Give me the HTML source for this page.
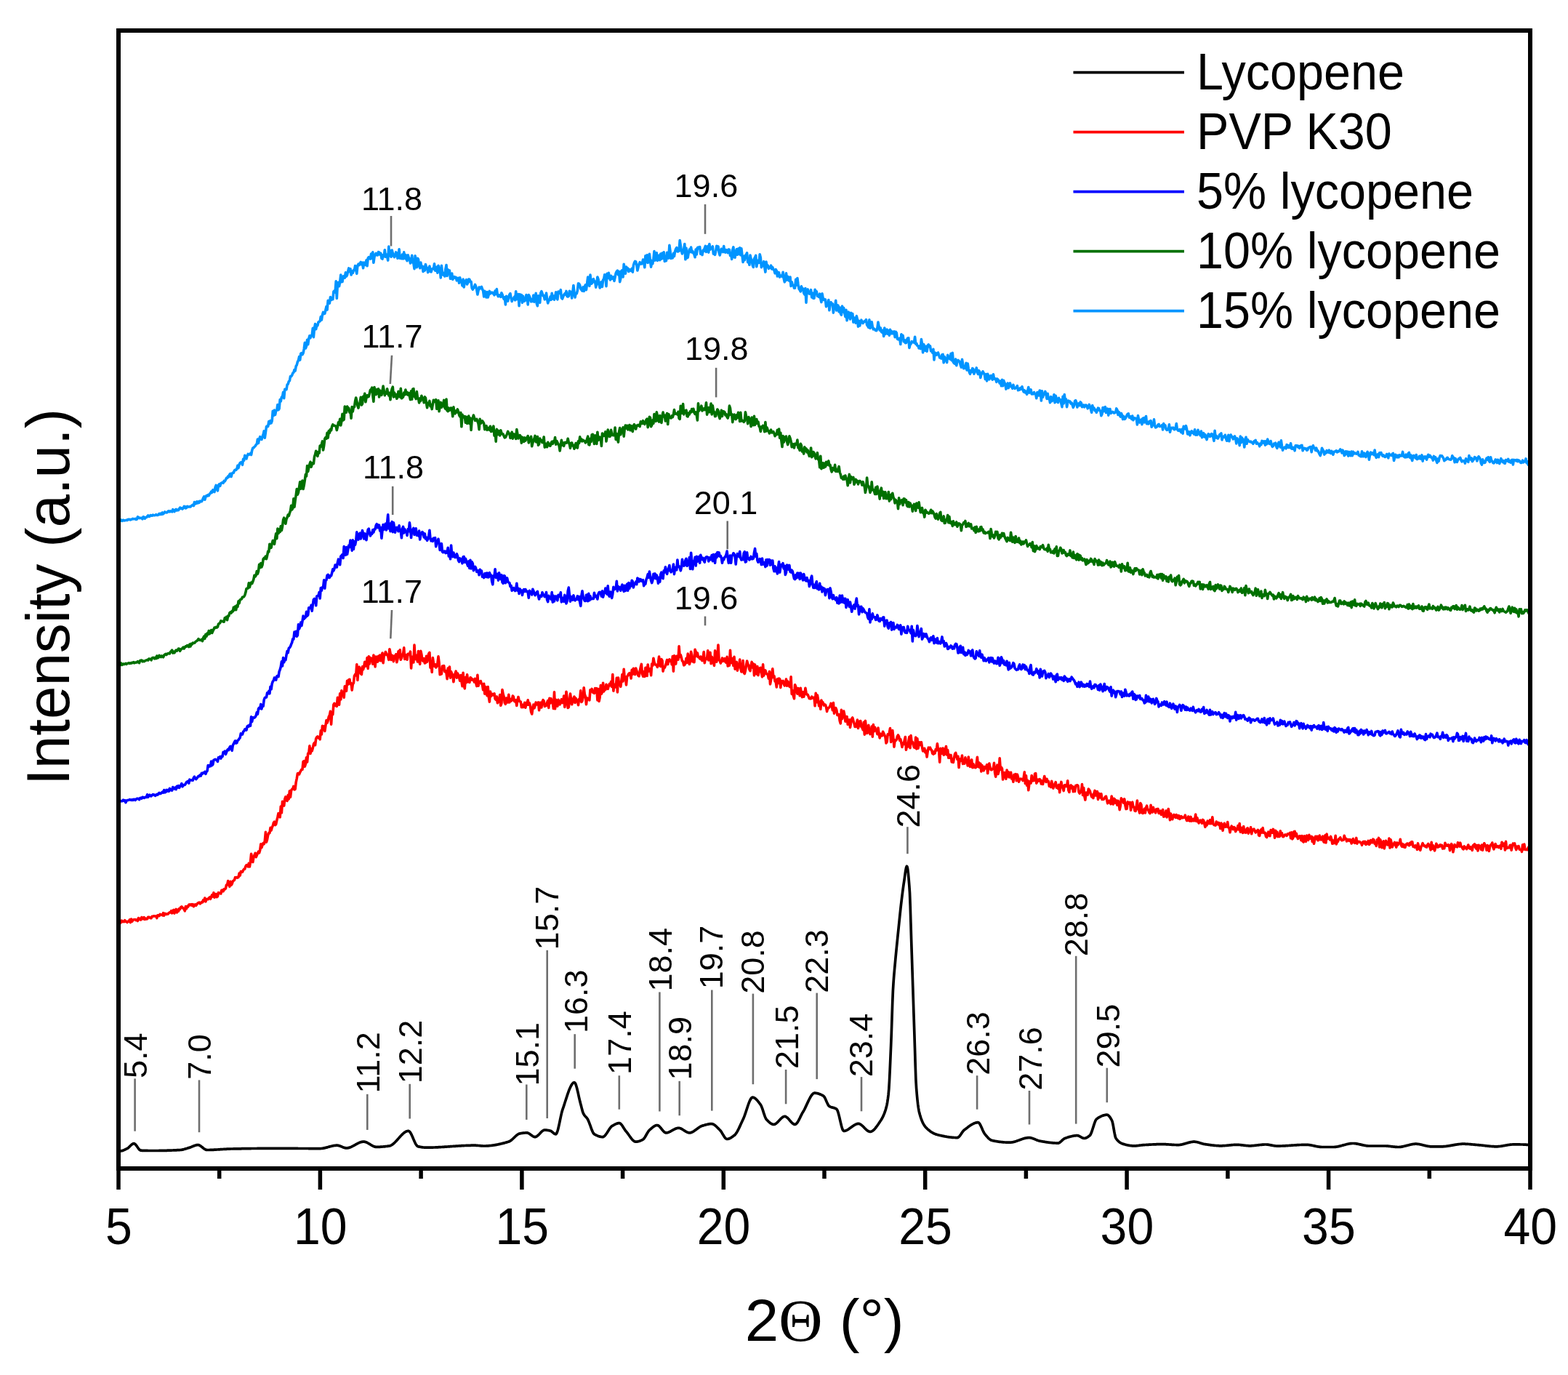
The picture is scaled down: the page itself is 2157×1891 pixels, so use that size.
<!DOCTYPE html><html><head><meta charset="utf-8"><title>XRD</title>
<style>html,body{margin:0;padding:0;background:#fff;}svg{display:block;}text{font-family:"Liberation Sans",Arial,sans-serif;fill:#000;}</style></head><body>
<svg width="2157" height="1891" viewBox="0 0 2157 1891">
<rect width="2157" height="1891" fill="#fff"/>
<g fill="none" stroke-linejoin="round" stroke-linecap="round">
<path d="M163.0 1267.6 L164.1 1268.0 L165.2 1269.7 L166.3 1268.6 L167.4 1266.2 L168.5 1267.7 L169.6 1267.0 L170.7 1267.6 L171.8 1265.7 L172.9 1267.4 L174.0 1267.3 L175.1 1268.5 L176.2 1267.1 L177.3 1267.1 L178.4 1264.9 L179.5 1268.7 L180.6 1264.1 L181.7 1267.2 L182.8 1265.5 L183.9 1264.7 L185.0 1264.8 L186.1 1264.6 L187.2 1265.6 L188.3 1264.9 L189.4 1266.5 L190.5 1262.6 L191.6 1264.5 L192.7 1263.3 L193.8 1265.0 L194.9 1261.5 L196.0 1263.4 L197.1 1263.8 L198.2 1261.6 L199.3 1264.4 L200.4 1263.2 L201.5 1264.0 L202.6 1263.8 L203.7 1261.2 L204.8 1261.2 L205.9 1261.8 L207.0 1262.7 L208.1 1262.6 L209.2 1260.4 L210.3 1260.3 L211.4 1259.8 L212.5 1259.9 L213.6 1260.1 L214.7 1259.9 L215.8 1262.6 L216.9 1258.9 L218.0 1258.9 L219.1 1259.6 L220.2 1257.4 L221.3 1257.9 L222.4 1258.1 L223.5 1258.9 L224.6 1255.6 L225.7 1259.1 L226.8 1256.3 L227.9 1256.8 L229.0 1257.4 L230.1 1256.8 L231.2 1257.1 L232.3 1255.5 L233.4 1254.9 L234.5 1255.0 L235.6 1252.7 L236.7 1255.8 L237.8 1252.4 L238.9 1251.3 L240.0 1256.1 L241.1 1252.4 L242.2 1250.5 L243.3 1254.9 L244.4 1251.2 L245.5 1253.1 L246.6 1249.7 L247.7 1250.3 L248.8 1247.6 L249.9 1246.9 L251.0 1248.1 L252.1 1249.3 L253.2 1250.4 L254.3 1252.8 L255.4 1246.6 L256.5 1249.7 L257.6 1246.6 L258.7 1247.0 L259.8 1244.3 L260.9 1243.9 L262.0 1244.8 L263.1 1243.6 L264.2 1245.3 L265.3 1243.7 L266.4 1246.7 L267.5 1244.4 L268.6 1243.9 L269.7 1245.3 L270.8 1243.7 L271.9 1242.2 L273.0 1241.7 L274.1 1241.1 L275.2 1242.9 L276.3 1241.9 L277.4 1240.6 L278.5 1240.9 L279.6 1237.8 L280.7 1239.3 L281.8 1235.0 L282.9 1239.9 L284.0 1236.9 L285.1 1236.5 L286.2 1236.8 L287.3 1235.0 L288.4 1234.0 L289.5 1236.3 L290.6 1233.5 L291.7 1230.8 L292.8 1233.0 L293.9 1227.8 L295.0 1234.3 L296.1 1229.8 L297.2 1229.6 L298.3 1233.7 L299.4 1232.8 L300.5 1227.7 L301.6 1228.1 L302.7 1228.4 L303.8 1229.1 L304.9 1224.2 L306.0 1224.1 L307.1 1225.8 L308.2 1222.8 L309.3 1223.1 L310.4 1222.0 L311.5 1217.0 L312.6 1216.8 L313.7 1211.6 L314.8 1216.4 L315.9 1219.3 L317.0 1212.4 L318.1 1217.2 L319.2 1215.6 L320.3 1211.9 L321.4 1211.0 L322.5 1210.2 L323.6 1206.6 L324.7 1207.0 L325.8 1206.5 L326.9 1207.1 L328.0 1206.4 L329.1 1201.1 L330.2 1204.1 L331.3 1198.5 L332.4 1198.9 L333.5 1199.2 L334.6 1196.8 L335.7 1195.2 L336.8 1195.1 L337.9 1191.4 L339.0 1189.8 L340.1 1189.7 L341.2 1191.8 L342.3 1187.3 L343.4 1191.9 L344.5 1185.5 L345.6 1174.4 L346.7 1180.6 L347.8 1185.6 L348.9 1179.1 L350.0 1176.2 L351.1 1173.3 L352.2 1178.7 L353.3 1176.2 L354.4 1173.6 L355.5 1171.2 L356.6 1172.9 L357.7 1169.3 L358.8 1160.9 L359.9 1165.8 L361.0 1162.2 L362.1 1159.5 L363.2 1160.7 L364.3 1156.4 L365.4 1144.4 L366.5 1158.1 L367.6 1154.4 L368.7 1148.5 L369.8 1145.6 L370.9 1145.8 L372.0 1138.4 L373.1 1142.1 L374.2 1138.1 L375.3 1135.6 L376.4 1131.4 L377.5 1130.1 L378.6 1134.7 L379.7 1133.5 L380.8 1128.2 L381.9 1123.9 L383.0 1118.5 L384.1 1122.5 L385.2 1123.9 L386.3 1109.0 L387.4 1117.8 L388.5 1102.3 L389.6 1107.4 L390.7 1108.1 L391.8 1098.8 L392.9 1095.9 L394.0 1100.7 L395.1 1101.3 L396.2 1093.5 L397.3 1098.9 L398.4 1087.7 L399.5 1096.3 L400.6 1087.1 L401.7 1085.4 L402.8 1084.8 L403.9 1081.4 L405.0 1085.9 L406.1 1085.3 L407.2 1075.8 L408.3 1070.5 L409.4 1063.8 L410.5 1063.5 L411.6 1064.8 L412.7 1062.1 L413.8 1060.2 L414.9 1058.2 L416.0 1058.2 L417.1 1047.4 L418.2 1046.6 L419.3 1054.3 L420.4 1050.7 L421.5 1041.8 L422.6 1048.1 L423.7 1036.3 L424.8 1035.9 L425.9 1025.9 L427.0 1036.5 L428.1 1029.9 L429.2 1032.9 L430.3 1028.8 L431.4 1023.5 L432.5 1021.6 L433.6 1024.7 L434.7 1015.8 L435.8 1013.8 L436.9 1013.0 L438.0 1014.8 L439.1 1013.5 L440.2 1016.8 L441.3 1004.8 L442.4 1010.0 L443.5 998.4 L444.6 1003.1 L445.7 998.9 L446.8 1005.5 L447.9 997.9 L449.0 990.5 L450.1 994.1 L451.2 991.0 L452.3 985.6 L453.4 983.8 L454.5 978.3 L455.6 996.1 L456.7 980.1 L457.8 982.5 L458.9 968.9 L460.0 967.3 L461.1 970.3 L462.2 968.2 L463.3 971.3 L464.4 959.4 L465.5 965.8 L466.6 969.2 L467.7 953.8 L468.8 962.0 L469.9 949.7 L471.0 955.1 L472.1 953.4 L473.2 959.3 L474.3 943.9 L475.4 947.0 L476.5 950.3 L477.6 936.2 L478.7 941.2 L479.8 934.8 L480.9 934.3 L482.0 940.8 L483.1 939.6 L484.2 949.1 L485.3 940.9 L486.4 939.2 L487.5 929.5 L488.6 927.5 L489.7 928.9 L490.8 913.7 L491.9 935.4 L493.0 920.7 L494.1 917.3 L495.2 919.7 L496.3 926.4 L497.4 927.5 L498.5 916.9 L499.6 920.7 L500.7 916.8 L501.8 910.3 L502.9 916.3 L504.0 914.6 L505.1 904.6 L506.2 919.4 L507.3 902.9 L508.4 912.9 L509.5 904.6 L510.6 905.4 L511.7 905.5 L512.8 913.3 L513.9 901.1 L515.0 907.0 L516.1 916.9 L517.2 903.0 L518.3 906.5 L519.4 910.2 L520.5 902.3 L521.6 908.2 L522.7 901.0 L523.8 908.7 L524.9 904.4 L526.0 898.0 L527.1 911.7 L528.2 902.2 L529.3 900.7 L530.4 896.5 L531.5 898.9 L532.6 900.8 L533.7 902.1 L534.8 907.4 L535.9 892.7 L537.0 898.3 L538.1 907.5 L539.2 901.2 L540.3 902.5 L541.4 909.6 L542.5 902.0 L543.6 902.8 L544.7 899.8 L545.8 910.7 L546.9 906.5 L548.0 895.9 L549.1 903.7 L550.2 893.7 L551.3 907.3 L552.4 905.0 L553.5 900.2 L554.6 899.0 L555.7 890.9 L556.8 906.5 L557.9 901.5 L559.0 900.7 L560.1 907.2 L561.2 899.2 L562.3 900.0 L563.4 899.7 L564.5 896.1 L565.6 919.0 L566.7 903.7 L567.8 903.1 L568.9 911.0 L570.0 887.1 L571.1 906.1 L572.2 906.7 L573.3 901.2 L574.4 910.0 L575.5 895.5 L576.6 908.0 L577.7 913.5 L578.8 895.3 L579.9 900.2 L581.0 908.1 L582.1 909.2 L583.2 905.7 L584.3 912.0 L585.4 911.6 L586.5 902.4 L587.6 910.1 L588.7 903.5 L589.8 899.1 L590.9 897.4 L592.0 918.2 L593.1 911.7 L594.2 924.4 L595.3 904.6 L596.4 911.6 L597.5 916.1 L598.6 913.7 L599.7 918.0 L600.8 916.4 L601.9 912.4 L603.0 902.9 L604.1 911.5 L605.2 927.8 L606.3 922.8 L607.4 926.9 L608.5 916.0 L609.6 919.0 L610.7 915.6 L611.8 923.6 L612.9 922.3 L614.0 925.3 L615.1 933.6 L616.2 919.0 L617.3 928.9 L618.4 917.0 L619.5 932.2 L620.6 923.9 L621.7 926.7 L622.8 928.5 L623.9 937.8 L625.0 928.7 L626.1 926.5 L627.2 923.1 L628.3 932.1 L629.4 926.0 L630.5 928.5 L631.6 931.7 L632.7 936.2 L633.8 928.6 L634.9 937.0 L636.0 943.7 L637.1 925.3 L638.2 942.0 L639.3 946.9 L640.4 931.5 L641.5 938.7 L642.6 927.7 L643.7 937.8 L644.8 934.4 L645.9 938.4 L647.0 931.7 L648.1 932.7 L649.2 935.2 L650.3 934.2 L651.4 935.2 L652.5 938.0 L653.6 933.4 L654.7 939.4 L655.8 943.6 L656.9 928.4 L658.0 943.3 L659.1 938.7 L660.2 937.3 L661.3 936.7 L662.4 940.3 L663.5 941.7 L664.6 948.6 L665.7 940.4 L666.8 954.1 L667.9 944.5 L669.0 953.7 L670.1 956.7 L671.2 944.5 L672.3 958.1 L673.4 965.1 L674.5 951.1 L675.6 957.5 L676.7 954.2 L677.8 955.9 L678.9 955.0 L680.0 953.8 L681.1 961.1 L682.2 962.4 L683.3 958.0 L684.4 966.8 L685.5 964.8 L686.6 963.0 L687.7 955.5 L688.8 970.3 L689.9 967.4 L691.0 948.6 L692.1 954.6 L693.2 958.3 L694.3 966.4 L695.4 968.3 L696.5 960.1 L697.6 963.3 L698.7 966.0 L699.8 955.4 L700.9 965.9 L702.0 961.2 L703.1 964.1 L704.2 963.0 L705.3 957.0 L706.4 958.2 L707.5 964.2 L708.6 964.9 L709.7 962.9 L710.8 970.5 L711.9 962.9 L713.0 958.5 L714.1 963.5 L715.2 964.7 L716.3 965.2 L717.4 972.6 L718.5 969.3 L719.6 972.6 L720.7 970.5 L721.8 966.4 L722.9 973.3 L724.0 966.4 L725.1 969.4 L726.2 962.8 L727.3 969.1 L728.4 966.9 L729.5 970.9 L730.6 978.9 L731.7 982.0 L732.8 974.7 L733.9 969.1 L735.0 973.8 L736.1 970.6 L737.2 966.0 L738.3 969.0 L739.4 968.0 L740.5 966.0 L741.6 976.8 L742.7 966.3 L743.8 966.5 L744.9 973.0 L746.0 965.3 L747.1 962.7 L748.2 964.3 L749.3 971.5 L750.4 970.8 L751.5 970.3 L752.6 966.1 L753.7 963.5 L754.8 973.4 L755.9 960.4 L757.0 967.0 L758.1 960.8 L759.2 965.7 L760.3 967.0 L761.4 974.4 L762.5 951.8 L763.6 974.8 L764.7 962.3 L765.8 968.6 L766.9 971.2 L768.0 962.4 L769.1 965.9 L770.2 968.9 L771.3 965.3 L772.4 961.8 L773.5 966.6 L774.6 966.0 L775.7 957.0 L776.8 972.4 L777.9 966.0 L779.0 951.2 L780.1 959.7 L781.2 973.5 L782.3 972.6 L783.4 965.1 L784.5 954.1 L785.6 961.8 L786.7 968.7 L787.8 964.8 L788.9 960.5 L790.0 958.1 L791.1 966.4 L792.2 960.4 L793.3 963.1 L794.4 963.7 L795.5 969.7 L796.6 961.4 L797.7 961.5 L798.8 949.8 L799.9 965.5 L801.0 963.9 L802.1 958.6 L803.2 945.7 L804.3 954.8 L805.4 957.9 L806.5 968.8 L807.6 960.0 L808.7 960.7 L809.8 960.4 L810.9 962.9 L812.0 948.7 L813.1 949.8 L814.2 947.5 L815.3 952.1 L816.4 951.3 L817.5 953.4 L818.6 946.6 L819.7 952.4 L820.8 946.7 L821.9 962.9 L823.0 947.6 L824.1 964.5 L825.2 958.9 L826.3 942.5 L827.4 954.2 L828.5 951.8 L829.6 939.2 L830.7 950.9 L831.8 946.5 L832.9 948.5 L834.0 941.2 L835.1 945.2 L836.2 947.4 L837.3 943.6 L838.4 940.7 L839.5 942.7 L840.6 937.5 L841.7 944.5 L842.8 927.5 L843.9 950.2 L845.0 941.4 L846.1 943.2 L847.2 944.9 L848.3 932.4 L849.4 951.9 L850.5 932.0 L851.6 940.5 L852.7 939.2 L853.8 944.3 L854.9 936.1 L856.0 927.5 L857.1 936.9 L858.2 920.3 L859.3 932.8 L860.4 930.8 L861.5 941.9 L862.6 930.7 L863.7 929.1 L864.8 926.8 L865.9 925.7 L867.0 926.9 L868.1 933.0 L869.2 921.3 L870.3 927.2 L871.4 919.4 L872.5 926.3 L873.6 927.7 L874.7 919.1 L875.8 922.4 L876.9 925.8 L878.0 929.2 L879.1 929.8 L880.2 923.1 L881.3 917.5 L882.4 913.4 L883.5 927.0 L884.6 930.2 L885.7 923.8 L886.8 930.5 L887.9 918.3 L889.0 918.3 L890.1 929.5 L891.2 914.0 L892.3 923.1 L893.4 921.5 L894.5 919.8 L895.6 928.8 L896.7 913.1 L897.8 915.4 L898.9 905.2 L900.0 911.0 L901.1 913.8 L902.2 914.2 L903.3 914.9 L904.4 917.5 L905.5 911.3 L906.6 903.1 L907.7 915.3 L908.8 916.5 L909.9 906.6 L911.0 908.4 L912.1 923.1 L913.2 918.3 L914.3 918.3 L915.4 915.4 L916.5 911.8 L917.6 907.5 L918.7 913.6 L919.8 908.7 L920.9 906.9 L922.0 909.1 L923.1 908.4 L924.2 914.0 L925.3 902.6 L926.4 923.1 L927.5 901.9 L928.6 905.1 L929.7 913.1 L930.8 902.3 L931.9 904.2 L933.0 907.1 L934.1 888.9 L935.2 903.5 L936.3 900.6 L937.4 904.8 L938.5 909.1 L939.6 909.8 L940.7 914.9 L941.8 914.4 L942.9 911.8 L944.0 905.2 L945.1 911.5 L946.2 899.1 L947.3 904.4 L948.4 913.5 L949.5 909.5 L950.6 896.2 L951.7 900.9 L952.8 909.9 L953.9 908.0 L955.0 910.7 L956.1 893.4 L957.2 896.4 L958.3 902.5 L959.4 898.0 L960.5 903.7 L961.6 903.9 L962.7 905.9 L963.8 903.0 L964.9 907.2 L966.0 908.6 L967.1 904.8 L968.2 896.6 L969.3 911.8 L970.4 905.4 L971.5 906.7 L972.6 905.3 L973.7 894.7 L974.8 908.0 L975.9 900.7 L977.0 897.4 L978.1 912.7 L979.2 903.3 L980.3 907.0 L981.4 910.8 L982.5 915.4 L983.6 894.9 L984.7 901.5 L985.8 910.3 L986.9 902.4 L988.0 887.0 L989.1 907.7 L990.2 908.4 L991.3 912.1 L992.4 908.9 L993.5 905.1 L994.6 909.3 L995.7 908.1 L996.8 905.6 L997.9 910.4 L999.0 911.3 L1000.1 903.4 L1001.2 916.0 L1002.3 915.1 L1003.4 915.1 L1004.5 894.3 L1005.6 911.8 L1006.7 910.6 L1007.8 905.7 L1008.9 915.5 L1010.0 903.4 L1011.1 920.1 L1012.2 915.4 L1013.3 910.4 L1014.4 922.2 L1015.5 916.9 L1016.6 916.4 L1017.7 907.1 L1018.8 918.3 L1019.9 923.9 L1021.0 922.4 L1022.1 908.6 L1023.2 924.9 L1024.3 926.5 L1025.4 922.3 L1026.5 915.4 L1027.6 909.1 L1028.7 913.0 L1029.8 915.3 L1030.9 920.7 L1032.0 922.7 L1033.1 915.3 L1034.2 910.4 L1035.3 917.9 L1036.4 912.9 L1037.5 928.9 L1038.6 914.1 L1039.7 924.5 L1040.8 926.9 L1041.9 916.6 L1043.0 928.6 L1044.1 922.3 L1045.2 918.8 L1046.3 918.3 L1047.4 924.9 L1048.5 930.9 L1049.6 913.9 L1050.7 929.1 L1051.8 925.0 L1052.9 921.9 L1054.0 926.2 L1055.1 927.2 L1056.2 927.5 L1057.3 933.1 L1058.4 923.6 L1059.5 940.9 L1060.6 935.1 L1061.7 927.0 L1062.8 919.8 L1063.9 931.5 L1065.0 929.8 L1066.1 937.0 L1067.2 937.5 L1068.3 945.0 L1069.4 933.7 L1070.5 939.6 L1071.6 933.1 L1072.7 934.0 L1073.8 945.6 L1074.9 936.5 L1076.0 937.2 L1077.1 936.4 L1078.2 940.8 L1079.3 943.0 L1080.4 939.4 L1081.5 934.1 L1082.6 943.2 L1083.7 937.1 L1084.8 940.3 L1085.9 944.1 L1087.0 944.9 L1088.1 930.8 L1089.2 954.4 L1090.3 949.8 L1091.4 956.9 L1092.5 960.8 L1093.6 941.7 L1094.7 944.4 L1095.8 949.6 L1096.9 954.2 L1098.0 946.6 L1099.1 948.3 L1100.2 956.8 L1101.3 946.4 L1102.4 953.2 L1103.5 958.8 L1104.6 951.8 L1105.7 958.3 L1106.8 954.0 L1107.9 946.4 L1109.0 952.9 L1110.1 955.4 L1111.2 955.4 L1112.3 958.0 L1113.4 960.8 L1114.5 960.8 L1115.6 960.9 L1116.7 958.1 L1117.8 960.0 L1118.9 959.8 L1120.0 959.2 L1121.1 970.8 L1122.2 953.3 L1123.3 965.7 L1124.4 956.1 L1125.5 962.4 L1126.6 970.8 L1127.7 965.4 L1128.8 975.3 L1129.9 963.0 L1131.0 967.2 L1132.1 966.0 L1133.2 970.1 L1134.3 968.9 L1135.4 969.2 L1136.5 972.3 L1137.6 978.4 L1138.7 973.8 L1139.8 973.9 L1140.9 972.5 L1142.0 970.8 L1143.1 967.4 L1144.2 970.1 L1145.3 976.6 L1146.4 966.6 L1147.5 981.1 L1148.6 975.8 L1149.7 973.6 L1150.8 976.4 L1151.9 983.4 L1153.0 982.5 L1154.1 982.6 L1155.2 991.2 L1156.3 995.0 L1157.4 976.4 L1158.5 988.6 L1159.6 980.5 L1160.7 978.0 L1161.8 983.2 L1162.9 992.1 L1164.0 985.8 L1165.1 985.6 L1166.2 996.3 L1167.3 992.2 L1168.4 989.8 L1169.5 1000.4 L1170.6 994.1 L1171.7 988.3 L1172.8 987.0 L1173.9 991.2 L1175.0 994.8 L1176.1 999.5 L1177.2 999.5 L1178.3 996.2 L1179.4 990.0 L1180.5 1001.5 L1181.6 997.6 L1182.7 991.9 L1183.8 991.6 L1184.9 999.6 L1186.0 1000.7 L1187.1 1003.6 L1188.2 993.4 L1189.3 1010.2 L1190.4 991.2 L1191.5 1000.9 L1192.6 1008.5 L1193.7 1007.4 L1194.8 997.4 L1195.9 1006.0 L1197.0 1009.6 L1198.1 1007.5 L1199.2 999.1 L1200.3 1013.2 L1201.4 996.6 L1202.5 1005.7 L1203.6 1000.3 L1204.7 1004.1 L1205.8 1005.0 L1206.9 1009.7 L1208.0 1001.0 L1209.1 1009.1 L1210.2 1015.0 L1211.3 1009.2 L1212.4 1012.0 L1213.5 1011.8 L1214.6 1006.2 L1215.7 1008.5 L1216.8 1011.0 L1217.9 1013.6 L1219.0 1021.9 L1220.1 1020.3 L1221.2 1009.9 L1222.3 1010.5 L1223.4 1007.9 L1224.5 1001.6 L1225.6 1020.4 L1226.7 1016.8 L1227.8 1004.6 L1228.9 1014.9 L1230.0 1027.1 L1231.1 1018.0 L1232.2 1018.4 L1233.3 1017.3 L1234.4 1012.7 L1235.5 1011.0 L1236.6 1013.1 L1237.7 1018.3 L1238.8 1016.7 L1239.9 1021.8 L1241.0 1027.5 L1242.1 1022.0 L1243.2 1023.6 L1244.3 1017.9 L1245.4 1013.5 L1246.5 1031.3 L1247.6 1024.4 L1248.7 1027.0 L1249.8 1019.5 L1250.9 1013.2 L1252.0 1028.7 L1253.1 1011.6 L1254.2 1022.0 L1255.3 1020.5 L1256.4 1024.6 L1257.5 1027.9 L1258.6 1028.3 L1259.7 1014.1 L1260.8 1029.9 L1261.9 1015.9 L1263.0 1029.1 L1264.1 1024.0 L1265.2 1020.9 L1266.3 1024.3 L1267.4 1020.8 L1268.5 1027.7 L1269.6 1032.9 L1270.7 1032.6 L1271.8 1029.3 L1272.9 1034.9 L1274.0 1032.4 L1275.1 1041.0 L1276.2 1033.3 L1277.3 1028.2 L1278.4 1030.0 L1279.5 1028.1 L1280.6 1030.8 L1281.7 1031.8 L1282.8 1036.3 L1283.9 1037.1 L1285.0 1033.8 L1286.1 1036.0 L1287.2 1030.5 L1288.3 1031.8 L1289.4 1022.7 L1290.5 1031.2 L1291.6 1032.9 L1292.7 1048.2 L1293.8 1029.3 L1294.9 1036.5 L1296.0 1034.8 L1297.1 1029.0 L1298.2 1038.3 L1299.3 1037.4 L1300.4 1030.5 L1301.5 1026.6 L1302.6 1038.0 L1303.7 1031.6 L1304.8 1042.2 L1305.9 1037.9 L1307.0 1042.2 L1308.1 1038.5 L1309.2 1047.9 L1310.3 1044.1 L1311.4 1048.5 L1312.5 1042.0 L1313.6 1036.9 L1314.7 1035.3 L1315.8 1040.1 L1316.9 1044.3 L1318.0 1040.3 L1319.1 1055.5 L1320.2 1043.7 L1321.3 1046.6 L1322.4 1045.1 L1323.5 1039.0 L1324.6 1050.5 L1325.7 1048.9 L1326.8 1050.2 L1327.9 1041.9 L1329.0 1046.8 L1330.1 1046.8 L1331.2 1053.0 L1332.3 1041.0 L1333.4 1051.2 L1334.5 1054.4 L1335.6 1046.6 L1336.7 1045.0 L1337.8 1055.6 L1338.9 1050.7 L1340.0 1055.3 L1341.1 1053.9 L1342.2 1055.7 L1343.3 1050.1 L1344.4 1041.2 L1345.5 1054.5 L1346.6 1048.8 L1347.7 1055.4 L1348.8 1050.3 L1349.9 1061.0 L1351.0 1052.5 L1352.1 1058.0 L1353.2 1059.8 L1354.3 1054.5 L1355.4 1056.9 L1356.5 1055.7 L1357.6 1051.8 L1358.7 1063.5 L1359.8 1052.6 L1360.9 1050.0 L1362.0 1055.3 L1363.1 1058.7 L1364.2 1058.8 L1365.3 1057.2 L1366.4 1057.0 L1367.5 1049.4 L1368.6 1062.7 L1369.7 1068.2 L1370.8 1057.0 L1371.9 1052.2 L1373.0 1064.5 L1374.1 1060.5 L1375.2 1042.9 L1376.3 1058.3 L1377.4 1055.3 L1378.5 1056.9 L1379.6 1072.0 L1380.7 1067.6 L1381.8 1062.5 L1382.9 1063.6 L1384.0 1071.2 L1385.1 1059.0 L1386.2 1067.9 L1387.3 1061.8 L1388.4 1069.0 L1389.5 1066.5 L1390.6 1062.3 L1391.7 1071.0 L1392.8 1069.0 L1393.9 1075.3 L1395.0 1065.2 L1396.1 1068.1 L1397.2 1064.6 L1398.3 1073.8 L1399.4 1065.0 L1400.5 1068.7 L1401.6 1075.2 L1402.7 1071.9 L1403.8 1071.1 L1404.9 1071.3 L1406.0 1071.9 L1407.1 1073.6 L1408.2 1069.4 L1409.3 1061.9 L1410.4 1077.5 L1411.5 1066.7 L1412.6 1080.2 L1413.7 1073.3 L1414.8 1086.8 L1415.9 1077.8 L1417.0 1074.5 L1418.1 1077.0 L1419.2 1066.5 L1420.3 1073.9 L1421.4 1071.6 L1422.5 1073.5 L1423.6 1064.2 L1424.7 1063.6 L1425.8 1077.2 L1426.9 1074.3 L1428.0 1072.2 L1429.1 1074.0 L1430.2 1071.6 L1431.3 1072.6 L1432.4 1078.1 L1433.5 1074.1 L1434.6 1078.5 L1435.7 1072.3 L1436.8 1067.5 L1437.9 1073.0 L1439.0 1075.5 L1440.1 1071.3 L1441.2 1074.8 L1442.3 1074.5 L1443.4 1081.3 L1444.5 1081.1 L1445.6 1082.5 L1446.7 1074.3 L1447.8 1079.6 L1448.9 1084.1 L1450.0 1079.3 L1451.1 1078.5 L1452.2 1075.6 L1453.3 1083.1 L1454.4 1080.4 L1455.5 1084.4 L1456.6 1079.4 L1457.7 1089.7 L1458.8 1080.6 L1459.9 1075.4 L1461.0 1082.2 L1462.1 1083.7 L1463.2 1087.6 L1464.3 1079.9 L1465.4 1079.9 L1466.5 1081.5 L1467.6 1081.2 L1468.7 1073.7 L1469.8 1086.7 L1470.9 1089.4 L1472.0 1080.7 L1473.1 1080.0 L1474.2 1084.0 L1475.3 1081.3 L1476.4 1088.8 L1477.5 1082.7 L1478.6 1088.5 L1479.7 1080.5 L1480.8 1080.1 L1481.9 1079.7 L1483.0 1080.6 L1484.1 1089.1 L1485.2 1091.2 L1486.3 1088.4 L1487.4 1089.0 L1488.5 1078.6 L1489.6 1093.5 L1490.7 1083.5 L1491.8 1094.9 L1492.9 1100.1 L1494.0 1090.1 L1495.1 1092.9 L1496.2 1093.2 L1497.3 1085.0 L1498.4 1086.2 L1499.5 1088.4 L1500.6 1092.5 L1501.7 1095.8 L1502.8 1093.0 L1503.9 1097.6 L1505.0 1091.0 L1506.1 1087.4 L1507.2 1094.0 L1508.3 1094.0 L1509.4 1088.5 L1510.5 1099.4 L1511.6 1091.2 L1512.7 1092.6 L1513.8 1097.0 L1514.9 1091.8 L1516.0 1099.4 L1517.1 1098.7 L1518.2 1099.3 L1519.3 1097.7 L1520.4 1096.0 L1521.5 1095.1 L1522.6 1099.9 L1523.7 1104.8 L1524.8 1102.6 L1525.9 1101.1 L1527.0 1104.1 L1528.1 1105.7 L1529.2 1095.0 L1530.3 1100.4 L1531.4 1106.1 L1532.5 1098.4 L1533.6 1099.4 L1534.7 1104.3 L1535.8 1101.0 L1536.9 1107.3 L1538.0 1101.2 L1539.1 1105.3 L1540.2 1113.6 L1541.3 1108.2 L1542.4 1097.9 L1543.5 1099.5 L1544.6 1099.9 L1545.7 1104.2 L1546.8 1098.9 L1547.9 1107.4 L1549.0 1112.6 L1550.1 1112.2 L1551.2 1102.8 L1552.3 1105.1 L1553.4 1105.3 L1554.5 1103.5 L1555.6 1114.3 L1556.7 1104.7 L1557.8 1103.2 L1558.9 1109.7 L1560.0 1109.9 L1561.1 1115.1 L1562.2 1115.5 L1563.3 1108.7 L1564.4 1101.1 L1565.5 1112.9 L1566.6 1113.7 L1567.7 1118.1 L1568.8 1104.5 L1569.9 1106.5 L1571.0 1117.9 L1572.1 1118.5 L1573.2 1117.4 L1574.3 1112.3 L1575.4 1117.9 L1576.5 1110.7 L1577.6 1108.1 L1578.7 1113.2 L1579.8 1114.2 L1580.9 1117.3 L1582.0 1118.7 L1583.1 1107.4 L1584.2 1115.9 L1585.3 1117.0 L1586.4 1110.2 L1587.5 1114.5 L1588.6 1116.0 L1589.7 1117.8 L1590.8 1112.8 L1591.9 1114.1 L1593.0 1112.4 L1594.1 1118.4 L1595.2 1116.0 L1596.3 1115.2 L1597.4 1120.4 L1598.5 1117.4 L1599.6 1113.5 L1600.7 1123.1 L1601.8 1122.7 L1602.9 1120.9 L1604.0 1115.1 L1605.1 1123.9 L1606.2 1117.4 L1607.3 1112.6 L1608.4 1119.7 L1609.5 1127.7 L1610.6 1119.0 L1611.7 1123.3 L1612.8 1126.7 L1613.9 1122.2 L1615.0 1120.5 L1616.1 1122.0 L1617.2 1124.5 L1618.3 1120.5 L1619.4 1124.1 L1620.5 1125.1 L1621.6 1121.7 L1622.7 1126.3 L1623.8 1125.9 L1624.9 1122.7 L1626.0 1123.5 L1627.1 1124.9 L1628.2 1124.1 L1629.3 1124.2 L1630.4 1121.2 L1631.5 1125.9 L1632.6 1128.6 L1633.7 1128.4 L1634.8 1123.0 L1635.9 1128.6 L1637.0 1129.1 L1638.1 1123.4 L1639.2 1129.2 L1640.3 1126.8 L1641.4 1126.3 L1642.5 1128.9 L1643.6 1127.4 L1644.7 1120.0 L1645.8 1129.5 L1646.9 1124.7 L1648.0 1128.8 L1649.1 1132.0 L1650.2 1128.8 L1651.3 1128.2 L1652.4 1130.6 L1653.5 1132.2 L1654.6 1127.4 L1655.7 1128.4 L1656.8 1132.9 L1657.9 1137.3 L1659.0 1131.5 L1660.1 1135.0 L1661.2 1129.1 L1662.3 1132.2 L1663.4 1132.6 L1664.5 1127.8 L1665.6 1132.7 L1666.7 1132.3 L1667.8 1123.7 L1668.9 1133.0 L1670.0 1134.6 L1671.1 1134.6 L1672.2 1135.1 L1673.3 1130.0 L1674.4 1131.6 L1675.5 1133.8 L1676.6 1131.5 L1677.7 1133.1 L1678.8 1139.5 L1679.9 1132.0 L1681.0 1134.1 L1682.1 1142.3 L1683.2 1135.3 L1684.3 1132.3 L1685.4 1137.1 L1686.5 1137.0 L1687.6 1137.0 L1688.7 1130.6 L1689.8 1137.9 L1690.9 1138.5 L1692.0 1144.8 L1693.1 1140.0 L1694.2 1136.1 L1695.3 1139.0 L1696.4 1140.5 L1697.5 1137.7 L1698.6 1138.3 L1699.7 1143.6 L1700.8 1140.6 L1701.9 1140.8 L1703.0 1135.7 L1704.1 1140.9 L1705.2 1132.6 L1706.3 1144.1 L1707.4 1138.2 L1708.5 1142.3 L1709.6 1145.3 L1710.7 1136.5 L1711.8 1144.8 L1712.9 1141.6 L1714.0 1145.1 L1715.1 1139.8 L1716.2 1138.8 L1717.3 1146.1 L1718.4 1143.1 L1719.5 1142.0 L1720.6 1137.8 L1721.7 1146.8 L1722.8 1141.1 L1723.9 1141.6 L1725.0 1140.1 L1726.1 1142.8 L1727.2 1145.0 L1728.3 1142.8 L1729.4 1142.9 L1730.5 1141.4 L1731.6 1148.8 L1732.7 1149.4 L1733.8 1142.8 L1734.9 1140.9 L1736.0 1145.1 L1737.1 1138.6 L1738.2 1145.3 L1739.3 1145.5 L1740.4 1145.3 L1741.5 1150.5 L1742.6 1151.5 L1743.7 1146.8 L1744.8 1144.1 L1745.9 1149.1 L1747.0 1149.7 L1748.1 1141.6 L1749.2 1143.4 L1750.3 1145.2 L1751.4 1140.4 L1752.5 1142.5 L1753.6 1152.3 L1754.7 1142.3 L1755.8 1149.8 L1756.9 1144.2 L1758.0 1150.6 L1759.1 1148.4 L1760.2 1150.5 L1761.3 1142.7 L1762.4 1148.7 L1763.5 1145.8 L1764.6 1150.6 L1765.7 1150.6 L1766.8 1148.8 L1767.9 1147.9 L1769.0 1148.4 L1770.1 1149.4 L1771.2 1146.9 L1772.3 1147.3 L1773.4 1146.7 L1774.5 1145.4 L1775.6 1152.8 L1776.7 1144.7 L1777.8 1153.9 L1778.9 1152.0 L1780.0 1143.7 L1781.1 1143.4 L1782.2 1150.0 L1783.3 1146.3 L1784.4 1150.6 L1785.5 1153.5 L1786.6 1151.6 L1787.7 1149.7 L1788.8 1149.9 L1789.9 1155.7 L1791.0 1149.5 L1792.1 1156.9 L1793.2 1158.0 L1794.3 1149.9 L1795.4 1152.3 L1796.5 1157.3 L1797.6 1149.1 L1798.7 1153.1 L1799.8 1155.3 L1800.9 1148.3 L1802.0 1153.2 L1803.1 1152.5 L1804.2 1150.4 L1805.3 1157.5 L1806.4 1151.9 L1807.5 1160.3 L1808.6 1155.0 L1809.7 1150.3 L1810.8 1153.7 L1811.9 1150.3 L1813.0 1155.8 L1814.1 1155.3 L1815.2 1149.1 L1816.3 1151.9 L1817.4 1155.0 L1818.5 1153.6 L1819.6 1150.2 L1820.7 1157.3 L1821.8 1158.3 L1822.9 1148.8 L1824.0 1158.9 L1825.1 1147.0 L1826.2 1153.6 L1827.3 1151.8 L1828.4 1152.3 L1829.5 1154.9 L1830.6 1150.4 L1831.7 1154.1 L1832.8 1160.2 L1833.9 1156.1 L1835.0 1159.7 L1836.1 1157.6 L1837.2 1149.3 L1838.3 1160.9 L1839.4 1157.8 L1840.5 1157.3 L1841.6 1153.9 L1842.7 1153.4 L1843.8 1151.8 L1844.9 1154.9 L1846.0 1155.8 L1847.1 1155.0 L1848.2 1155.1 L1849.3 1149.2 L1850.4 1153.2 L1851.5 1153.2 L1852.6 1156.9 L1853.7 1154.5 L1854.8 1154.5 L1855.9 1156.4 L1857.0 1154.6 L1858.1 1155.3 L1859.2 1160.0 L1860.3 1155.9 L1861.4 1153.5 L1862.5 1158.6 L1863.6 1159.4 L1864.7 1158.8 L1865.8 1152.4 L1866.9 1160.1 L1868.0 1157.2 L1869.1 1157.5 L1870.2 1157.5 L1871.3 1158.8 L1872.4 1159.0 L1873.5 1162.3 L1874.6 1158.3 L1875.7 1157.3 L1876.8 1159.8 L1877.9 1157.4 L1879.0 1161.4 L1880.1 1158.4 L1881.2 1160.5 L1882.3 1156.4 L1883.4 1161.4 L1884.5 1160.3 L1885.6 1155.5 L1886.7 1157.2 L1887.8 1158.8 L1888.9 1154.2 L1890.0 1155.1 L1891.1 1160.3 L1892.2 1160.4 L1893.3 1163.3 L1894.4 1154.7 L1895.5 1157.8 L1896.6 1152.4 L1897.7 1164.9 L1898.8 1154.9 L1899.9 1158.5 L1901.0 1165.7 L1902.1 1164.1 L1903.2 1156.7 L1904.3 1166.9 L1905.4 1161.1 L1906.5 1156.3 L1907.6 1160.6 L1908.7 1161.9 L1909.8 1162.0 L1910.9 1153.0 L1912.0 1166.0 L1913.1 1154.9 L1914.2 1159.5 L1915.3 1164.9 L1916.4 1161.6 L1917.5 1160.3 L1918.6 1158.5 L1919.7 1162.4 L1920.8 1165.1 L1921.9 1158.9 L1923.0 1162.1 L1924.1 1159.6 L1925.2 1159.6 L1926.3 1154.3 L1927.4 1161.9 L1928.5 1164.2 L1929.6 1160.7 L1930.7 1164.7 L1931.8 1162.0 L1932.9 1165.4 L1934.0 1162.0 L1935.1 1160.4 L1936.2 1160.1 L1937.3 1162.1 L1938.4 1162.8 L1939.5 1159.4 L1940.6 1161.5 L1941.7 1157.7 L1942.8 1157.8 L1943.9 1164.3 L1945.0 1163.4 L1946.1 1165.2 L1947.2 1162.8 L1948.3 1163.3 L1949.4 1168.4 L1950.5 1159.9 L1951.6 1163.6 L1952.7 1167.8 L1953.8 1169.3 L1954.9 1164.6 L1956.0 1162.5 L1957.1 1159.6 L1958.2 1162.5 L1959.3 1163.6 L1960.4 1163.2 L1961.5 1164.8 L1962.6 1165.1 L1963.7 1161.8 L1964.8 1160.5 L1965.9 1162.5 L1967.0 1164.9 L1968.1 1168.8 L1969.2 1158.4 L1970.3 1167.1 L1971.4 1162.8 L1972.5 1167.3 L1973.6 1169.9 L1974.7 1165.5 L1975.8 1160.3 L1976.9 1162.7 L1978.0 1165.2 L1979.1 1163.1 L1980.2 1164.0 L1981.3 1161.8 L1982.4 1163.6 L1983.5 1162.3 L1984.6 1167.1 L1985.7 1165.4 L1986.8 1166.8 L1987.9 1159.3 L1989.0 1163.1 L1990.1 1162.2 L1991.2 1163.2 L1992.3 1161.8 L1993.4 1162.3 L1994.5 1169.6 L1995.6 1163.8 L1996.7 1160.7 L1997.8 1163.7 L1998.9 1171.8 L2000.0 1166.9 L2001.1 1161.7 L2002.2 1163.9 L2003.3 1164.4 L2004.4 1164.8 L2005.5 1158.8 L2006.6 1161.7 L2007.7 1164.1 L2008.8 1159.2 L2009.9 1164.0 L2011.0 1164.8 L2012.1 1167.0 L2013.2 1167.9 L2014.3 1163.9 L2015.4 1165.2 L2016.5 1166.6 L2017.6 1167.7 L2018.7 1164.7 L2019.8 1162.0 L2020.9 1166.3 L2022.0 1167.1 L2023.1 1164.8 L2024.2 1166.1 L2025.3 1169.3 L2026.4 1162.7 L2027.5 1162.0 L2028.6 1160.8 L2029.7 1165.3 L2030.8 1167.2 L2031.9 1162.6 L2033.0 1169.9 L2034.1 1162.3 L2035.2 1165.0 L2036.3 1163.7 L2037.4 1168.4 L2038.5 1162.1 L2039.6 1169.2 L2040.7 1163.5 L2041.8 1159.8 L2042.9 1162.2 L2044.0 1163.5 L2045.1 1169.3 L2046.2 1162.5 L2047.3 1163.9 L2048.4 1170.5 L2049.5 1164.5 L2050.6 1162.0 L2051.7 1161.6 L2052.8 1159.0 L2053.9 1165.1 L2055.0 1167.8 L2056.1 1162.8 L2057.2 1160.6 L2058.3 1164.9 L2059.4 1164.0 L2060.5 1163.6 L2061.6 1165.5 L2062.7 1164.2 L2063.8 1162.9 L2064.9 1167.3 L2066.0 1158.3 L2067.1 1160.6 L2068.2 1163.3 L2069.3 1160.0 L2070.4 1169.0 L2071.5 1157.4 L2072.6 1166.6 L2073.7 1166.2 L2074.8 1165.5 L2075.9 1165.8 L2077.0 1162.7 L2078.1 1162.3 L2079.2 1169.1 L2080.3 1164.2 L2081.4 1160.1 L2082.5 1160.9 L2083.6 1160.0 L2084.7 1165.8 L2085.8 1168.6 L2086.9 1164.1 L2088.0 1165.6 L2089.1 1163.6 L2090.2 1168.1 L2091.3 1168.2 L2092.4 1168.4 L2093.5 1171.3 L2094.6 1161.8 L2095.7 1168.3 L2096.8 1161.0 L2097.9 1168.2 L2099.0 1168.6 L2100.1 1168.4 L2101.2 1168.7 L2102.3 1165.8 L2103.4 1164.3" stroke="#ff0000" stroke-width="3.6"/>
<path d="M163.0 1103.7 L164.1 1100.4 L165.2 1102.4 L166.3 1101.6 L167.4 1101.6 L168.5 1101.6 L169.6 1100.2 L170.7 1101.4 L171.8 1100.7 L172.9 1103.7 L174.0 1101.3 L175.1 1100.6 L176.2 1100.5 L177.3 1100.1 L178.4 1099.6 L179.5 1099.9 L180.6 1100.4 L181.7 1099.7 L182.8 1100.4 L183.9 1099.3 L185.0 1099.3 L186.1 1100.4 L187.2 1099.3 L188.3 1098.2 L189.4 1098.3 L190.5 1098.7 L191.6 1099.7 L192.7 1097.5 L193.8 1097.3 L194.9 1098.2 L196.0 1096.2 L197.1 1096.5 L198.2 1097.4 L199.3 1096.9 L200.4 1096.1 L201.5 1096.4 L202.6 1092.8 L203.7 1096.3 L204.8 1094.1 L205.9 1093.1 L207.0 1094.7 L208.1 1094.9 L209.2 1093.5 L210.3 1092.5 L211.4 1093.4 L212.5 1093.0 L213.6 1094.3 L214.7 1093.3 L215.8 1092.4 L216.9 1093.1 L218.0 1091.4 L219.1 1090.3 L220.2 1091.6 L221.3 1091.3 L222.4 1090.1 L223.5 1089.1 L224.6 1090.0 L225.7 1086.5 L226.8 1089.8 L227.9 1089.3 L229.0 1086.4 L230.1 1088.0 L231.2 1086.4 L232.3 1088.2 L233.4 1084.4 L234.5 1085.3 L235.6 1086.9 L236.7 1087.1 L237.8 1082.5 L238.9 1084.2 L240.0 1084.8 L241.1 1083.1 L242.2 1085.6 L243.3 1081.4 L244.4 1083.0 L245.5 1080.6 L246.6 1083.4 L247.7 1081.0 L248.8 1080.0 L249.9 1077.6 L251.0 1081.8 L252.1 1080.0 L253.2 1079.5 L254.3 1079.5 L255.4 1077.8 L256.5 1075.8 L257.6 1075.0 L258.7 1074.4 L259.8 1077.1 L260.9 1072.2 L262.0 1073.0 L263.1 1072.8 L264.2 1073.1 L265.3 1073.1 L266.4 1069.6 L267.5 1068.2 L268.6 1070.4 L269.7 1071.7 L270.8 1070.4 L271.9 1068.8 L273.0 1067.3 L274.1 1067.6 L275.2 1065.9 L276.3 1067.0 L277.4 1063.4 L278.5 1064.1 L279.6 1062.7 L280.7 1062.9 L281.8 1061.3 L282.9 1064.4 L284.0 1061.4 L285.1 1060.2 L286.2 1052.5 L287.3 1054.4 L288.4 1052.7 L289.5 1053.7 L290.6 1047.0 L291.7 1052.6 L292.8 1051.3 L293.9 1045.4 L295.0 1045.0 L296.1 1044.3 L297.2 1045.0 L298.3 1045.3 L299.4 1047.3 L300.5 1041.7 L301.6 1042.8 L302.7 1040.6 L303.8 1043.1 L304.9 1040.1 L306.0 1040.6 L307.1 1034.4 L308.2 1035.4 L309.3 1033.2 L310.4 1037.4 L311.5 1034.7 L312.6 1031.6 L313.7 1030.4 L314.8 1031.5 L315.9 1027.9 L317.0 1026.4 L318.1 1028.6 L319.2 1032.2 L320.3 1024.9 L321.4 1023.0 L322.5 1020.4 L323.6 1018.8 L324.7 1022.1 L325.8 1021.6 L326.9 1018.3 L328.0 1017.7 L329.1 1015.8 L330.2 1014.5 L331.3 1008.9 L332.4 1010.1 L333.5 1010.0 L334.6 1006.2 L335.7 1005.4 L336.8 1002.9 L337.9 1002.6 L339.0 1004.1 L340.1 999.1 L341.2 998.1 L342.3 999.1 L343.4 996.9 L344.5 998.1 L345.6 985.9 L346.7 992.4 L347.8 986.9 L348.9 986.9 L350.0 987.1 L351.1 986.0 L352.2 984.1 L353.3 979.8 L354.4 982.2 L355.5 974.9 L356.6 973.4 L357.7 974.4 L358.8 968.5 L359.9 974.9 L361.0 969.5 L362.1 971.2 L363.2 962.5 L364.3 959.5 L365.4 959.2 L366.5 959.0 L367.6 952.9 L368.7 953.9 L369.8 950.6 L370.9 953.9 L372.0 944.4 L373.1 947.9 L374.2 940.3 L375.3 937.1 L376.4 935.8 L377.5 932.0 L378.6 934.3 L379.7 935.2 L380.8 930.0 L381.9 929.4 L383.0 930.6 L384.1 923.6 L385.2 921.0 L386.3 917.0 L387.4 909.9 L388.5 916.0 L389.6 904.6 L390.7 910.8 L391.8 906.0 L392.9 907.7 L394.0 900.9 L395.1 895.7 L396.2 897.6 L397.3 891.7 L398.4 890.7 L399.5 889.1 L400.6 886.1 L401.7 883.5 L402.8 878.7 L403.9 878.9 L405.0 869.0 L406.1 874.5 L407.2 868.2 L408.3 875.1 L409.4 873.6 L410.5 858.7 L411.6 865.0 L412.7 861.8 L413.8 856.1 L414.9 860.4 L416.0 854.4 L417.1 847.1 L418.2 851.3 L419.3 849.8 L420.4 848.9 L421.5 841.4 L422.6 847.1 L423.7 845.7 L424.8 835.8 L425.9 835.9 L427.0 836.4 L428.1 832.4 L429.2 840.2 L430.3 831.7 L431.4 824.5 L432.5 823.5 L433.6 824.6 L434.7 832.8 L435.8 820.1 L436.9 819.4 L438.0 819.1 L439.1 814.7 L440.2 822.9 L441.3 808.6 L442.4 812.3 L443.5 807.7 L444.6 807.8 L445.7 797.9 L446.8 809.1 L447.9 798.8 L449.0 797.6 L450.1 791.3 L451.2 790.3 L452.3 794.4 L453.4 794.4 L454.5 791.6 L455.6 791.8 L456.7 787.8 L457.8 782.8 L458.9 784.8 L460.0 782.0 L461.1 777.0 L462.2 779.2 L463.3 780.1 L464.4 773.6 L465.5 769.2 L466.6 772.6 L467.7 776.7 L468.8 765.2 L469.9 764.2 L471.0 762.6 L472.1 767.6 L473.2 751.6 L474.3 760.8 L475.4 763.4 L476.5 752.5 L477.6 762.3 L478.7 756.5 L479.8 750.1 L480.9 752.5 L482.0 743.0 L483.1 746.6 L484.2 757.1 L485.3 742.9 L486.4 755.2 L487.5 744.9 L488.6 749.2 L489.7 743.7 L490.8 731.8 L491.9 739.1 L493.0 742.1 L494.1 734.8 L495.2 733.2 L496.3 740.9 L497.4 735.3 L498.5 729.6 L499.6 734.0 L500.7 741.0 L501.8 733.9 L502.9 740.3 L504.0 742.7 L505.1 734.8 L506.2 728.5 L507.3 727.2 L508.4 733.0 L509.5 736.9 L510.6 733.4 L511.7 734.3 L512.8 728.9 L513.9 732.1 L515.0 727.7 L516.1 727.9 L517.2 722.6 L518.3 720.7 L519.4 725.7 L520.5 722.0 L521.6 722.3 L522.7 729.9 L523.8 725.5 L524.9 740.2 L526.0 729.8 L527.1 721.6 L528.2 728.2 L529.3 725.8 L530.4 720.2 L531.5 728.9 L532.6 719.3 L533.7 707.8 L534.8 727.0 L535.9 720.0 L537.0 730.6 L538.1 720.1 L539.2 717.6 L540.3 731.6 L541.4 718.8 L542.5 725.5 L543.6 732.1 L544.7 725.8 L545.8 725.3 L546.9 726.6 L548.0 730.7 L549.1 722.9 L550.2 730.4 L551.3 730.6 L552.4 739.8 L553.5 726.9 L554.6 724.4 L555.7 732.9 L556.8 727.7 L557.9 731.4 L559.0 731.0 L560.1 736.4 L561.2 727.6 L562.3 730.7 L563.4 718.8 L564.5 727.2 L565.6 739.5 L566.7 728.7 L567.8 728.7 L568.9 726.3 L570.0 735.4 L571.1 733.5 L572.2 726.8 L573.3 736.2 L574.4 734.3 L575.5 736.8 L576.6 730.1 L577.7 742.0 L578.8 735.7 L579.9 733.3 L581.0 731.6 L582.1 733.2 L583.2 739.0 L584.3 733.9 L585.4 740.9 L586.5 739.0 L587.6 743.3 L588.7 741.2 L589.8 737.6 L590.9 729.2 L592.0 740.7 L593.1 743.9 L594.2 741.6 L595.3 744.3 L596.4 740.2 L597.5 741.5 L598.6 739.6 L599.7 751.7 L600.8 746.7 L601.9 744.5 L603.0 741.3 L604.1 747.9 L605.2 756.5 L606.3 752.6 L607.4 747.7 L608.5 758.9 L609.6 759.7 L610.7 758.3 L611.8 758.1 L612.9 760.6 L614.0 758.3 L615.1 760.2 L616.2 753.4 L617.3 765.0 L618.4 759.5 L619.5 768.8 L620.6 750.0 L621.7 763.7 L622.8 765.7 L623.9 760.0 L625.0 764.5 L626.1 766.6 L627.2 766.4 L628.3 761.8 L629.4 764.4 L630.5 770.7 L631.6 772.7 L632.7 767.9 L633.8 768.6 L634.9 770.0 L636.0 774.8 L637.1 765.9 L638.2 765.5 L639.3 773.2 L640.4 768.3 L641.5 771.6 L642.6 775.6 L643.7 778.3 L644.8 771.9 L645.9 781.5 L647.0 770.3 L648.1 781.9 L649.2 772.8 L650.3 775.0 L651.4 784.6 L652.5 780.4 L653.6 779.3 L654.7 781.6 L655.8 786.4 L656.9 784.6 L658.0 785.3 L659.1 790.8 L660.2 783.2 L661.3 784.8 L662.4 785.0 L663.5 793.2 L664.6 792.8 L665.7 794.5 L666.8 788.8 L667.9 788.6 L669.0 793.5 L670.1 788.1 L671.2 794.0 L672.3 793.8 L673.4 787.6 L674.5 790.7 L675.6 790.9 L676.7 799.6 L677.8 803.8 L678.9 791.9 L680.0 792.8 L681.1 782.7 L682.2 794.4 L683.3 793.7 L684.4 789.3 L685.5 798.1 L686.6 787.9 L687.7 794.5 L688.8 796.5 L689.9 790.7 L691.0 800.7 L692.1 802.2 L693.2 791.7 L694.3 792.2 L695.4 801.8 L696.5 799.6 L697.6 794.9 L698.7 799.7 L699.8 801.2 L700.9 801.7 L702.0 806.7 L703.1 805.3 L704.2 812.2 L705.3 811.0 L706.4 808.5 L707.5 810.9 L708.6 812.6 L709.7 810.4 L710.8 802.3 L711.9 812.1 L713.0 809.1 L714.1 816.4 L715.2 810.1 L716.3 812.5 L717.4 812.0 L718.5 818.4 L719.6 812.2 L720.7 810.6 L721.8 813.5 L722.9 810.5 L724.0 813.5 L725.1 813.1 L726.2 814.7 L727.3 822.3 L728.4 812.4 L729.5 814.6 L730.6 813.9 L731.7 818.0 L732.8 810.2 L733.9 812.7 L735.0 815.8 L736.1 818.7 L737.2 816.4 L738.3 814.7 L739.4 813.4 L740.5 819.7 L741.6 824.0 L742.7 819.4 L743.8 819.1 L744.9 820.4 L746.0 814.7 L747.1 817.6 L748.2 818.1 L749.3 820.7 L750.4 819.5 L751.5 814.6 L752.6 824.9 L753.7 827.6 L754.8 819.3 L755.9 822.3 L757.0 821.9 L758.1 824.3 L759.2 814.6 L760.3 828.2 L761.4 819.3 L762.5 826.9 L763.6 821.9 L764.7 820.0 L765.8 821.2 L766.9 825.8 L768.0 818.2 L769.1 820.4 L770.2 820.1 L771.3 814.8 L772.4 827.9 L773.5 824.8 L774.6 822.3 L775.7 827.4 L776.8 818.3 L777.9 822.1 L779.0 829.9 L780.1 826.7 L781.2 812.9 L782.3 808.1 L783.4 818.0 L784.5 827.1 L785.6 820.5 L786.7 821.6 L787.8 825.1 L788.9 818.7 L790.0 823.4 L791.1 825.9 L792.2 824.5 L793.3 824.2 L794.4 819.8 L795.5 824.6 L796.6 820.5 L797.7 828.0 L798.8 833.4 L799.9 819.0 L801.0 812.8 L802.1 820.2 L803.2 823.6 L804.3 826.4 L805.4 826.4 L806.5 818.2 L807.6 818.0 L808.7 826.8 L809.8 816.4 L810.9 825.7 L812.0 819.8 L813.1 823.9 L814.2 823.4 L815.3 823.5 L816.4 823.4 L817.5 815.3 L818.6 820.7 L819.7 819.2 L820.8 820.2 L821.9 823.9 L823.0 817.0 L824.1 814.8 L825.2 814.4 L826.3 815.8 L827.4 820.1 L828.5 812.9 L829.6 821.1 L830.7 816.9 L831.8 814.3 L832.9 809.0 L834.0 815.5 L835.1 817.1 L836.2 805.9 L837.3 818.5 L838.4 820.2 L839.5 814.0 L840.6 814.4 L841.7 822.5 L842.8 816.9 L843.9 807.2 L845.0 810.7 L846.1 809.8 L847.2 809.5 L848.3 799.4 L849.4 812.9 L850.5 806.4 L851.6 809.6 L852.7 808.0 L853.8 812.2 L854.9 806.7 L856.0 804.1 L857.1 809.7 L858.2 813.3 L859.3 805.3 L860.4 812.5 L861.5 807.3 L862.6 803.4 L863.7 812.2 L864.8 801.5 L865.9 809.3 L867.0 802.2 L868.1 806.1 L869.2 798.3 L870.3 799.7 L871.4 807.9 L872.5 803.6 L873.6 802.6 L874.7 800.1 L875.8 803.7 L876.9 795.1 L878.0 796.0 L879.1 799.9 L880.2 796.5 L881.3 796.7 L882.4 799.2 L883.5 798.5 L884.6 797.7 L885.7 805.8 L886.8 802.5 L887.9 803.1 L889.0 797.0 L890.1 794.5 L891.2 789.8 L892.3 794.3 L893.4 786.1 L894.5 792.4 L895.6 798.1 L896.7 801.6 L897.8 798.2 L898.9 789.4 L900.0 795.1 L901.1 788.9 L902.2 795.7 L903.3 791.0 L904.4 795.0 L905.5 802.3 L906.6 794.3 L907.7 800.3 L908.8 790.0 L909.9 787.2 L911.0 794.3 L912.1 795.6 L913.2 784.7 L914.3 787.1 L915.4 779.7 L916.5 784.9 L917.6 789.4 L918.7 784.4 L919.8 781.8 L920.9 777.5 L922.0 785.2 L923.1 786.8 L924.2 785.4 L925.3 783.4 L926.4 776.0 L927.5 789.6 L928.6 780.8 L929.7 780.1 L930.8 783.8 L931.9 770.0 L933.0 779.4 L934.1 778.7 L935.2 780.7 L936.3 784.8 L937.4 780.4 L938.5 769.4 L939.6 776.0 L940.7 778.1 L941.8 777.5 L942.9 770.5 L944.0 768.3 L945.1 778.3 L946.2 776.9 L947.3 774.8 L948.4 766.5 L949.5 782.5 L950.6 760.2 L951.7 771.7 L952.8 782.8 L953.9 771.9 L955.0 773.4 L956.1 766.4 L957.2 778.0 L958.3 765.2 L959.4 772.2 L960.5 771.3 L961.6 765.5 L962.7 774.3 L963.8 763.2 L964.9 766.5 L966.0 769.3 L967.1 767.3 L968.2 771.2 L969.3 773.2 L970.4 767.3 L971.5 766.0 L972.6 765.9 L973.7 766.5 L974.8 771.9 L975.9 766.9 L977.0 769.7 L978.1 767.3 L979.2 763.6 L980.3 771.6 L981.4 762.5 L982.5 767.3 L983.6 774.3 L984.7 762.0 L985.8 766.8 L986.9 759.6 L988.0 764.6 L989.1 759.9 L990.2 765.2 L991.3 764.3 L992.4 767.4 L993.5 774.3 L994.6 768.1 L995.7 769.8 L996.8 766.4 L997.9 765.5 L999.0 762.7 L1000.1 758.1 L1001.2 766.9 L1002.3 774.3 L1003.4 768.8 L1004.5 764.0 L1005.6 774.3 L1006.7 764.5 L1007.8 763.6 L1008.9 760.8 L1010.0 762.0 L1011.1 765.4 L1012.2 776.0 L1013.3 765.6 L1014.4 761.7 L1015.5 763.8 L1016.6 765.6 L1017.7 758.6 L1018.8 767.3 L1019.9 770.0 L1021.0 768.3 L1022.1 769.6 L1023.2 760.8 L1024.3 758.9 L1025.4 773.0 L1026.5 772.2 L1027.6 759.8 L1028.7 768.2 L1029.8 767.4 L1030.9 770.0 L1032.0 768.6 L1033.1 765.4 L1034.2 768.8 L1035.3 768.8 L1036.4 768.1 L1037.5 759.8 L1038.6 754.6 L1039.7 765.3 L1040.8 761.6 L1041.9 770.7 L1043.0 773.2 L1044.1 771.4 L1045.2 768.7 L1046.3 771.1 L1047.4 776.6 L1048.5 768.0 L1049.6 776.1 L1050.7 775.4 L1051.8 773.7 L1052.9 779.6 L1054.0 769.8 L1055.1 777.9 L1056.2 769.6 L1057.3 770.7 L1058.4 769.7 L1059.5 777.2 L1060.6 771.1 L1061.7 776.1 L1062.8 771.0 L1063.9 781.7 L1065.0 785.7 L1066.1 778.7 L1067.2 785.7 L1068.3 781.1 L1069.4 789.0 L1070.5 779.9 L1071.6 772.6 L1072.7 787.2 L1073.8 780.2 L1074.9 776.5 L1076.0 778.7 L1077.1 774.7 L1078.2 781.9 L1079.3 778.3 L1080.4 790.5 L1081.5 787.2 L1082.6 777.0 L1083.7 778.2 L1084.8 783.1 L1085.9 777.4 L1087.0 786.2 L1088.1 787.0 L1089.2 784.2 L1090.3 785.8 L1091.4 791.1 L1092.5 795.8 L1093.6 796.7 L1094.7 790.6 L1095.8 794.8 L1096.9 788.1 L1098.0 793.9 L1099.1 788.2 L1100.2 796.5 L1101.3 788.1 L1102.4 789.9 L1103.5 794.8 L1104.6 797.9 L1105.7 789.5 L1106.8 794.1 L1107.9 797.8 L1109.0 798.8 L1110.1 794.6 L1111.2 799.4 L1112.3 798.3 L1113.4 806.4 L1114.5 803.2 L1115.6 795.4 L1116.7 792.1 L1117.8 803.1 L1118.9 808.5 L1120.0 804.7 L1121.1 808.5 L1122.2 803.0 L1123.3 799.8 L1124.4 809.8 L1125.5 807.6 L1126.6 810.9 L1127.7 802.4 L1128.8 809.9 L1129.9 807.0 L1131.0 814.0 L1132.1 808.6 L1133.2 809.1 L1134.3 809.8 L1135.4 818.6 L1136.5 813.8 L1137.6 811.0 L1138.7 810.5 L1139.8 811.0 L1140.9 822.6 L1142.0 808.9 L1143.1 813.7 L1144.2 820.8 L1145.3 823.7 L1146.4 818.5 L1147.5 823.2 L1148.6 823.6 L1149.7 825.2 L1150.8 821.7 L1151.9 829.2 L1153.0 823.6 L1154.1 829.9 L1155.2 819.1 L1156.3 828.5 L1157.4 819.6 L1158.5 819.2 L1159.6 828.3 L1160.7 823.2 L1161.8 829.3 L1162.9 823.3 L1164.0 835.4 L1165.1 829.1 L1166.2 824.8 L1167.3 831.0 L1168.4 834.5 L1169.5 828.1 L1170.6 834.1 L1171.7 841.2 L1172.8 836.7 L1173.9 833.6 L1175.0 831.8 L1176.1 837.2 L1177.2 828.9 L1178.3 823.0 L1179.4 833.6 L1180.5 832.4 L1181.6 844.9 L1182.7 838.7 L1183.8 834.5 L1184.9 834.3 L1186.0 841.8 L1187.1 836.8 L1188.2 838.4 L1189.3 841.0 L1190.4 842.3 L1191.5 842.9 L1192.6 843.5 L1193.7 849.0 L1194.8 851.2 L1195.9 837.8 L1197.0 855.9 L1198.1 846.3 L1199.2 851.5 L1200.3 843.8 L1201.4 848.7 L1202.5 848.8 L1203.6 848.9 L1204.7 852.5 L1205.8 852.1 L1206.9 845.9 L1208.0 850.1 L1209.1 854.1 L1210.2 854.4 L1211.3 850.7 L1212.4 851.5 L1213.5 852.5 L1214.6 849.1 L1215.7 848.9 L1216.8 861.1 L1217.9 853.5 L1219.0 856.0 L1220.1 853.1 L1221.2 861.9 L1222.3 864.2 L1223.4 856.7 L1224.5 860.1 L1225.6 855.5 L1226.7 866.1 L1227.8 863.2 L1228.9 856.5 L1230.0 865.4 L1231.1 862.2 L1232.2 862.9 L1233.3 863.1 L1234.4 859.4 L1235.5 860.3 L1236.6 865.4 L1237.7 863.1 L1238.8 859.9 L1239.9 872.2 L1241.0 863.7 L1242.1 862.7 L1243.2 862.5 L1244.3 868.5 L1245.4 870.0 L1246.5 867.5 L1247.6 870.4 L1248.7 861.3 L1249.8 866.2 L1250.9 866.2 L1252.0 868.5 L1253.1 870.8 L1254.2 861.2 L1255.3 882.0 L1256.4 866.6 L1257.5 871.8 L1258.6 874.1 L1259.7 874.6 L1260.8 872.6 L1261.9 860.5 L1263.0 868.1 L1264.1 875.8 L1265.2 869.5 L1266.3 869.4 L1267.4 864.7 L1268.5 879.1 L1269.6 876.7 L1270.7 871.6 L1271.8 874.9 L1272.9 875.4 L1274.0 871.9 L1275.1 875.5 L1276.2 878.0 L1277.3 879.5 L1278.4 882.7 L1279.5 878.3 L1280.6 876.8 L1281.7 880.5 L1282.8 876.9 L1283.9 874.9 L1285.0 884.6 L1286.1 879.1 L1287.2 881.5 L1288.3 883.9 L1289.4 877.6 L1290.5 884.7 L1291.6 884.4 L1292.7 882.7 L1293.8 885.0 L1294.9 881.0 L1296.0 875.9 L1297.1 883.7 L1298.2 881.7 L1299.3 889.0 L1300.4 887.1 L1301.5 884.5 L1302.6 887.1 L1303.7 892.5 L1304.8 892.1 L1305.9 889.6 L1307.0 890.3 L1308.1 888.0 L1309.2 889.0 L1310.3 892.2 L1311.4 889.9 L1312.5 891.9 L1313.6 887.0 L1314.7 885.4 L1315.8 885.7 L1316.9 890.8 L1318.0 897.9 L1319.1 897.7 L1320.2 890.0 L1321.3 888.3 L1322.4 897.5 L1323.5 896.6 L1324.6 890.2 L1325.7 899.6 L1326.8 896.7 L1327.9 901.4 L1329.0 898.1 L1330.1 900.5 L1331.2 898.7 L1332.3 894.4 L1333.4 897.4 L1334.5 896.1 L1335.6 902.0 L1336.7 895.6 L1337.8 894.0 L1338.9 902.5 L1340.0 904.6 L1341.1 906.0 L1342.2 905.1 L1343.3 895.8 L1344.4 899.1 L1345.5 900.0 L1346.6 902.3 L1347.7 894.8 L1348.8 903.0 L1349.9 904.4 L1351.0 900.2 L1352.1 904.4 L1353.2 908.7 L1354.3 904.8 L1355.4 908.8 L1356.5 909.0 L1357.6 907.1 L1358.7 907.3 L1359.8 904.9 L1360.9 911.0 L1362.0 905.1 L1363.1 904.6 L1364.2 910.0 L1365.3 905.1 L1366.4 909.6 L1367.5 912.2 L1368.6 909.0 L1369.7 909.4 L1370.8 912.7 L1371.9 912.4 L1373.0 904.4 L1374.1 905.5 L1375.2 915.4 L1376.3 912.3 L1377.4 903.7 L1378.5 906.7 L1379.6 911.9 L1380.7 908.6 L1381.8 914.1 L1382.9 913.0 L1384.0 914.8 L1385.1 909.2 L1386.2 915.9 L1387.3 921.0 L1388.4 911.4 L1389.5 919.3 L1390.6 918.4 L1391.7 917.5 L1392.8 915.3 L1393.9 911.7 L1395.0 913.0 L1396.1 919.1 L1397.2 920.2 L1398.3 921.3 L1399.4 920.7 L1400.5 920.8 L1401.6 916.3 L1402.7 913.9 L1403.8 919.2 L1404.9 920.5 L1406.0 919.4 L1407.1 914.0 L1408.2 917.8 L1409.3 914.7 L1410.4 920.7 L1411.5 916.8 L1412.6 920.2 L1413.7 922.2 L1414.8 921.9 L1415.9 926.5 L1417.0 918.1 L1418.1 914.6 L1419.2 925.8 L1420.3 927.7 L1421.4 928.1 L1422.5 924.4 L1423.6 925.6 L1424.7 924.4 L1425.8 919.8 L1426.9 922.6 L1428.0 926.5 L1429.1 923.1 L1430.2 932.0 L1431.3 920.3 L1432.4 924.4 L1433.5 930.1 L1434.6 924.4 L1435.7 922.9 L1436.8 922.4 L1437.9 924.8 L1439.0 932.8 L1440.1 929.3 L1441.2 929.9 L1442.3 926.7 L1443.4 931.6 L1444.5 929.4 L1445.6 926.1 L1446.7 928.0 L1447.8 930.5 L1448.9 934.1 L1450.0 930.2 L1451.1 932.4 L1452.2 937.8 L1453.3 928.5 L1454.4 927.2 L1455.5 935.1 L1456.6 933.5 L1457.7 932.0 L1458.8 933.5 L1459.9 931.7 L1461.0 934.9 L1462.1 932.3 L1463.2 936.4 L1464.3 930.0 L1465.4 931.5 L1466.5 934.9 L1467.6 933.2 L1468.7 937.4 L1469.8 935.2 L1470.9 933.8 L1472.0 936.6 L1473.1 934.4 L1474.2 931.2 L1475.3 932.9 L1476.4 934.3 L1477.5 935.7 L1478.6 937.8 L1479.7 940.8 L1480.8 939.9 L1481.9 944.3 L1483.0 942.9 L1484.1 938.2 L1485.2 944.7 L1486.3 943.4 L1487.4 938.2 L1488.5 941.0 L1489.6 943.9 L1490.7 941.3 L1491.8 944.2 L1492.9 942.4 L1494.0 943.7 L1495.1 940.5 L1496.2 943.1 L1497.3 940.9 L1498.4 944.6 L1499.5 937.1 L1500.6 944.0 L1501.7 947.3 L1502.8 945.4 L1503.9 943.7 L1505.0 945.8 L1506.1 941.5 L1507.2 941.8 L1508.3 943.6 L1509.4 944.6 L1510.5 948.5 L1511.6 942.7 L1512.7 949.2 L1513.8 941.0 L1514.9 943.8 L1516.0 946.6 L1517.1 950.7 L1518.2 945.2 L1519.3 940.5 L1520.4 949.1 L1521.5 947.9 L1522.6 944.7 L1523.7 945.1 L1524.8 946.5 L1525.9 949.4 L1527.0 951.4 L1528.1 944.8 L1529.2 957.2 L1530.3 950.0 L1531.4 949.2 L1532.5 952.8 L1533.6 951.2 L1534.7 958.7 L1535.8 954.9 L1536.9 950.5 L1538.0 950.7 L1539.1 950.6 L1540.2 951.4 L1541.3 954.9 L1542.4 951.0 L1543.5 958.5 L1544.6 953.4 L1545.7 953.4 L1546.8 957.2 L1547.9 948.2 L1549.0 951.8 L1550.1 956.9 L1551.2 955.3 L1552.3 955.6 L1553.4 957.1 L1554.5 954.3 L1555.6 955.9 L1556.7 952.4 L1557.8 951.1 L1558.9 961.3 L1560.0 954.6 L1561.1 955.6 L1562.2 962.5 L1563.3 961.8 L1564.4 957.1 L1565.5 957.3 L1566.6 959.0 L1567.7 956.5 L1568.8 961.5 L1569.9 960.5 L1571.0 960.8 L1572.1 963.0 L1573.2 963.1 L1574.3 966.9 L1575.4 966.2 L1576.5 956.4 L1577.6 964.8 L1578.7 958.8 L1579.8 958.1 L1580.9 965.0 L1582.0 960.9 L1583.1 962.3 L1584.2 966.9 L1585.3 961.8 L1586.4 961.4 L1587.5 965.4 L1588.6 968.4 L1589.7 966.5 L1590.8 960.4 L1591.9 963.4 L1593.0 965.2 L1594.1 971.9 L1595.2 968.9 L1596.3 969.1 L1597.4 970.4 L1598.5 966.0 L1599.6 968.7 L1600.7 969.0 L1601.8 964.8 L1602.9 968.0 L1604.0 970.0 L1605.1 965.2 L1606.2 971.2 L1607.3 971.3 L1608.4 972.4 L1609.5 967.2 L1610.6 970.1 L1611.7 974.4 L1612.8 972.6 L1613.9 968.1 L1615.0 971.4 L1616.1 975.2 L1617.2 971.0 L1618.3 972.6 L1619.4 979.4 L1620.5 971.8 L1621.6 971.8 L1622.7 969.4 L1623.8 970.6 L1624.9 977.3 L1626.0 972.6 L1627.1 969.7 L1628.2 970.7 L1629.3 973.7 L1630.4 976.2 L1631.5 972.0 L1632.6 976.5 L1633.7 973.2 L1634.8 975.9 L1635.9 976.6 L1637.0 977.1 L1638.1 974.2 L1639.2 975.2 L1640.3 977.4 L1641.4 972.3 L1642.5 976.9 L1643.6 978.1 L1644.7 979.8 L1645.8 976.9 L1646.9 976.6 L1648.0 977.8 L1649.1 975.4 L1650.2 977.2 L1651.3 979.2 L1652.4 979.0 L1653.5 975.4 L1654.6 977.7 L1655.7 972.6 L1656.8 981.4 L1657.9 977.7 L1659.0 980.1 L1660.1 976.4 L1661.2 979.6 L1662.3 981.3 L1663.4 983.1 L1664.5 976.4 L1665.6 983.0 L1666.7 980.3 L1667.8 978.7 L1668.9 982.5 L1670.0 980.5 L1671.1 980.7 L1672.2 979.7 L1673.3 982.6 L1674.4 982.2 L1675.5 981.8 L1676.6 979.7 L1677.7 981.2 L1678.8 984.0 L1679.9 986.7 L1681.0 983.1 L1682.1 987.4 L1683.2 983.5 L1684.3 980.6 L1685.4 985.7 L1686.5 981.3 L1687.6 985.4 L1688.7 987.5 L1689.8 983.7 L1690.9 984.5 L1692.0 992.0 L1693.1 985.8 L1694.2 986.1 L1695.3 987.7 L1696.4 985.4 L1697.5 985.6 L1698.6 987.1 L1699.7 979.4 L1700.8 990.3 L1701.9 983.5 L1703.0 983.6 L1704.1 988.4 L1705.2 987.1 L1706.3 983.6 L1707.4 987.9 L1708.5 984.3 L1709.6 985.7 L1710.7 983.6 L1711.8 985.6 L1712.9 989.2 L1714.0 988.6 L1715.1 989.3 L1716.2 991.2 L1717.3 988.6 L1718.4 987.1 L1719.5 988.3 L1720.6 993.8 L1721.7 989.5 L1722.8 990.4 L1723.9 989.4 L1725.0 990.5 L1726.1 991.2 L1727.2 990.1 L1728.3 989.8 L1729.4 988.3 L1730.5 988.2 L1731.6 991.9 L1732.7 992.9 L1733.8 993.6 L1734.9 991.3 L1736.0 989.0 L1737.1 993.2 L1738.2 993.3 L1739.3 987.6 L1740.4 994.1 L1741.5 993.6 L1742.6 996.8 L1743.7 989.2 L1744.8 988.9 L1745.9 994.7 L1747.0 987.8 L1748.1 990.8 L1749.2 990.0 L1750.3 990.3 L1751.4 988.0 L1752.5 992.7 L1753.6 996.2 L1754.7 994.9 L1755.8 995.0 L1756.9 993.0 L1758.0 998.0 L1759.1 995.6 L1760.2 997.2 L1761.3 990.2 L1762.4 995.5 L1763.5 991.6 L1764.6 995.8 L1765.7 995.5 L1766.8 992.0 L1767.9 995.7 L1769.0 998.5 L1770.1 996.8 L1771.2 997.2 L1772.3 993.4 L1773.4 994.0 L1774.5 992.9 L1775.6 996.4 L1776.7 999.4 L1777.8 997.5 L1778.9 996.4 L1780.0 993.5 L1781.1 997.9 L1782.2 996.1 L1783.3 991.7 L1784.4 992.3 L1785.5 996.2 L1786.6 994.8 L1787.7 1001.8 L1788.8 997.5 L1789.9 994.7 L1791.0 996.3 L1792.1 1002.0 L1793.2 995.3 L1794.3 1000.0 L1795.4 999.2 L1796.5 1002.1 L1797.6 999.7 L1798.7 997.3 L1799.8 999.9 L1800.9 998.8 L1802.0 1001.3 L1803.1 998.6 L1804.2 1004.2 L1805.3 998.8 L1806.4 1000.3 L1807.5 997.5 L1808.6 999.7 L1809.7 999.5 L1810.8 1000.0 L1811.9 1002.1 L1813.0 998.4 L1814.1 997.7 L1815.2 1003.0 L1816.3 999.4 L1817.4 998.5 L1818.5 1003.5 L1819.6 1002.6 L1820.7 993.6 L1821.8 999.8 L1822.9 1003.0 L1824.0 1003.2 L1825.1 999.8 L1826.2 1005.4 L1827.3 999.3 L1828.4 1000.9 L1829.5 1002.0 L1830.6 1001.8 L1831.7 1004.1 L1832.8 1004.8 L1833.9 1002.1 L1835.0 1006.0 L1836.1 1000.7 L1837.2 1002.0 L1838.3 1007.3 L1839.4 1003.1 L1840.5 1005.8 L1841.6 1002.0 L1842.7 1002.6 L1843.8 1003.1 L1844.9 1004.0 L1846.0 1002.7 L1847.1 1003.8 L1848.2 1005.6 L1849.3 1007.1 L1850.4 1004.4 L1851.5 1005.9 L1852.6 1006.7 L1853.7 1001.6 L1854.8 1000.4 L1855.9 1008.9 L1857.0 1008.2 L1858.1 1005.0 L1859.2 1005.9 L1860.3 1002.6 L1861.4 1001.6 L1862.5 1006.1 L1863.6 1001.5 L1864.7 1007.8 L1865.8 1003.8 L1866.9 1006.4 L1868.0 1010.8 L1869.1 1010.8 L1870.2 1005.3 L1871.3 1008.8 L1872.4 1003.5 L1873.5 1004.7 L1874.6 1007.3 L1875.7 1010.0 L1876.8 1005.0 L1877.9 1008.0 L1879.0 1007.0 L1880.1 1003.5 L1881.2 1006.5 L1882.3 1010.8 L1883.4 1006.8 L1884.5 1008.4 L1885.6 1009.4 L1886.7 1005.4 L1887.8 1010.6 L1888.9 1011.3 L1890.0 1011.7 L1891.1 1011.0 L1892.2 1006.5 L1893.3 1006.3 L1894.4 1005.9 L1895.5 1005.6 L1896.6 1006.0 L1897.7 1010.6 L1898.8 1011.9 L1899.9 1006.6 L1901.0 1010.4 L1902.1 1005.1 L1903.2 1007.6 L1904.3 1006.0 L1905.4 1004.4 L1906.5 1008.8 L1907.6 1008.9 L1908.7 1007.7 L1909.8 1007.5 L1910.9 1006.4 L1912.0 1008.6 L1913.1 1007.5 L1914.2 1009.7 L1915.3 1006.0 L1916.4 1009.8 L1917.5 1010.5 L1918.6 1012.5 L1919.7 1012.0 L1920.8 1009.9 L1921.9 1007.7 L1923.0 1004.9 L1924.1 1009.6 L1925.2 1013.2 L1926.3 1013.9 L1927.4 1003.3 L1928.5 1007.9 L1929.6 1009.0 L1930.7 1007.3 L1931.8 1010.4 L1932.9 1010.1 L1934.0 1008.8 L1935.1 1010.0 L1936.2 1006.1 L1937.3 1007.8 L1938.4 1008.0 L1939.5 1012.6 L1940.6 1006.3 L1941.7 1009.9 L1942.8 1012.5 L1943.9 1010.4 L1945.0 1012.7 L1946.1 1009.0 L1947.2 1011.9 L1948.3 1013.1 L1949.4 1016.6 L1950.5 1012.8 L1951.6 1014.6 L1952.7 1011.1 L1953.8 1011.4 L1954.9 1015.2 L1956.0 1012.8 L1957.1 1014.9 L1958.2 1013.2 L1959.3 1016.8 L1960.4 1017.6 L1961.5 1009.5 L1962.6 1016.4 L1963.7 1012.8 L1964.8 1013.0 L1965.9 1011.6 L1967.0 1013.8 L1968.1 1009.2 L1969.2 1010.3 L1970.3 1010.2 L1971.4 1013.0 L1972.5 1014.6 L1973.6 1014.2 L1974.7 1013.4 L1975.8 1011.0 L1976.9 1008.1 L1978.0 1013.7 L1979.1 1013.1 L1980.2 1013.7 L1981.3 1016.4 L1982.4 1012.5 L1983.5 1012.5 L1984.6 1007.3 L1985.7 1014.5 L1986.8 1013.1 L1987.9 1011.4 L1989.0 1014.3 L1990.1 1010.8 L1991.2 1012.1 L1992.3 1018.5 L1993.4 1015.5 L1994.5 1016.0 L1995.6 1015.7 L1996.7 1015.5 L1997.8 1014.4 L1998.9 1019.7 L2000.0 1013.9 L2001.1 1016.0 L2002.2 1013.7 L2003.3 1013.4 L2004.4 1008.3 L2005.5 1009.7 L2006.6 1018.4 L2007.7 1018.3 L2008.8 1013.6 L2009.9 1014.7 L2011.0 1016.4 L2012.1 1012.4 L2013.2 1019.4 L2014.3 1012.5 L2015.4 1013.4 L2016.5 1008.4 L2017.6 1019.1 L2018.7 1015.5 L2019.8 1019.5 L2020.9 1013.1 L2022.0 1016.5 L2023.1 1015.9 L2024.2 1016.3 L2025.3 1021.0 L2026.4 1021.6 L2027.5 1019.5 L2028.6 1015.1 L2029.7 1018.4 L2030.8 1019.6 L2031.9 1017.8 L2033.0 1017.9 L2034.1 1017.7 L2035.2 1014.4 L2036.3 1017.3 L2037.4 1020.7 L2038.5 1014.4 L2039.6 1017.2 L2040.7 1019.1 L2041.8 1013.8 L2042.9 1016.9 L2044.0 1013.1 L2045.1 1015.9 L2046.2 1014.0 L2047.3 1015.3 L2048.4 1016.4 L2049.5 1017.0 L2050.6 1017.3 L2051.7 1011.9 L2052.8 1021.8 L2053.9 1017.3 L2055.0 1015.4 L2056.1 1016.6 L2057.2 1019.0 L2058.3 1015.8 L2059.4 1017.4 L2060.5 1017.3 L2061.6 1019.8 L2062.7 1016.8 L2063.8 1019.8 L2064.9 1019.6 L2066.0 1018.5 L2067.1 1021.9 L2068.2 1019.0 L2069.3 1016.2 L2070.4 1019.9 L2071.5 1019.5 L2072.6 1019.2 L2073.7 1019.9 L2074.8 1025.1 L2075.9 1020.1 L2077.0 1020.7 L2078.1 1019.1 L2079.2 1022.9 L2080.3 1019.7 L2081.4 1017.9 L2082.5 1017.0 L2083.6 1021.3 L2084.7 1021.9 L2085.8 1016.3 L2086.9 1018.5 L2088.0 1021.9 L2089.1 1022.9 L2090.2 1017.3 L2091.3 1019.6 L2092.4 1022.6 L2093.5 1019.4 L2094.6 1019.7 L2095.7 1019.5 L2096.8 1017.7 L2097.9 1021.1 L2099.0 1021.7 L2100.1 1017.7 L2101.2 1021.4 L2102.3 1023.8 L2103.4 1021.7" stroke="#0000ff" stroke-width="3.6"/>
<path d="M163.0 913.7 L164.1 913.2 L165.2 913.2 L166.3 911.8 L167.4 914.5 L168.5 914.0 L169.6 912.9 L170.7 913.6 L171.8 913.1 L172.9 912.4 L174.0 913.4 L175.1 912.4 L176.2 912.2 L177.3 911.7 L178.4 912.5 L179.5 911.9 L180.6 912.2 L181.7 911.2 L182.8 911.6 L183.9 910.7 L185.0 911.8 L186.1 911.1 L187.2 911.1 L188.3 910.9 L189.4 909.6 L190.5 910.9 L191.6 911.7 L192.7 908.5 L193.8 908.2 L194.9 908.1 L196.0 909.8 L197.1 909.0 L198.2 909.6 L199.3 909.0 L200.4 908.3 L201.5 908.1 L202.6 907.4 L203.7 908.1 L204.8 906.0 L205.9 906.3 L207.0 906.6 L208.1 907.8 L209.2 905.1 L210.3 904.4 L211.4 904.6 L212.5 905.8 L213.6 904.3 L214.7 905.6 L215.8 902.0 L216.9 904.8 L218.0 904.3 L219.1 901.4 L220.2 902.8 L221.3 903.6 L222.4 902.0 L223.5 902.7 L224.6 903.8 L225.7 901.2 L226.8 900.2 L227.9 899.3 L229.0 900.5 L230.1 899.2 L231.2 898.8 L232.3 898.5 L233.4 899.0 L234.5 896.6 L235.6 895.6 L236.7 894.1 L237.8 898.1 L238.9 896.4 L240.0 897.8 L241.1 895.4 L242.2 894.1 L243.3 895.2 L244.4 894.1 L245.5 892.1 L246.6 892.2 L247.7 895.3 L248.8 893.0 L249.9 892.6 L251.0 891.3 L252.1 890.2 L253.2 892.0 L254.3 890.2 L255.4 888.8 L256.5 889.2 L257.6 887.6 L258.7 888.7 L259.8 889.6 L260.9 886.2 L262.0 889.0 L263.1 885.4 L264.2 886.1 L265.3 884.1 L266.4 884.5 L267.5 884.3 L268.6 883.0 L269.7 882.0 L270.8 881.4 L271.9 880.5 L273.0 878.6 L274.1 880.0 L275.2 880.4 L276.3 880.5 L277.4 879.4 L278.5 881.6 L279.6 877.3 L280.7 875.2 L281.8 878.4 L282.9 872.6 L284.0 875.2 L285.1 871.0 L286.2 872.5 L287.3 867.5 L288.4 871.7 L289.5 868.9 L290.6 866.5 L291.7 870.5 L292.8 867.9 L293.9 865.6 L295.0 863.2 L296.1 863.5 L297.2 862.3 L298.3 863.1 L299.4 862.2 L300.5 858.3 L301.6 857.5 L302.7 856.6 L303.8 853.9 L304.9 854.4 L306.0 854.4 L307.1 855.0 L308.2 855.2 L309.3 849.7 L310.4 851.5 L311.5 848.4 L312.6 852.7 L313.7 847.0 L314.8 847.1 L315.9 842.8 L317.0 841.9 L318.1 843.0 L319.2 840.4 L320.3 840.9 L321.4 835.2 L322.5 839.0 L323.6 834.0 L324.7 838.7 L325.8 832.6 L326.9 834.4 L328.0 826.9 L329.1 829.7 L330.2 824.9 L331.3 824.2 L332.4 823.8 L333.5 821.3 L334.6 821.0 L335.7 820.5 L336.8 818.5 L337.9 814.8 L339.0 809.6 L340.1 809.2 L341.2 809.0 L342.3 801.9 L343.4 807.7 L344.5 803.1 L345.6 801.1 L346.7 802.5 L347.8 799.8 L348.9 796.6 L350.0 791.2 L351.1 793.0 L352.2 791.1 L353.3 785.6 L354.4 789.3 L355.5 785.8 L356.6 776.4 L357.7 780.7 L358.8 774.6 L359.9 779.9 L361.0 776.9 L362.1 768.9 L363.2 767.5 L364.3 768.4 L365.4 765.2 L366.5 768.7 L367.6 764.0 L368.7 758.4 L369.8 759.0 L370.9 748.2 L372.0 753.6 L373.1 753.2 L374.2 747.5 L375.3 743.5 L376.4 745.7 L377.5 748.3 L378.6 740.3 L379.7 733.7 L380.8 740.6 L381.9 727.1 L383.0 733.6 L384.1 728.0 L385.2 731.5 L386.3 723.5 L387.4 729.5 L388.5 724.1 L389.6 715.0 L390.7 712.2 L391.8 716.3 L392.9 720.2 L394.0 713.9 L395.1 711.5 L396.2 708.1 L397.3 709.4 L398.4 705.6 L399.5 702.7 L400.6 695.3 L401.7 700.9 L402.8 698.9 L403.9 685.9 L405.0 697.2 L406.1 688.3 L407.2 680.9 L408.3 672.6 L409.4 680.2 L410.5 677.2 L411.6 670.1 L412.7 662.8 L413.8 672.2 L414.9 662.9 L416.0 661.1 L417.1 672.5 L418.2 667.4 L419.3 660.4 L420.4 652.4 L421.5 654.9 L422.6 640.6 L423.7 648.5 L424.8 642.8 L425.9 638.6 L427.0 635.3 L428.1 642.2 L429.2 638.4 L430.3 636.7 L431.4 637.6 L432.5 628.3 L433.6 624.7 L434.7 620.3 L435.8 624.6 L436.9 627.4 L438.0 621.5 L439.1 623.0 L440.2 613.0 L441.3 614.2 L442.4 611.0 L443.5 606.9 L444.6 619.0 L445.7 612.6 L446.8 603.5 L447.9 601.7 L449.0 603.2 L450.1 595.2 L451.2 602.1 L452.3 592.6 L453.4 595.3 L454.5 590.7 L455.6 591.8 L456.7 586.4 L457.8 583.9 L458.9 585.3 L460.0 585.3 L461.1 585.7 L462.2 586.1 L463.3 591.6 L464.4 587.0 L465.5 580.8 L466.6 584.1 L467.7 576.2 L468.8 585.0 L469.9 579.5 L471.0 569.2 L472.1 578.0 L473.2 577.0 L474.3 559.1 L475.4 567.1 L476.5 567.1 L477.6 559.0 L478.7 561.9 L479.8 561.3 L480.9 567.2 L482.0 565.1 L483.1 575.2 L484.2 559.6 L485.3 566.0 L486.4 559.8 L487.5 559.7 L488.6 551.7 L489.7 547.0 L490.8 551.6 L491.9 558.0 L493.0 561.1 L494.1 555.3 L495.2 553.8 L496.3 546.3 L497.4 557.0 L498.5 555.2 L499.6 545.2 L500.7 546.7 L501.8 541.3 L502.9 552.8 L504.0 546.9 L505.1 543.8 L506.2 545.8 L507.3 545.4 L508.4 540.8 L509.5 536.3 L510.6 535.7 L511.7 533.1 L512.8 543.7 L513.9 552.2 L515.0 532.5 L516.1 541.4 L517.2 542.6 L518.3 535.5 L519.4 541.2 L520.5 534.7 L521.6 546.0 L522.7 537.0 L523.8 540.4 L524.9 543.3 L526.0 537.8 L527.1 531.0 L528.2 537.3 L529.3 543.8 L530.4 539.6 L531.5 541.2 L532.6 534.8 L533.7 540.9 L534.8 543.8 L535.9 540.4 L537.0 549.7 L538.1 539.2 L539.2 535.0 L540.3 532.2 L541.4 545.9 L542.5 539.9 L543.6 545.2 L544.7 542.5 L545.8 548.3 L546.9 546.5 L548.0 538.4 L549.1 541.7 L550.2 545.8 L551.3 534.3 L552.4 547.8 L553.5 546.8 L554.6 545.8 L555.7 540.1 L556.8 542.9 L557.9 536.1 L559.0 542.2 L560.1 539.4 L561.2 543.1 L562.3 540.5 L563.4 544.8 L564.5 549.6 L565.6 537.7 L566.7 549.1 L567.8 535.1 L568.9 534.6 L570.0 545.1 L571.1 546.1 L572.2 548.6 L573.3 538.6 L574.4 546.8 L575.5 548.1 L576.6 554.0 L577.7 547.8 L578.8 551.3 L579.9 544.3 L581.0 548.6 L582.1 547.7 L583.2 553.8 L584.3 545.9 L585.4 547.1 L586.5 554.4 L587.6 560.7 L588.7 554.3 L589.8 554.2 L590.9 551.4 L592.0 558.8 L593.1 556.5 L594.2 562.6 L595.3 556.1 L596.4 550.2 L597.5 552.4 L598.6 550.7 L599.7 549.7 L600.8 562.3 L601.9 560.4 L603.0 550.8 L604.1 565.8 L605.2 558.8 L606.3 553.4 L607.4 560.3 L608.5 558.5 L609.6 555.6 L610.7 550.4 L611.8 560.5 L612.9 562.3 L614.0 549.0 L615.1 564.7 L616.2 565.6 L617.3 561.0 L618.4 564.4 L619.5 563.1 L620.6 561.0 L621.7 563.9 L622.8 572.7 L623.9 559.8 L625.0 568.5 L626.1 568.8 L627.2 565.1 L628.3 566.9 L629.4 562.9 L630.5 566.0 L631.6 570.7 L632.7 572.8 L633.8 567.5 L634.9 586.8 L636.0 570.2 L637.1 574.0 L638.2 572.9 L639.3 572.6 L640.4 581.2 L641.5 573.3 L642.6 582.4 L643.7 581.9 L644.8 572.1 L645.9 582.4 L647.0 575.0 L648.1 591.4 L649.2 577.2 L650.3 575.1 L651.4 571.1 L652.5 574.5 L653.6 578.4 L654.7 576.9 L655.8 576.4 L656.9 579.5 L658.0 582.3 L659.1 590.6 L660.2 576.4 L661.3 582.3 L662.4 580.9 L663.5 578.8 L664.6 580.4 L665.7 582.6 L666.8 590.6 L667.9 586.8 L669.0 585.6 L670.1 591.4 L671.2 590.2 L672.3 588.3 L673.4 591.5 L674.5 586.3 L675.6 593.4 L676.7 593.1 L677.8 589.4 L678.9 586.1 L680.0 599.2 L681.1 593.0 L682.2 607.1 L683.3 590.4 L684.4 597.8 L685.5 592.2 L686.6 595.8 L687.7 598.9 L688.8 591.8 L689.9 595.3 L691.0 596.9 L692.1 597.1 L693.2 599.6 L694.3 601.9 L695.4 601.4 L696.5 599.1 L697.6 596.6 L698.7 593.4 L699.8 595.5 L700.9 596.7 L702.0 602.5 L703.1 598.0 L704.2 594.3 L705.3 603.1 L706.4 596.9 L707.5 597.3 L708.6 600.0 L709.7 603.5 L710.8 590.6 L711.9 596.7 L713.0 602.9 L714.1 600.7 L715.2 598.6 L716.3 600.3 L717.4 609.3 L718.5 601.2 L719.6 606.7 L720.7 607.3 L721.8 601.9 L722.9 606.1 L724.0 602.3 L725.1 601.8 L726.2 599.6 L727.3 608.9 L728.4 603.3 L729.5 602.8 L730.6 600.4 L731.7 613.8 L732.8 609.2 L733.9 605.4 L735.0 603.0 L736.1 599.4 L737.2 607.8 L738.3 608.0 L739.4 600.5 L740.5 612.3 L741.6 610.7 L742.7 603.0 L743.8 605.0 L744.9 605.8 L746.0 608.6 L747.1 607.4 L748.2 600.9 L749.3 615.1 L750.4 610.0 L751.5 614.5 L752.6 614.6 L753.7 608.2 L754.8 610.9 L755.9 612.8 L757.0 613.2 L758.1 609.2 L759.2 607.3 L760.3 610.4 L761.4 606.8 L762.5 608.1 L763.6 601.6 L764.7 611.2 L765.8 606.4 L766.9 608.6 L768.0 611.0 L769.1 612.8 L770.2 619.9 L771.3 612.4 L772.4 605.2 L773.5 612.2 L774.6 609.0 L775.7 613.4 L776.8 608.6 L777.9 608.4 L779.0 609.2 L780.1 608.6 L781.2 603.2 L782.3 608.2 L783.4 611.0 L784.5 616.3 L785.6 609.5 L786.7 609.0 L787.8 613.0 L788.9 612.7 L790.0 617.2 L791.1 612.4 L792.2 609.5 L793.3 615.4 L794.4 616.0 L795.5 606.8 L796.6 609.4 L797.7 600.9 L798.8 606.6 L799.9 604.0 L801.0 606.8 L802.1 605.3 L803.2 606.5 L804.3 606.6 L805.4 609.0 L806.5 607.6 L807.6 603.7 L808.7 600.2 L809.8 611.3 L810.9 611.9 L812.0 603.2 L813.1 607.5 L814.2 597.8 L815.3 597.3 L816.4 602.9 L817.5 610.5 L818.6 598.9 L819.7 599.6 L820.8 610.4 L821.9 594.2 L823.0 605.5 L824.1 604.5 L825.2 601.1 L826.3 602.6 L827.4 613.4 L828.5 596.0 L829.6 599.5 L830.7 599.5 L831.8 597.2 L832.9 593.9 L834.0 607.0 L835.1 600.5 L836.2 591.1 L837.3 595.7 L838.4 600.4 L839.5 600.1 L840.6 591.4 L841.7 597.2 L842.8 598.5 L843.9 598.8 L845.0 598.5 L846.1 588.0 L847.2 604.5 L848.3 596.6 L849.4 603.6 L850.5 608.1 L851.6 593.8 L852.7 588.5 L853.8 597.8 L854.9 592.6 L856.0 591.0 L857.1 587.9 L858.2 600.1 L859.3 589.8 L860.4 585.0 L861.5 589.0 L862.6 585.3 L863.7 591.0 L864.8 587.9 L865.9 584.5 L867.0 591.8 L868.1 585.5 L869.2 591.4 L870.3 593.5 L871.4 585.5 L872.5 583.7 L873.6 587.2 L874.7 590.0 L875.8 585.3 L876.9 585.6 L878.0 584.3 L879.1 585.5 L880.2 586.5 L881.3 579.8 L882.4 580.4 L883.5 582.5 L884.6 578.7 L885.7 582.1 L886.8 583.5 L887.9 580.5 L889.0 577.4 L890.1 576.1 L891.2 587.6 L892.3 583.2 L893.4 573.4 L894.5 574.3 L895.6 586.7 L896.7 584.7 L897.8 577.8 L898.9 582.3 L900.0 569.5 L901.1 576.2 L902.2 579.4 L903.3 566.8 L904.4 571.6 L905.5 578.7 L906.6 580.1 L907.7 571.6 L908.8 575.6 L909.9 581.5 L911.0 571.9 L912.1 567.1 L913.2 572.9 L914.3 571.1 L915.4 578.9 L916.5 573.3 L917.6 568.5 L918.7 583.5 L919.8 569.5 L920.9 573.9 L922.0 574.6 L923.1 574.9 L924.2 571.8 L925.3 573.6 L926.4 570.2 L927.5 563.6 L928.6 569.1 L929.7 569.0 L930.8 568.8 L931.9 570.1 L933.0 566.3 L934.1 575.4 L935.2 576.4 L936.3 558.2 L937.4 568.5 L938.5 564.9 L939.6 555.6 L940.7 569.9 L941.8 564.7 L942.9 565.7 L944.0 564.2 L945.1 572.3 L946.2 572.9 L947.3 568.1 L948.4 569.9 L949.5 565.8 L950.6 566.9 L951.7 562.5 L952.8 566.0 L953.9 562.3 L955.0 567.3 L956.1 569.4 L957.2 566.8 L958.3 570.8 L959.4 578.0 L960.5 554.8 L961.6 565.0 L962.7 562.1 L963.8 562.6 L964.9 558.2 L966.0 565.0 L967.1 563.5 L968.2 561.8 L969.3 563.6 L970.4 562.1 L971.5 553.7 L972.6 570.2 L973.7 563.7 L974.8 560.7 L975.9 566.8 L977.0 562.3 L978.1 555.1 L979.2 569.9 L980.3 557.8 L981.4 564.9 L982.5 566.7 L983.6 572.7 L984.7 572.1 L985.8 567.3 L986.9 563.0 L988.0 564.8 L989.1 572.1 L990.2 575.6 L991.3 569.8 L992.4 564.3 L993.5 572.5 L994.6 565.9 L995.7 565.9 L996.8 566.7 L997.9 571.0 L999.0 569.7 L1000.1 573.4 L1001.2 575.0 L1002.3 571.5 L1003.4 558.1 L1004.5 561.4 L1005.6 570.5 L1006.7 569.7 L1007.8 580.6 L1008.9 570.5 L1010.0 570.2 L1011.1 575.8 L1012.2 576.7 L1013.3 570.9 L1014.4 574.6 L1015.5 567.4 L1016.6 568.7 L1017.7 579.5 L1018.8 567.4 L1019.9 578.9 L1021.0 578.2 L1022.1 579.1 L1023.2 580.3 L1024.3 579.1 L1025.4 566.8 L1026.5 572.7 L1027.6 575.0 L1028.7 582.7 L1029.8 573.5 L1030.9 576.0 L1032.0 578.1 L1033.1 586.5 L1034.2 574.1 L1035.3 575.0 L1036.4 584.8 L1037.5 572.4 L1038.6 584.4 L1039.7 581.2 L1040.8 576.5 L1041.9 582.4 L1043.0 580.2 L1044.1 586.2 L1045.2 587.6 L1046.3 593.4 L1047.4 586.9 L1048.5 587.9 L1049.6 585.3 L1050.7 588.4 L1051.8 593.8 L1052.9 580.6 L1054.0 593.0 L1055.1 588.0 L1056.2 591.4 L1057.3 593.0 L1058.4 596.0 L1059.5 593.6 L1060.6 591.2 L1061.7 595.0 L1062.8 594.1 L1063.9 593.7 L1065.0 596.1 L1066.1 599.7 L1067.2 596.8 L1068.3 597.5 L1069.4 591.4 L1070.5 597.3 L1071.6 590.0 L1072.7 602.3 L1073.8 595.3 L1074.9 606.1 L1076.0 614.5 L1077.1 599.6 L1078.2 608.1 L1079.3 604.5 L1080.4 600.8 L1081.5 600.2 L1082.6 607.2 L1083.7 611.6 L1084.8 607.6 L1085.9 599.8 L1087.0 602.6 L1088.1 606.9 L1089.2 614.7 L1090.3 610.5 L1091.4 611.4 L1092.5 616.0 L1093.6 610.3 L1094.7 611.4 L1095.8 611.6 L1096.9 605.1 L1098.0 615.8 L1099.1 616.2 L1100.2 619.3 L1101.3 610.3 L1102.4 612.6 L1103.5 621.0 L1104.6 618.9 L1105.7 624.1 L1106.8 614.9 L1107.9 620.2 L1109.0 617.0 L1110.1 622.0 L1111.2 619.1 L1112.3 624.3 L1113.4 627.3 L1114.5 626.2 L1115.6 616.0 L1116.7 628.8 L1117.8 627.3 L1118.9 621.5 L1120.0 623.0 L1121.1 627.6 L1122.2 630.8 L1123.3 627.1 L1124.4 622.8 L1125.5 631.9 L1126.6 632.2 L1127.7 642.8 L1128.8 627.4 L1129.9 644.7 L1131.0 642.1 L1132.1 636.7 L1133.2 643.3 L1134.3 637.3 L1135.4 641.9 L1136.5 635.3 L1137.6 639.6 L1138.7 635.6 L1139.8 634.0 L1140.9 640.3 L1142.0 639.4 L1143.1 645.4 L1144.2 649.0 L1145.3 643.6 L1146.4 645.3 L1147.5 646.6 L1148.6 639.4 L1149.7 648.3 L1150.8 647.9 L1151.9 648.4 L1153.0 644.6 L1154.1 641.6 L1155.2 649.5 L1156.3 652.5 L1157.4 657.4 L1158.5 657.2 L1159.6 659.1 L1160.7 655.2 L1161.8 659.1 L1162.9 654.0 L1164.0 658.0 L1165.1 659.9 L1166.2 667.7 L1167.3 658.1 L1168.4 652.4 L1169.5 663.9 L1170.6 655.5 L1171.7 659.0 L1172.8 658.6 L1173.9 656.5 L1175.0 666.3 L1176.1 663.8 L1177.2 659.3 L1178.3 662.6 L1179.4 661.1 L1180.5 665.9 L1181.6 662.3 L1182.7 661.3 L1183.8 662.3 L1184.9 663.6 L1186.0 667.1 L1187.1 662.7 L1188.2 666.6 L1189.3 669.3 L1190.4 677.5 L1191.5 672.0 L1192.6 657.0 L1193.7 667.5 L1194.8 668.5 L1195.9 671.9 L1197.0 677.4 L1198.1 674.6 L1199.2 662.9 L1200.3 673.8 L1201.4 673.5 L1202.5 675.3 L1203.6 679.5 L1204.7 670.2 L1205.8 679.5 L1206.9 669.0 L1208.0 676.3 L1209.1 678.0 L1210.2 686.1 L1211.3 674.7 L1212.4 671.2 L1213.5 681.2 L1214.6 676.3 L1215.7 685.5 L1216.8 677.0 L1217.9 676.8 L1219.0 685.7 L1220.1 681.5 L1221.2 685.6 L1222.3 676.5 L1223.4 689.1 L1224.5 680.7 L1225.6 686.7 L1226.7 680.0 L1227.8 678.3 L1228.9 683.9 L1230.0 686.0 L1231.1 691.9 L1232.2 687.6 L1233.3 689.4 L1234.4 689.7 L1235.5 699.6 L1236.6 684.8 L1237.7 693.3 L1238.8 688.3 L1239.9 690.4 L1241.0 687.7 L1242.1 694.7 L1243.2 685.9 L1244.3 686.1 L1245.4 690.8 L1246.5 687.6 L1247.6 695.2 L1248.7 696.6 L1249.8 690.6 L1250.9 697.0 L1252.0 691.9 L1253.1 694.8 L1254.2 695.4 L1255.3 703.1 L1256.4 696.4 L1257.5 693.4 L1258.6 693.9 L1259.7 702.5 L1260.8 692.1 L1261.9 697.1 L1263.0 698.0 L1264.1 690.7 L1265.2 698.7 L1266.3 704.7 L1267.4 702.3 L1268.5 698.6 L1269.6 705.1 L1270.7 704.9 L1271.8 711.1 L1272.9 701.2 L1274.0 703.0 L1275.1 705.1 L1276.2 704.9 L1277.3 706.2 L1278.4 706.0 L1279.5 704.2 L1280.6 701.3 L1281.7 705.7 L1282.8 703.0 L1283.9 704.7 L1285.0 707.0 L1286.1 711.3 L1287.2 713.0 L1288.3 706.5 L1289.4 711.8 L1290.5 714.1 L1291.6 711.3 L1292.7 705.8 L1293.8 704.3 L1294.9 715.6 L1296.0 716.4 L1297.1 714.4 L1298.2 709.9 L1299.3 719.5 L1300.4 719.0 L1301.5 714.7 L1302.6 714.4 L1303.7 708.5 L1304.8 718.7 L1305.9 710.5 L1307.0 719.2 L1308.1 719.7 L1309.2 717.7 L1310.3 723.5 L1311.4 716.9 L1312.5 720.6 L1313.6 721.7 L1314.7 720.0 L1315.8 718.0 L1316.9 724.3 L1318.0 721.7 L1319.1 719.8 L1320.2 720.3 L1321.3 721.7 L1322.4 729.7 L1323.5 722.3 L1324.6 721.4 L1325.7 718.8 L1326.8 718.6 L1327.9 716.5 L1329.0 724.4 L1330.1 724.0 L1331.2 720.6 L1332.3 719.3 L1333.4 723.8 L1334.5 723.4 L1335.6 720.9 L1336.7 727.0 L1337.8 726.8 L1338.9 726.4 L1340.0 729.7 L1341.1 725.0 L1342.2 732.4 L1343.3 724.3 L1344.4 730.1 L1345.5 730.8 L1346.6 728.0 L1347.7 730.4 L1348.8 725.0 L1349.9 724.6 L1351.0 729.5 L1352.1 727.9 L1353.2 732.9 L1354.3 731.2 L1355.4 733.6 L1356.5 732.9 L1357.6 732.8 L1358.7 732.7 L1359.8 731.4 L1360.9 731.4 L1362.0 740.5 L1363.1 727.6 L1364.2 733.4 L1365.3 737.8 L1366.4 736.1 L1367.5 739.9 L1368.6 737.2 L1369.7 731.3 L1370.8 734.8 L1371.9 731.4 L1373.0 740.0 L1374.1 741.9 L1375.2 735.7 L1376.3 739.5 L1377.4 736.5 L1378.5 733.3 L1379.6 737.0 L1380.7 733.5 L1381.8 737.3 L1382.9 740.3 L1384.0 742.4 L1385.1 744.7 L1386.2 739.4 L1387.3 741.7 L1388.4 742.7 L1389.5 743.5 L1390.6 732.2 L1391.7 739.6 L1392.8 745.3 L1393.9 739.1 L1395.0 744.1 L1396.1 746.4 L1397.2 737.5 L1398.3 743.6 L1399.4 745.4 L1400.5 745.0 L1401.6 740.1 L1402.7 746.8 L1403.8 744.0 L1404.9 749.0 L1406.0 748.0 L1407.1 745.0 L1408.2 747.8 L1409.3 745.2 L1410.4 745.5 L1411.5 742.9 L1412.6 747.7 L1413.7 751.5 L1414.8 749.5 L1415.9 749.3 L1417.0 747.6 L1418.1 748.2 L1419.2 752.7 L1420.3 745.6 L1421.4 757.7 L1422.5 750.9 L1423.6 758.6 L1424.7 755.6 L1425.8 750.6 L1426.9 754.7 L1428.0 753.4 L1429.1 754.3 L1430.2 755.7 L1431.3 751.6 L1432.4 751.6 L1433.5 752.5 L1434.6 749.7 L1435.7 753.6 L1436.8 755.5 L1437.9 755.8 L1439.0 755.9 L1440.1 754.2 L1441.2 758.4 L1442.3 749.4 L1443.4 755.0 L1444.5 755.5 L1445.6 759.8 L1446.7 759.3 L1447.8 760.0 L1448.9 757.7 L1450.0 761.0 L1451.1 754.9 L1452.2 758.7 L1453.3 751.9 L1454.4 764.5 L1455.5 764.4 L1456.6 757.6 L1457.7 757.1 L1458.8 753.3 L1459.9 755.4 L1461.0 761.0 L1462.1 760.4 L1463.2 756.5 L1464.3 759.9 L1465.4 759.6 L1466.5 763.6 L1467.6 764.6 L1468.7 762.0 L1469.8 763.3 L1470.9 763.2 L1472.0 756.9 L1473.1 764.4 L1474.2 764.0 L1475.3 766.9 L1476.4 759.0 L1477.5 767.5 L1478.6 763.4 L1479.7 766.5 L1480.8 769.8 L1481.9 761.7 L1483.0 762.5 L1484.1 770.1 L1485.2 763.6 L1486.3 764.5 L1487.4 769.7 L1488.5 767.5 L1489.6 770.9 L1490.7 769.7 L1491.8 769.0 L1492.9 772.4 L1494.0 776.5 L1495.1 769.6 L1496.2 774.8 L1497.3 774.0 L1498.4 771.1 L1499.5 772.4 L1500.6 768.4 L1501.7 769.6 L1502.8 772.7 L1503.9 771.9 L1505.0 776.4 L1506.1 768.6 L1507.2 771.9 L1508.3 771.1 L1509.4 772.8 L1510.5 777.1 L1511.6 770.0 L1512.7 776.6 L1513.8 772.4 L1514.9 773.4 L1516.0 777.7 L1517.1 774.0 L1518.2 777.1 L1519.3 775.6 L1520.4 774.9 L1521.5 774.5 L1522.6 770.5 L1523.7 773.8 L1524.8 776.7 L1525.9 777.1 L1527.0 772.1 L1528.1 779.9 L1529.2 778.8 L1530.3 773.3 L1531.4 774.3 L1532.5 779.2 L1533.6 772.5 L1534.7 775.9 L1535.8 778.2 L1536.9 778.2 L1538.0 778.6 L1539.1 780.2 L1540.2 776.9 L1541.3 778.1 L1542.4 786.0 L1543.5 775.8 L1544.6 779.0 L1545.7 780.9 L1546.8 778.9 L1547.9 784.8 L1549.0 781.7 L1550.1 784.0 L1551.2 774.2 L1552.3 785.9 L1553.4 786.1 L1554.5 780.7 L1555.6 787.2 L1556.7 784.4 L1557.8 786.6 L1558.9 789.6 L1560.0 784.8 L1561.1 781.8 L1562.2 785.1 L1563.3 781.6 L1564.4 783.3 L1565.5 783.8 L1566.6 784.2 L1567.7 790.0 L1568.8 789.3 L1569.9 784.5 L1571.0 790.8 L1572.1 782.8 L1573.2 786.1 L1574.3 787.9 L1575.4 792.0 L1576.5 791.0 L1577.6 790.4 L1578.7 793.2 L1579.8 791.7 L1580.9 793.9 L1582.0 787.9 L1583.1 785.5 L1584.2 789.5 L1585.3 793.4 L1586.4 792.0 L1587.5 794.1 L1588.6 793.8 L1589.7 793.5 L1590.8 794.6 L1591.9 790.5 L1593.0 795.9 L1594.1 790.2 L1595.2 793.0 L1596.3 789.5 L1597.4 795.2 L1598.5 789.6 L1599.6 798.3 L1600.7 790.7 L1601.8 795.5 L1602.9 794.6 L1604.0 792.8 L1605.1 799.1 L1606.2 794.5 L1607.3 800.1 L1608.4 793.3 L1609.5 794.2 L1610.6 791.0 L1611.7 798.5 L1612.8 799.7 L1613.9 798.0 L1615.0 797.1 L1616.1 795.2 L1617.2 804.7 L1618.3 800.4 L1619.4 793.3 L1620.5 797.8 L1621.6 791.6 L1622.7 803.6 L1623.8 804.9 L1624.9 803.7 L1626.0 799.6 L1627.1 798.3 L1628.2 796.3 L1629.3 801.9 L1630.4 798.5 L1631.5 799.8 L1632.6 799.3 L1633.7 800.4 L1634.8 804.0 L1635.9 806.4 L1637.0 802.3 L1638.1 802.1 L1639.2 799.2 L1640.3 799.1 L1641.4 799.7 L1642.5 805.3 L1643.6 803.7 L1644.7 805.9 L1645.8 804.6 L1646.9 802.5 L1648.0 800.4 L1649.1 803.0 L1650.2 800.3 L1651.3 809.9 L1652.4 805.3 L1653.5 803.8 L1654.6 810.4 L1655.7 804.1 L1656.8 806.9 L1657.9 805.1 L1659.0 806.7 L1660.1 804.9 L1661.2 807.4 L1662.3 810.1 L1663.4 803.0 L1664.5 800.5 L1665.6 810.5 L1666.7 807.4 L1667.8 809.5 L1668.9 806.5 L1670.0 811.7 L1671.1 812.6 L1672.2 804.6 L1673.3 809.8 L1674.4 806.5 L1675.5 803.9 L1676.6 807.6 L1677.7 810.1 L1678.8 805.0 L1679.9 805.4 L1681.0 812.4 L1682.1 809.3 L1683.2 810.5 L1684.3 806.4 L1685.4 807.9 L1686.5 810.1 L1687.6 810.5 L1688.7 810.5 L1689.8 814.5 L1690.9 810.8 L1692.0 806.4 L1693.1 808.3 L1694.2 810.7 L1695.3 814.4 L1696.4 809.2 L1697.5 810.2 L1698.6 811.3 L1699.7 809.6 L1700.8 809.4 L1701.9 811.2 L1703.0 814.6 L1704.1 813.4 L1705.2 811.4 L1706.3 813.4 L1707.4 809.1 L1708.5 815.3 L1709.6 814.8 L1710.7 813.7 L1711.8 808.7 L1712.9 818.6 L1714.0 805.6 L1715.1 810.9 L1716.2 811.2 L1717.3 815.7 L1718.4 810.0 L1719.5 814.7 L1720.6 813.9 L1721.7 813.6 L1722.8 816.8 L1723.9 818.5 L1725.0 815.9 L1726.1 814.3 L1727.2 809.2 L1728.3 819.2 L1729.4 814.7 L1730.5 810.8 L1731.6 816.2 L1732.7 819.8 L1733.8 815.8 L1734.9 813.2 L1736.0 822.4 L1737.1 818.2 L1738.2 817.7 L1739.3 819.6 L1740.4 811.4 L1741.5 817.1 L1742.6 817.0 L1743.7 823.5 L1744.8 816.3 L1745.9 816.4 L1747.0 814.4 L1748.1 816.1 L1749.2 817.8 L1750.3 819.2 L1751.4 818.1 L1752.5 824.0 L1753.6 820.2 L1754.7 820.8 L1755.8 822.8 L1756.9 821.0 L1758.0 818.2 L1759.1 815.7 L1760.2 820.8 L1761.3 817.8 L1762.4 823.5 L1763.5 818.3 L1764.6 814.7 L1765.7 820.6 L1766.8 823.4 L1767.9 820.3 L1769.0 821.4 L1770.1 821.4 L1771.2 825.6 L1772.3 822.1 L1773.4 821.3 L1774.5 820.0 L1775.6 817.4 L1776.7 825.4 L1777.8 824.8 L1778.9 819.6 L1780.0 823.7 L1781.1 823.1 L1782.2 821.4 L1783.3 821.6 L1784.4 824.5 L1785.5 819.6 L1786.6 821.4 L1787.7 822.7 L1788.8 823.0 L1789.9 822.6 L1791.0 823.8 L1792.1 824.7 L1793.2 821.1 L1794.3 823.7 L1795.4 822.3 L1796.5 827.6 L1797.6 820.3 L1798.7 823.3 L1799.8 825.8 L1800.9 823.4 L1802.0 823.4 L1803.1 823.0 L1804.2 825.2 L1805.3 821.6 L1806.4 824.5 L1807.5 824.5 L1808.6 821.2 L1809.7 825.7 L1810.8 823.9 L1811.9 826.0 L1813.0 827.5 L1814.1 826.3 L1815.2 822.6 L1816.3 826.5 L1817.4 821.7 L1818.5 823.9 L1819.6 830.2 L1820.7 826.1 L1821.8 830.1 L1822.9 825.9 L1824.0 826.5 L1825.1 823.8 L1826.2 829.0 L1827.3 826.3 L1828.4 828.5 L1829.5 828.1 L1830.6 828.5 L1831.7 828.1 L1832.8 827.3 L1833.9 827.5 L1835.0 825.9 L1836.1 822.5 L1837.2 829.1 L1838.3 833.1 L1839.4 830.8 L1840.5 834.0 L1841.6 829.5 L1842.7 826.1 L1843.8 826.1 L1844.9 830.5 L1846.0 829.6 L1847.1 828.5 L1848.2 830.8 L1849.3 826.9 L1850.4 830.5 L1851.5 828.6 L1852.6 829.8 L1853.7 832.4 L1854.8 829.2 L1855.9 833.0 L1857.0 833.0 L1858.1 828.0 L1859.2 835.6 L1860.3 827.0 L1861.4 829.9 L1862.5 832.0 L1863.6 824.7 L1864.7 832.9 L1865.8 833.3 L1866.9 830.3 L1868.0 831.3 L1869.1 831.3 L1870.2 830.3 L1871.3 833.5 L1872.4 830.1 L1873.5 831.0 L1874.6 832.0 L1875.7 833.3 L1876.8 834.0 L1877.9 827.8 L1879.0 826.5 L1880.1 831.2 L1881.2 831.5 L1882.3 829.1 L1883.4 832.5 L1884.5 833.4 L1885.6 832.8 L1886.7 836.0 L1887.8 829.5 L1888.9 832.2 L1890.0 836.9 L1891.1 833.9 L1892.2 829.6 L1893.3 832.9 L1894.4 835.3 L1895.5 837.6 L1896.6 834.2 L1897.7 835.5 L1898.8 830.1 L1899.9 832.2 L1901.0 835.8 L1902.1 830.6 L1903.2 832.8 L1904.3 828.6 L1905.4 836.7 L1906.5 832.9 L1907.6 834.6 L1908.7 829.7 L1909.8 830.2 L1910.9 837.8 L1912.0 832.7 L1913.1 832.3 L1914.2 834.9 L1915.3 835.0 L1916.4 829.0 L1917.5 831.5 L1918.6 834.0 L1919.7 833.9 L1920.8 834.8 L1921.9 833.0 L1923.0 833.4 L1924.1 834.7 L1925.2 832.6 L1926.3 832.3 L1927.4 833.0 L1928.5 834.4 L1929.6 834.1 L1930.7 833.4 L1931.8 834.0 L1932.9 834.5 L1934.0 835.4 L1935.1 835.6 L1936.2 831.7 L1937.3 837.1 L1938.4 831.1 L1939.5 836.2 L1940.6 833.3 L1941.7 836.4 L1942.8 837.6 L1943.9 830.6 L1945.0 836.6 L1946.1 835.9 L1947.2 834.1 L1948.3 836.2 L1949.4 834.2 L1950.5 835.7 L1951.6 832.9 L1952.7 837.3 L1953.8 836.9 L1954.9 837.3 L1956.0 834.0 L1957.1 840.0 L1958.2 840.3 L1959.3 835.5 L1960.4 834.8 L1961.5 834.8 L1962.6 837.4 L1963.7 838.3 L1964.8 834.1 L1965.9 831.1 L1967.0 837.0 L1968.1 835.9 L1969.2 836.4 L1970.3 837.3 L1971.4 833.5 L1972.5 836.3 L1973.6 835.4 L1974.7 837.1 L1975.8 839.1 L1976.9 836.2 L1978.0 834.3 L1979.1 839.2 L1980.2 838.0 L1981.3 835.9 L1982.4 832.2 L1983.5 834.4 L1984.6 836.8 L1985.7 837.8 L1986.8 835.3 L1987.9 837.6 L1989.0 835.1 L1990.1 835.6 L1991.2 837.9 L1992.3 836.0 L1993.4 837.0 L1994.5 838.8 L1995.6 839.4 L1996.7 835.4 L1997.8 836.2 L1998.9 833.8 L2000.0 833.8 L2001.1 837.6 L2002.2 835.7 L2003.3 832.7 L2004.4 838.3 L2005.5 835.1 L2006.6 836.4 L2007.7 838.1 L2008.8 838.1 L2009.9 837.1 L2011.0 832.6 L2012.1 838.6 L2013.2 835.9 L2014.3 834.1 L2015.4 832.3 L2016.5 840.5 L2017.6 837.8 L2018.7 837.8 L2019.8 839.0 L2020.9 837.4 L2022.0 834.2 L2023.1 839.2 L2024.2 840.0 L2025.3 838.9 L2026.4 841.3 L2027.5 842.2 L2028.6 836.0 L2029.7 836.9 L2030.8 840.0 L2031.9 838.4 L2033.0 838.5 L2034.1 840.2 L2035.2 839.8 L2036.3 837.1 L2037.4 838.5 L2038.5 836.6 L2039.6 837.8 L2040.7 835.7 L2041.8 833.8 L2042.9 837.3 L2044.0 837.1 L2045.1 840.6 L2046.2 842.2 L2047.3 838.7 L2048.4 839.7 L2049.5 837.2 L2050.6 836.6 L2051.7 838.1 L2052.8 838.2 L2053.9 839.6 L2055.0 839.2 L2056.1 842.8 L2057.2 838.6 L2058.3 835.3 L2059.4 839.4 L2060.5 837.7 L2061.6 839.8 L2062.7 841.9 L2063.8 837.9 L2064.9 839.3 L2066.0 840.7 L2067.1 837.4 L2068.2 840.1 L2069.3 840.9 L2070.4 841.6 L2071.5 842.3 L2072.6 841.1 L2073.7 840.8 L2074.8 836.8 L2075.9 834.0 L2077.0 837.9 L2078.1 843.4 L2079.2 840.5 L2080.3 835.2 L2081.4 839.4 L2082.5 841.3 L2083.6 836.3 L2084.7 841.9 L2085.8 838.1 L2086.9 843.1 L2088.0 840.9 L2089.1 847.9 L2090.2 837.9 L2091.3 841.7 L2092.4 837.8 L2093.5 843.8 L2094.6 841.5 L2095.7 843.4 L2096.8 841.6 L2097.9 838.8 L2099.0 840.0 L2100.1 838.8 L2101.2 839.2 L2102.3 842.0 L2103.4 844.1" stroke="#007000" stroke-width="3.6"/>
<path d="M163.0 716.3 L164.1 716.6 L165.2 716.2 L166.3 714.9 L167.4 716.5 L168.5 716.0 L169.6 715.2 L170.7 715.9 L171.8 715.7 L172.9 715.5 L174.0 715.2 L175.1 715.4 L176.2 714.3 L177.3 714.6 L178.4 714.2 L179.5 715.0 L180.6 714.4 L181.7 714.0 L182.8 713.4 L183.9 713.7 L185.0 713.7 L186.1 713.4 L187.2 714.5 L188.3 714.1 L189.4 710.8 L190.5 711.3 L191.6 712.6 L192.7 712.2 L193.8 712.5 L194.9 712.4 L196.0 713.8 L197.1 710.8 L198.2 711.2 L199.3 713.2 L200.4 711.7 L201.5 711.5 L202.6 710.2 L203.7 708.9 L204.8 710.4 L205.9 710.1 L207.0 708.6 L208.1 708.9 L209.2 709.3 L210.3 708.2 L211.4 708.8 L212.5 708.7 L213.6 708.4 L214.7 707.6 L215.8 708.5 L216.9 708.5 L218.0 707.7 L219.1 706.3 L220.2 707.7 L221.3 706.1 L222.4 707.3 L223.5 705.0 L224.6 706.8 L225.7 705.6 L226.8 704.0 L227.9 704.7 L229.0 704.9 L230.1 704.8 L231.2 703.1 L232.3 702.7 L233.4 703.9 L234.5 702.9 L235.6 703.4 L236.7 703.8 L237.8 700.6 L238.9 702.6 L240.0 703.5 L241.1 701.4 L242.2 700.4 L243.3 702.0 L244.4 701.1 L245.5 701.6 L246.6 699.8 L247.7 698.1 L248.8 699.5 L249.9 698.8 L251.0 700.0 L252.1 699.0 L253.2 696.4 L254.3 696.6 L255.4 699.0 L256.5 698.4 L257.6 696.4 L258.7 696.9 L259.8 697.1 L260.9 696.8 L262.0 697.0 L263.1 695.8 L264.2 694.9 L265.3 694.2 L266.4 695.6 L267.5 690.5 L268.6 692.9 L269.7 692.6 L270.8 689.9 L271.9 691.9 L273.0 689.8 L274.1 691.3 L275.2 689.1 L276.3 689.6 L277.4 689.6 L278.5 687.6 L279.6 684.8 L280.7 682.9 L281.8 687.2 L282.9 683.4 L284.0 681.6 L285.1 682.1 L286.2 680.6 L287.3 681.5 L288.4 679.2 L289.5 678.3 L290.6 676.2 L291.7 677.3 L292.8 673.8 L293.9 675.9 L295.0 676.6 L296.1 670.1 L297.2 667.4 L298.3 672.2 L299.4 674.9 L300.5 667.3 L301.6 665.8 L302.7 668.4 L303.8 664.7 L304.9 664.3 L306.0 663.6 L307.1 664.3 L308.2 661.4 L309.3 661.8 L310.4 659.8 L311.5 657.4 L312.6 657.4 L313.7 655.0 L314.8 655.9 L315.9 652.4 L317.0 651.3 L318.1 655.6 L319.2 651.2 L320.3 650.1 L321.4 650.1 L322.5 646.9 L323.6 646.1 L324.7 646.4 L325.8 644.9 L326.9 640.3 L328.0 643.7 L329.1 639.1 L330.2 636.7 L331.3 635.8 L332.4 635.7 L333.5 639.3 L334.6 631.2 L335.7 633.1 L336.8 626.2 L337.9 630.1 L339.0 630.9 L340.1 626.8 L341.2 624.4 L342.3 625.2 L343.4 625.0 L344.5 623.5 L345.6 625.5 L346.7 619.5 L347.8 616.0 L348.9 615.8 L350.0 614.5 L351.1 613.5 L352.2 611.6 L353.3 610.7 L354.4 604.1 L355.5 609.4 L356.6 604.0 L357.7 600.7 L358.8 604.1 L359.9 604.4 L361.0 600.4 L362.1 597.8 L363.2 592.9 L364.3 602.2 L365.4 594.6 L366.5 586.7 L367.6 585.9 L368.7 586.5 L369.8 579.6 L370.9 582.7 L372.0 578.7 L373.1 581.8 L374.2 578.9 L375.3 565.2 L376.4 571.6 L377.5 564.1 L378.6 570.5 L379.7 565.2 L380.8 564.2 L381.9 556.6 L383.0 563.8 L384.1 562.1 L385.2 549.5 L386.3 551.9 L387.4 546.0 L388.5 545.9 L389.6 539.2 L390.7 547.6 L391.8 535.4 L392.9 535.3 L394.0 535.7 L395.1 529.2 L396.2 528.2 L397.3 524.6 L398.4 523.7 L399.5 517.5 L400.6 517.7 L401.7 516.1 L402.8 513.2 L403.9 512.2 L405.0 508.5 L406.1 510.0 L407.2 503.6 L408.3 501.9 L409.4 497.5 L410.5 495.7 L411.6 490.5 L412.7 495.1 L413.8 486.3 L414.9 485.6 L416.0 487.6 L417.1 485.6 L418.2 480.1 L419.3 471.4 L420.4 479.0 L421.5 476.1 L422.6 467.2 L423.7 473.8 L424.8 465.7 L425.9 461.8 L427.0 464.7 L428.1 461.5 L429.2 461.0 L430.3 451.4 L431.4 463.6 L432.5 451.5 L433.6 445.6 L434.7 452.8 L435.8 446.7 L436.9 447.7 L438.0 443.0 L439.1 442.3 L440.2 441.7 L441.3 435.6 L442.4 439.9 L443.5 433.0 L444.6 429.4 L445.7 431.6 L446.8 431.3 L447.9 426.4 L449.0 421.6 L450.1 426.1 L451.2 413.4 L452.3 414.5 L453.4 417.1 L454.5 408.5 L455.6 412.5 L456.7 409.8 L457.8 411.7 L458.9 401.1 L460.0 400.0 L461.1 402.0 L462.2 386.9 L463.3 410.3 L464.4 390.5 L465.5 388.3 L466.6 393.8 L467.7 387.8 L468.8 378.0 L469.9 387.8 L471.0 387.4 L472.1 380.0 L473.2 379.7 L474.3 382.2 L475.4 374.7 L476.5 380.1 L477.6 378.1 L478.7 373.2 L479.8 368.9 L480.9 373.7 L482.0 369.8 L483.1 378.0 L484.2 373.1 L485.3 375.4 L486.4 371.5 L487.5 371.3 L488.6 365.5 L489.7 371.7 L490.8 376.3 L491.9 365.4 L493.0 363.2 L494.1 364.6 L495.2 362.3 L496.3 360.5 L497.4 363.8 L498.5 361.1 L499.6 368.8 L500.7 361.1 L501.8 362.1 L502.9 364.5 L504.0 357.8 L505.1 365.7 L506.2 355.1 L507.3 353.7 L508.4 355.3 L509.5 356.0 L510.6 349.1 L511.7 355.3 L512.8 346.8 L513.9 361.3 L515.0 353.5 L516.1 350.3 L517.2 348.5 L518.3 350.7 L519.4 351.0 L520.5 346.6 L521.6 346.9 L522.7 350.2 L523.8 348.3 L524.9 355.3 L526.0 356.1 L527.1 350.5 L528.2 352.6 L529.3 343.7 L530.4 353.3 L531.5 350.0 L532.6 352.6 L533.7 358.1 L534.8 339.0 L535.9 351.6 L537.0 344.9 L538.1 353.3 L539.2 344.0 L540.3 348.1 L541.4 351.6 L542.5 353.7 L543.6 351.1 L544.7 346.9 L545.8 348.1 L546.9 355.3 L548.0 351.0 L549.1 342.8 L550.2 355.3 L551.3 353.3 L552.4 355.7 L553.5 350.0 L554.6 355.9 L555.7 346.9 L556.8 355.3 L557.9 350.4 L559.0 356.6 L560.1 358.7 L561.2 350.7 L562.3 354.6 L563.4 355.7 L564.5 361.9 L565.6 360.2 L566.7 351.4 L567.8 360.3 L568.9 362.3 L570.0 369.6 L571.1 351.8 L572.2 358.0 L573.3 367.7 L574.4 355.2 L575.5 356.6 L576.6 365.6 L577.7 368.7 L578.8 361.1 L579.9 367.6 L581.0 366.2 L582.1 373.5 L583.2 366.8 L584.3 372.1 L585.4 363.5 L586.5 367.4 L587.6 368.3 L588.7 374.6 L589.8 372.2 L590.9 366.1 L592.0 373.3 L593.1 373.9 L594.2 369.9 L595.3 369.4 L596.4 369.8 L597.5 362.8 L598.6 372.0 L599.7 372.4 L600.8 367.3 L601.9 375.2 L603.0 365.2 L604.1 369.4 L605.2 370.0 L606.3 382.0 L607.4 365.2 L608.5 375.9 L609.6 378.0 L610.7 375.7 L611.8 380.0 L612.9 370.0 L614.0 364.5 L615.1 379.5 L616.2 370.7 L617.3 375.4 L618.4 372.0 L619.5 383.2 L620.6 382.9 L621.7 376.0 L622.8 384.3 L623.9 381.2 L625.0 380.6 L626.1 382.1 L627.2 381.4 L628.3 385.8 L629.4 384.9 L630.5 382.3 L631.6 389.1 L632.7 381.9 L633.8 386.6 L634.9 387.6 L636.0 392.9 L637.1 384.0 L638.2 394.9 L639.3 387.9 L640.4 386.5 L641.5 384.7 L642.6 391.0 L643.7 388.9 L644.8 384.0 L645.9 384.3 L647.0 387.5 L648.1 387.4 L649.2 396.2 L650.3 398.1 L651.4 396.3 L652.5 394.5 L653.6 391.4 L654.7 394.2 L655.8 398.6 L656.9 405.0 L658.0 399.9 L659.1 395.0 L660.2 397.0 L661.3 395.2 L662.4 394.4 L663.5 397.6 L664.6 399.9 L665.7 407.9 L666.8 400.2 L667.9 406.6 L669.0 408.9 L670.1 401.6 L671.2 409.0 L672.3 405.2 L673.4 400.4 L674.5 403.8 L675.6 403.0 L676.7 402.1 L677.8 402.5 L678.9 404.3 L680.0 405.8 L681.1 400.0 L682.2 404.2 L683.3 397.5 L684.4 405.9 L685.5 407.7 L686.6 405.9 L687.7 406.6 L688.8 408.3 L689.9 402.8 L691.0 405.0 L692.1 408.7 L693.2 411.3 L694.3 408.8 L695.4 418.9 L696.5 407.2 L697.6 412.5 L698.7 414.0 L699.8 407.9 L700.9 405.1 L702.0 403.7 L703.1 410.0 L704.2 414.5 L705.3 410.9 L706.4 410.7 L707.5 408.4 L708.6 412.8 L709.7 400.7 L710.8 411.6 L711.9 410.8 L713.0 404.6 L714.1 420.7 L715.2 404.7 L716.3 406.2 L717.4 405.7 L718.5 416.2 L719.6 407.3 L720.7 414.3 L721.8 414.0 L722.9 412.6 L724.0 405.5 L725.1 408.6 L726.2 418.9 L727.3 405.5 L728.4 407.5 L729.5 410.5 L730.6 414.8 L731.7 412.2 L732.8 414.4 L733.9 406.1 L735.0 415.1 L736.1 413.3 L737.2 403.4 L738.3 417.4 L739.4 420.7 L740.5 406.7 L741.6 410.3 L742.7 416.3 L743.8 403.1 L744.9 400.7 L746.0 403.7 L747.1 406.8 L748.2 406.6 L749.3 411.8 L750.4 410.2 L751.5 403.1 L752.6 411.2 L753.7 417.0 L754.8 413.7 L755.9 412.6 L757.0 408.1 L758.1 412.3 L759.2 403.3 L760.3 410.9 L761.4 406.9 L762.5 412.2 L763.6 409.0 L764.7 401.8 L765.8 407.1 L766.9 411.9 L768.0 401.0 L769.1 403.4 L770.2 402.2 L771.3 398.7 L772.4 409.6 L773.5 411.0 L774.6 408.4 L775.7 405.6 L776.8 404.0 L777.9 405.1 L779.0 400.4 L780.1 407.6 L781.2 408.0 L782.3 407.2 L783.4 400.2 L784.5 402.7 L785.6 401.3 L786.7 409.9 L787.8 402.2 L788.9 392.5 L790.0 402.6 L791.1 409.0 L792.2 403.2 L793.3 403.7 L794.4 399.5 L795.5 389.9 L796.6 390.2 L797.7 392.4 L798.8 397.1 L799.9 398.7 L801.0 400.0 L802.1 394.9 L803.2 400.4 L804.3 394.2 L805.4 391.8 L806.5 398.6 L807.6 389.9 L808.7 381.1 L809.8 388.4 L810.9 393.3 L812.0 378.1 L813.1 390.3 L814.2 389.9 L815.3 384.4 L816.4 383.7 L817.5 388.0 L818.6 387.1 L819.7 395.1 L820.8 390.6 L821.9 381.0 L823.0 383.9 L824.1 390.8 L825.2 395.9 L826.3 388.4 L827.4 387.6 L828.5 394.4 L829.6 385.1 L830.7 383.3 L831.8 377.7 L832.9 381.4 L834.0 393.6 L835.1 376.2 L836.2 382.4 L837.3 375.2 L838.4 382.0 L839.5 385.0 L840.6 379.2 L841.7 383.3 L842.8 382.7 L843.9 380.9 L845.0 386.4 L846.1 381.4 L847.2 375.7 L848.3 373.4 L849.4 372.1 L850.5 377.9 L851.6 373.6 L852.7 387.6 L853.8 383.0 L854.9 372.7 L856.0 371.7 L857.1 380.9 L858.2 363.4 L859.3 369.9 L860.4 376.2 L861.5 367.0 L862.6 368.7 L863.7 369.0 L864.8 373.5 L865.9 370.7 L867.0 371.7 L868.1 372.3 L869.2 369.3 L870.3 374.2 L871.4 365.1 L872.5 361.4 L873.6 359.4 L874.7 359.9 L875.8 364.7 L876.9 372.0 L878.0 367.5 L879.1 363.4 L880.2 360.7 L881.3 362.9 L882.4 363.0 L883.5 361.7 L884.6 357.0 L885.7 361.1 L886.8 367.8 L887.9 351.8 L889.0 360.6 L890.1 350.8 L891.2 361.4 L892.3 356.3 L893.4 349.2 L894.5 359.3 L895.6 367.1 L896.7 358.2 L897.8 362.8 L898.9 356.3 L900.0 345.6 L901.1 358.1 L902.2 353.2 L903.3 347.7 L904.4 358.4 L905.5 355.6 L906.6 351.3 L907.7 357.8 L908.8 349.0 L909.9 356.1 L911.0 348.1 L912.1 355.1 L913.2 346.9 L914.3 359.4 L915.4 353.1 L916.5 358.7 L917.6 347.4 L918.7 348.9 L919.8 355.1 L920.9 337.3 L922.0 345.3 L923.1 355.5 L924.2 352.5 L925.3 354.8 L926.4 348.3 L927.5 352.4 L928.6 345.8 L929.7 342.4 L930.8 340.6 L931.9 346.0 L933.0 345.8 L934.1 345.2 L935.2 330.6 L936.3 338.1 L937.4 345.1 L938.5 349.0 L939.6 344.5 L940.7 342.8 L941.8 335.6 L942.9 356.8 L944.0 341.2 L945.1 354.8 L946.2 354.1 L947.3 347.5 L948.4 343.2 L949.5 346.5 L950.6 340.0 L951.7 346.9 L952.8 345.5 L953.9 348.0 L955.0 349.9 L956.1 353.7 L957.2 343.0 L958.3 350.0 L959.4 340.8 L960.5 340.2 L961.6 341.5 L962.7 339.6 L963.8 349.3 L964.9 348.9 L966.0 350.6 L967.1 344.1 L968.2 345.5 L969.3 341.3 L970.4 338.4 L971.5 346.4 L972.6 345.5 L973.7 338.6 L974.8 347.1 L975.9 335.5 L977.0 343.3 L978.1 341.1 L979.2 341.6 L980.3 338.9 L981.4 349.1 L982.5 347.2 L983.6 350.4 L984.7 345.2 L985.8 338.2 L986.9 342.9 L988.0 338.9 L989.1 347.2 L990.2 351.0 L991.3 346.8 L992.4 342.3 L993.5 343.6 L994.6 346.6 L995.7 338.6 L996.8 346.7 L997.9 347.2 L999.0 343.7 L1000.1 344.5 L1001.2 347.7 L1002.3 343.0 L1003.4 343.2 L1004.5 351.4 L1005.6 348.9 L1006.7 356.4 L1007.8 343.5 L1008.9 339.9 L1010.0 353.7 L1011.1 354.1 L1012.2 346.1 L1013.3 342.8 L1014.4 350.2 L1015.5 342.1 L1016.6 349.5 L1017.7 340.8 L1018.8 350.7 L1019.9 341.9 L1021.0 351.5 L1022.1 360.5 L1023.2 352.2 L1024.3 357.7 L1025.4 351.1 L1026.5 350.3 L1027.6 347.8 L1028.7 360.6 L1029.8 355.7 L1030.9 364.3 L1032.0 351.0 L1033.1 356.1 L1034.2 358.0 L1035.3 365.0 L1036.4 367.4 L1037.5 355.8 L1038.6 353.9 L1039.7 351.4 L1040.8 366.8 L1041.9 360.3 L1043.0 358.1 L1044.1 361.4 L1045.2 349.7 L1046.3 354.2 L1047.4 367.6 L1048.5 365.5 L1049.6 364.8 L1050.7 359.7 L1051.8 367.9 L1052.9 374.1 L1054.0 360.1 L1055.1 366.6 L1056.2 365.0 L1057.3 369.4 L1058.4 368.3 L1059.5 368.1 L1060.6 365.2 L1061.7 370.0 L1062.8 367.7 L1063.9 370.6 L1065.0 371.7 L1066.1 375.8 L1067.2 370.6 L1068.3 372.5 L1069.4 379.9 L1070.5 374.5 L1071.6 375.0 L1072.7 381.1 L1073.8 379.1 L1074.9 379.0 L1076.0 380.4 L1077.1 374.2 L1078.2 383.0 L1079.3 387.8 L1080.4 385.0 L1081.5 375.7 L1082.6 385.1 L1083.7 380.2 L1084.8 384.1 L1085.9 386.5 L1087.0 381.0 L1088.1 393.5 L1089.2 387.7 L1090.3 392.3 L1091.4 392.3 L1092.5 396.2 L1093.6 396.2 L1094.7 384.4 L1095.8 392.1 L1096.9 382.6 L1098.0 391.1 L1099.1 397.1 L1100.2 398.6 L1101.3 400.9 L1102.4 393.8 L1103.5 397.6 L1104.6 397.1 L1105.7 403.0 L1106.8 405.0 L1107.9 396.5 L1109.0 416.1 L1110.1 399.2 L1111.2 398.0 L1112.3 402.9 L1113.4 404.1 L1114.5 403.7 L1115.6 398.7 L1116.7 408.9 L1117.8 402.9 L1118.9 410.2 L1120.0 410.1 L1121.1 398.4 L1122.2 400.3 L1123.3 400.8 L1124.4 407.1 L1125.5 406.8 L1126.6 408.4 L1127.7 404.2 L1128.8 410.5 L1129.9 415.6 L1131.0 403.9 L1132.1 409.8 L1133.2 412.5 L1134.3 411.6 L1135.4 412.0 L1136.5 421.6 L1137.6 420.2 L1138.7 419.0 L1139.8 412.6 L1140.9 426.8 L1142.0 419.2 L1143.1 415.8 L1144.2 417.6 L1145.3 417.7 L1146.4 430.1 L1147.5 422.4 L1148.6 422.5 L1149.7 413.4 L1150.8 427.0 L1151.9 419.8 L1153.0 420.2 L1154.1 428.7 L1155.2 422.9 L1156.3 431.1 L1157.4 433.1 L1158.5 421.0 L1159.6 429.0 L1160.7 423.4 L1161.8 430.7 L1162.9 435.6 L1164.0 426.4 L1165.1 440.8 L1166.2 432.3 L1167.3 429.1 L1168.4 434.4 L1169.5 439.0 L1170.6 430.2 L1171.7 436.7 L1172.8 431.4 L1173.9 443.1 L1175.0 439.1 L1176.1 437.2 L1177.2 444.1 L1178.3 434.6 L1179.4 439.0 L1180.5 449.1 L1181.6 441.2 L1182.7 448.0 L1183.8 443.6 L1184.9 440.2 L1186.0 442.6 L1187.1 444.5 L1188.2 442.9 L1189.3 441.6 L1190.4 442.2 L1191.5 439.6 L1192.6 446.8 L1193.7 448.4 L1194.8 450.3 L1195.9 439.9 L1197.0 451.4 L1198.1 448.3 L1199.2 442.7 L1200.3 449.5 L1201.4 452.9 L1202.5 452.1 L1203.6 453.3 L1204.7 454.6 L1205.8 454.8 L1206.9 451.2 L1208.0 443.0 L1209.1 449.0 L1210.2 454.1 L1211.3 451.0 L1212.4 456.3 L1213.5 457.2 L1214.6 454.4 L1215.7 462.5 L1216.8 451.0 L1217.9 459.4 L1219.0 454.0 L1220.1 453.2 L1221.2 459.3 L1222.3 454.7 L1223.4 461.3 L1224.5 453.3 L1225.6 458.8 L1226.7 455.6 L1227.8 458.6 L1228.9 458.5 L1230.0 455.8 L1231.1 463.6 L1232.2 456.2 L1233.3 457.8 L1234.4 466.0 L1235.5 466.8 L1236.6 466.0 L1237.7 465.1 L1238.8 473.5 L1239.9 459.7 L1241.0 462.1 L1242.1 461.5 L1243.2 469.7 L1244.3 467.7 L1245.4 471.6 L1246.5 471.5 L1247.6 467.1 L1248.7 465.1 L1249.8 464.9 L1250.9 478.4 L1252.0 473.8 L1253.1 472.8 L1254.2 469.5 L1255.3 470.6 L1256.4 470.5 L1257.5 471.1 L1258.6 463.2 L1259.7 473.1 L1260.8 472.3 L1261.9 475.5 L1263.0 475.7 L1264.1 478.8 L1265.2 475.8 L1266.3 479.6 L1267.4 466.6 L1268.5 473.0 L1269.6 484.8 L1270.7 473.5 L1271.8 477.8 L1272.9 482.2 L1274.0 476.4 L1275.1 483.3 L1276.2 475.2 L1277.3 473.8 L1278.4 476.6 L1279.5 475.9 L1280.6 482.8 L1281.7 482.2 L1282.8 485.2 L1283.9 480.3 L1285.0 494.9 L1286.1 485.1 L1287.2 485.7 L1288.3 488.2 L1289.4 486.0 L1290.5 485.0 L1291.6 488.3 L1292.7 492.0 L1293.8 491.5 L1294.9 493.1 L1296.0 487.7 L1297.1 487.4 L1298.2 498.8 L1299.3 490.5 L1300.4 493.8 L1301.5 495.3 L1302.6 498.5 L1303.7 488.2 L1304.8 492.1 L1305.9 492.8 L1307.0 493.8 L1308.1 486.2 L1309.2 495.6 L1310.3 485.3 L1311.4 498.1 L1312.5 499.5 L1313.6 500.3 L1314.7 493.9 L1315.8 502.6 L1316.9 496.2 L1318.0 495.3 L1319.1 496.7 L1320.2 497.7 L1321.3 502.1 L1322.4 505.1 L1323.5 494.4 L1324.6 500.9 L1325.7 506.8 L1326.8 504.7 L1327.9 506.3 L1329.0 499.2 L1330.1 509.0 L1331.2 500.0 L1332.3 507.1 L1333.4 511.9 L1334.5 514.4 L1335.6 509.7 L1336.7 511.6 L1337.8 506.5 L1338.9 507.5 L1340.0 514.1 L1341.1 510.2 L1342.2 510.2 L1343.3 505.9 L1344.4 512.2 L1345.5 514.5 L1346.6 509.7 L1347.7 511.2 L1348.8 519.4 L1349.9 514.7 L1351.0 513.5 L1352.1 510.8 L1353.2 513.2 L1354.3 515.0 L1355.4 521.4 L1356.5 514.6 L1357.6 523.9 L1358.7 514.4 L1359.8 517.0 L1360.9 521.8 L1362.0 518.3 L1363.1 516.6 L1364.2 519.6 L1365.3 522.2 L1366.4 514.7 L1367.5 520.5 L1368.6 521.5 L1369.7 520.8 L1370.8 525.4 L1371.9 521.1 L1373.0 522.3 L1374.1 524.1 L1375.2 527.0 L1376.3 524.0 L1377.4 530.7 L1378.5 522.4 L1379.6 530.7 L1380.7 523.4 L1381.8 526.3 L1382.9 528.6 L1384.0 535.1 L1385.1 531.3 L1386.2 527.1 L1387.3 533.6 L1388.4 528.6 L1389.5 526.9 L1390.6 531.7 L1391.7 530.8 L1392.8 534.3 L1393.9 529.3 L1395.0 533.0 L1396.1 534.3 L1397.2 533.4 L1398.3 532.7 L1399.4 530.7 L1400.5 536.8 L1401.6 534.4 L1402.7 536.1 L1403.8 533.5 L1404.9 535.1 L1406.0 531.8 L1407.1 536.1 L1408.2 538.8 L1409.3 536.8 L1410.4 539.9 L1411.5 538.3 L1412.6 542.3 L1413.7 537.3 L1414.8 532.6 L1415.9 540.1 L1417.0 538.4 L1418.1 535.9 L1419.2 541.9 L1420.3 540.9 L1421.4 541.9 L1422.5 539.5 L1423.6 541.7 L1424.7 542.2 L1425.8 547.8 L1426.9 539.6 L1428.0 542.3 L1429.1 543.9 L1430.2 537.0 L1431.3 537.8 L1432.4 551.0 L1433.5 537.8 L1434.6 546.2 L1435.7 541.6 L1436.8 542.2 L1437.9 538.4 L1439.0 542.4 L1440.1 548.4 L1441.2 541.3 L1442.3 548.4 L1443.4 547.7 L1444.5 553.8 L1445.6 545.6 L1446.7 551.8 L1447.8 550.8 L1448.9 547.1 L1450.0 542.8 L1451.1 553.8 L1452.2 544.4 L1453.3 547.7 L1454.4 552.5 L1455.5 553.6 L1456.6 547.3 L1457.7 550.3 L1458.8 549.8 L1459.9 555.0 L1461.0 559.7 L1462.1 545.4 L1463.2 554.9 L1464.3 542.6 L1465.4 552.4 L1466.5 549.0 L1467.6 559.6 L1468.7 553.8 L1469.8 551.1 L1470.9 552.1 L1472.0 552.1 L1473.1 555.0 L1474.2 554.1 L1475.3 557.1 L1476.4 560.3 L1477.5 557.7 L1478.6 551.6 L1479.7 550.6 L1480.8 553.7 L1481.9 560.0 L1483.0 555.6 L1484.1 554.8 L1485.2 557.7 L1486.3 552.9 L1487.4 554.1 L1488.5 559.7 L1489.6 557.3 L1490.7 557.1 L1491.8 559.9 L1492.9 557.2 L1494.0 557.1 L1495.1 558.1 L1496.2 561.8 L1497.3 560.3 L1498.4 556.4 L1499.5 559.6 L1500.6 563.0 L1501.7 567.2 L1502.8 557.6 L1503.9 562.7 L1505.0 561.0 L1506.1 564.7 L1507.2 563.7 L1508.3 567.3 L1509.4 564.4 L1510.5 561.2 L1511.6 561.5 L1512.7 564.7 L1513.8 564.9 L1514.9 571.6 L1516.0 569.5 L1517.1 560.5 L1518.2 565.7 L1519.3 560.5 L1520.4 559.6 L1521.5 567.5 L1522.6 567.1 L1523.7 562.2 L1524.8 571.1 L1525.9 562.9 L1527.0 562.5 L1528.1 568.5 L1529.2 567.3 L1530.3 566.3 L1531.4 566.9 L1532.5 568.0 L1533.6 567.1 L1534.7 567.2 L1535.8 561.9 L1536.9 563.9 L1538.0 570.4 L1539.1 566.5 L1540.2 570.7 L1541.3 573.1 L1542.4 568.4 L1543.5 570.7 L1544.6 576.6 L1545.7 572.5 L1546.8 576.4 L1547.9 575.8 L1549.0 573.6 L1550.1 571.2 L1551.2 569.3 L1552.3 568.8 L1553.4 574.1 L1554.5 574.4 L1555.6 572.8 L1556.7 576.3 L1557.8 572.1 L1558.9 577.8 L1560.0 574.9 L1561.1 575.0 L1562.2 575.5 L1563.3 575.5 L1564.4 583.9 L1565.5 571.5 L1566.6 577.4 L1567.7 581.1 L1568.8 579.8 L1569.9 577.0 L1571.0 583.6 L1572.1 575.3 L1573.2 574.8 L1574.3 580.9 L1575.4 575.0 L1576.5 572.5 L1577.6 582.8 L1578.7 582.7 L1579.8 582.9 L1580.9 579.5 L1582.0 581.9 L1583.1 578.7 L1584.2 587.2 L1585.3 584.6 L1586.4 584.7 L1587.5 576.9 L1588.6 585.5 L1589.7 587.9 L1590.8 587.3 L1591.9 586.3 L1593.0 584.2 L1594.1 583.4 L1595.2 586.5 L1596.3 586.2 L1597.4 586.0 L1598.5 584.6 L1599.6 590.9 L1600.7 582.6 L1601.8 586.3 L1602.9 584.9 L1604.0 590.0 L1605.1 591.4 L1606.2 591.1 L1607.3 589.9 L1608.4 583.7 L1609.5 594.3 L1610.6 589.9 L1611.7 588.3 L1612.8 589.0 L1613.9 588.1 L1615.0 590.6 L1616.1 590.6 L1617.2 588.8 L1618.3 582.5 L1619.4 590.2 L1620.5 592.0 L1621.6 592.4 L1622.7 590.6 L1623.8 592.6 L1624.9 594.5 L1626.0 590.3 L1627.1 596.2 L1628.2 586.4 L1629.3 588.7 L1630.4 589.9 L1631.5 585.7 L1632.6 590.1 L1633.7 596.9 L1634.8 597.0 L1635.9 593.9 L1637.0 598.8 L1638.1 594.7 L1639.2 592.8 L1640.3 595.2 L1641.4 594.3 L1642.5 597.0 L1643.6 590.7 L1644.7 598.1 L1645.8 594.1 L1646.9 598.1 L1648.0 591.4 L1649.1 594.8 L1650.2 596.4 L1651.3 599.0 L1652.4 593.1 L1653.5 601.6 L1654.6 598.4 L1655.7 595.7 L1656.8 600.9 L1657.9 597.8 L1659.0 601.1 L1660.1 604.6 L1661.2 600.3 L1662.3 596.8 L1663.4 597.3 L1664.5 600.3 L1665.6 599.7 L1666.7 596.7 L1667.8 597.3 L1668.9 601.3 L1670.0 606.3 L1671.1 592.3 L1672.2 602.0 L1673.3 599.5 L1674.4 602.5 L1675.5 603.0 L1676.6 600.8 L1677.7 598.0 L1678.8 597.1 L1679.9 595.9 L1681.0 604.9 L1682.1 601.0 L1683.2 600.2 L1684.3 601.2 L1685.4 598.3 L1686.5 603.2 L1687.6 606.2 L1688.7 605.8 L1689.8 598.4 L1690.9 606.8 L1692.0 601.0 L1693.1 598.0 L1694.2 600.1 L1695.3 601.0 L1696.4 603.8 L1697.5 601.1 L1698.6 600.0 L1699.7 603.6 L1700.8 609.9 L1701.9 602.7 L1703.0 606.2 L1704.1 605.3 L1705.2 612.6 L1706.3 600.1 L1707.4 608.6 L1708.5 602.1 L1709.6 604.2 L1710.7 605.8 L1711.8 615.0 L1712.9 604.2 L1714.0 601.3 L1715.1 610.3 L1716.2 604.5 L1717.3 606.3 L1718.4 607.1 L1719.5 607.6 L1720.6 607.0 L1721.7 608.4 L1722.8 608.9 L1723.9 610.3 L1725.0 606.9 L1726.1 606.2 L1727.2 605.5 L1728.3 610.2 L1729.4 608.6 L1730.5 610.4 L1731.6 610.5 L1732.7 613.8 L1733.8 610.0 L1734.9 611.6 L1736.0 606.4 L1737.1 606.9 L1738.2 609.2 L1739.3 606.9 L1740.4 612.2 L1741.5 606.8 L1742.6 610.8 L1743.7 604.1 L1744.8 607.9 L1745.9 610.2 L1747.0 610.5 L1748.1 606.5 L1749.2 611.8 L1750.3 614.3 L1751.4 613.6 L1752.5 610.2 L1753.6 610.5 L1754.7 609.1 L1755.8 614.1 L1756.9 616.4 L1758.0 611.3 L1759.1 608.3 L1760.2 613.5 L1761.3 615.0 L1762.4 605.9 L1763.5 613.8 L1764.6 619.3 L1765.7 615.9 L1766.8 615.3 L1767.9 615.0 L1769.0 616.9 L1770.1 611.7 L1771.2 612.1 L1772.3 615.5 L1773.4 612.8 L1774.5 615.4 L1775.6 609.7 L1776.7 617.0 L1777.8 617.3 L1778.9 615.3 L1780.0 615.8 L1781.1 619.8 L1782.2 612.7 L1783.3 613.3 L1784.4 612.9 L1785.5 614.8 L1786.6 613.4 L1787.7 616.3 L1788.8 614.6 L1789.9 612.6 L1791.0 612.4 L1792.1 619.8 L1793.2 616.6 L1794.3 616.3 L1795.4 617.1 L1796.5 616.9 L1797.6 619.2 L1798.7 618.8 L1799.8 615.9 L1800.9 615.4 L1802.0 614.8 L1803.1 614.5 L1804.2 621.6 L1805.3 615.6 L1806.4 612.8 L1807.5 616.0 L1808.6 616.3 L1809.7 619.3 L1810.8 616.2 L1811.9 620.1 L1813.0 619.8 L1814.1 622.2 L1815.2 624.7 L1816.3 626.6 L1817.4 622.8 L1818.5 616.3 L1819.6 618.4 L1820.7 620.2 L1821.8 625.1 L1822.9 621.6 L1824.0 623.0 L1825.1 619.6 L1826.2 621.7 L1827.3 622.1 L1828.4 619.2 L1829.5 622.5 L1830.6 623.4 L1831.7 620.3 L1832.8 623.5 L1833.9 625.2 L1835.0 621.2 L1836.1 621.2 L1837.2 620.5 L1838.3 619.8 L1839.4 621.9 L1840.5 620.5 L1841.6 620.9 L1842.7 619.8 L1843.8 618.0 L1844.9 619.6 L1846.0 623.0 L1847.1 619.2 L1848.2 620.7 L1849.3 626.6 L1850.4 625.4 L1851.5 620.8 L1852.6 624.3 L1853.7 621.1 L1854.8 627.1 L1855.9 621.5 L1857.0 623.3 L1858.1 626.7 L1859.2 621.1 L1860.3 626.7 L1861.4 621.3 L1862.5 624.1 L1863.6 622.8 L1864.7 623.5 L1865.8 624.2 L1866.9 623.7 L1868.0 621.3 L1869.1 626.2 L1870.2 625.9 L1871.3 627.5 L1872.4 627.8 L1873.5 620.9 L1874.6 627.7 L1875.7 627.8 L1876.8 623.2 L1877.9 627.3 L1879.0 628.5 L1880.1 623.5 L1881.2 621.4 L1882.3 624.1 L1883.4 632.1 L1884.5 625.7 L1885.6 622.1 L1886.7 624.6 L1887.8 622.8 L1888.9 624.4 L1890.0 625.7 L1891.1 619.1 L1892.2 626.5 L1893.3 629.3 L1894.4 625.3 L1895.5 624.9 L1896.6 628.7 L1897.7 622.8 L1898.8 622.9 L1899.9 622.6 L1901.0 625.7 L1902.1 627.2 L1903.2 626.0 L1904.3 627.7 L1905.4 628.5 L1906.5 627.7 L1907.6 624.5 L1908.7 625.9 L1909.8 629.8 L1910.9 624.0 L1912.0 626.1 L1913.1 625.7 L1914.2 626.4 L1915.3 624.2 L1916.4 623.5 L1917.5 633.4 L1918.6 629.4 L1919.7 625.3 L1920.8 627.0 L1921.9 628.9 L1923.0 626.4 L1924.1 628.8 L1925.2 625.8 L1926.3 626.5 L1927.4 627.2 L1928.5 626.3 L1929.6 621.4 L1930.7 627.6 L1931.8 628.3 L1932.9 628.9 L1934.0 625.2 L1935.1 628.6 L1936.2 628.4 L1937.3 623.5 L1938.4 622.4 L1939.5 629.2 L1940.6 625.7 L1941.7 630.6 L1942.8 633.5 L1943.9 626.7 L1945.0 626.5 L1946.1 628.3 L1947.2 630.0 L1948.3 625.6 L1949.4 631.6 L1950.5 631.0 L1951.6 630.3 L1952.7 627.3 L1953.8 631.0 L1954.9 630.9 L1956.0 625.9 L1957.1 634.1 L1958.2 628.2 L1959.3 630.0 L1960.4 627.8 L1961.5 630.2 L1962.6 632.2 L1963.7 627.3 L1964.8 625.3 L1965.9 628.4 L1967.0 626.3 L1968.1 627.8 L1969.2 629.4 L1970.3 629.6 L1971.4 633.1 L1972.5 627.4 L1973.6 630.9 L1974.7 628.8 L1975.8 633.5 L1976.9 636.5 L1978.0 631.0 L1979.1 634.5 L1980.2 629.1 L1981.3 626.6 L1982.4 627.5 L1983.5 626.8 L1984.6 628.4 L1985.7 630.2 L1986.8 633.7 L1987.9 632.7 L1989.0 632.1 L1990.1 630.0 L1991.2 629.3 L1992.3 631.3 L1993.4 631.6 L1994.5 631.9 L1995.6 632.3 L1996.7 631.1 L1997.8 626.8 L1998.9 628.8 L2000.0 629.6 L2001.1 635.8 L2002.2 630.6 L2003.3 633.4 L2004.4 635.4 L2005.5 632.6 L2006.6 630.9 L2007.7 631.2 L2008.8 629.5 L2009.9 632.8 L2011.0 634.8 L2012.1 633.5 L2013.2 634.0 L2014.3 633.9 L2015.4 637.1 L2016.5 630.7 L2017.6 632.7 L2018.7 634.1 L2019.8 635.4 L2020.9 626.5 L2022.0 631.2 L2023.1 632.0 L2024.2 630.0 L2025.3 634.6 L2026.4 633.1 L2027.5 631.7 L2028.6 628.7 L2029.7 629.5 L2030.8 630.4 L2031.9 633.9 L2033.0 629.9 L2034.1 627.8 L2035.2 629.4 L2036.3 631.5 L2037.4 637.0 L2038.5 639.1 L2039.6 631.9 L2040.7 635.4 L2041.8 636.5 L2042.9 636.3 L2044.0 632.9 L2045.1 630.1 L2046.2 632.1 L2047.3 628.8 L2048.4 633.9 L2049.5 635.3 L2050.6 628.8 L2051.7 633.3 L2052.8 634.2 L2053.9 636.6 L2055.0 636.9 L2056.1 635.6 L2057.2 632.0 L2058.3 632.8 L2059.4 636.6 L2060.5 632.3 L2061.6 633.7 L2062.7 637.6 L2063.8 634.2 L2064.9 630.6 L2066.0 633.2 L2067.1 635.5 L2068.2 633.6 L2069.3 636.9 L2070.4 637.2 L2071.5 632.6 L2072.6 633.0 L2073.7 634.0 L2074.8 631.3 L2075.9 635.2 L2077.0 633.9 L2078.1 636.2 L2079.2 632.9 L2080.3 632.3 L2081.4 638.9 L2082.5 632.4 L2083.6 633.1 L2084.7 632.8 L2085.8 633.9 L2086.9 632.4 L2088.0 634.6 L2089.1 633.0 L2090.2 633.7 L2091.3 635.7 L2092.4 636.5 L2093.5 636.0 L2094.6 633.1 L2095.7 635.9 L2096.8 634.7 L2097.9 634.7 L2099.0 630.9 L2100.1 636.7 L2101.2 634.7 L2102.3 639.2 L2103.4 636.6" stroke="#0094ff" stroke-width="3.6"/>
<path d="M163.0 1583.0 L163.7 1583.0 L164.4 1583.0 L165.1 1582.9 L165.8 1582.9 L166.5 1582.8 L167.2 1582.7 L167.9 1582.6 L168.6 1582.4 L169.3 1582.2 L170.0 1581.9 L170.7 1581.6 L171.4 1581.3 L172.1 1580.9 L172.8 1580.6 L173.5 1580.3 L174.2 1579.9 L174.9 1579.5 L175.6 1579.2 L176.3 1578.7 L177.0 1578.1 L177.7 1577.4 L178.4 1576.7 L179.1 1576.0 L179.8 1575.3 L180.5 1574.7 L181.2 1574.1 L181.9 1573.5 L182.6 1573.1 L183.3 1572.8 L184.0 1572.7 L184.7 1572.8 L185.4 1573.1 L186.1 1573.7 L186.8 1574.4 L187.5 1575.3 L188.2 1576.2 L188.9 1577.3 L189.6 1578.3 L190.3 1579.3 L191.0 1580.2 L191.7 1581.0 L192.4 1581.6 L193.1 1582.0 L193.8 1582.2 L194.5 1582.2 L195.2 1582.3 L195.9 1582.3 L196.6 1582.3 L197.3 1582.3 L198.0 1582.3 L198.7 1582.4 L199.4 1582.4 L200.1 1582.4 L200.8 1582.4 L201.5 1582.4 L202.2 1582.4 L202.9 1582.4 L203.6 1582.5 L204.3 1582.5 L205.0 1582.5 L205.7 1582.5 L206.4 1582.5 L207.1 1582.5 L207.8 1582.5 L208.5 1582.5 L209.2 1582.5 L209.9 1582.5 L210.6 1582.5 L211.3 1582.5 L212.0 1582.5 L212.7 1582.5 L213.4 1582.5 L214.1 1582.5 L214.8 1582.5 L215.5 1582.5 L216.2 1582.5 L216.9 1582.5 L217.6 1582.5 L218.3 1582.5 L219.0 1582.4 L219.7 1582.4 L220.4 1582.4 L221.1 1582.4 L221.8 1582.4 L222.5 1582.4 L223.2 1582.4 L223.9 1582.4 L224.6 1582.4 L225.3 1582.3 L226.0 1582.3 L226.7 1582.3 L227.4 1582.3 L228.1 1582.3 L228.8 1582.3 L229.5 1582.3 L230.2 1582.2 L230.9 1582.2 L231.6 1582.2 L232.3 1582.2 L233.0 1582.1 L233.7 1582.1 L234.4 1582.1 L235.1 1582.1 L235.8 1582.1 L236.5 1582.0 L237.2 1582.0 L237.9 1582.0 L238.6 1581.9 L239.3 1581.9 L240.0 1581.9 L240.7 1581.9 L241.4 1581.8 L242.1 1581.8 L242.8 1581.8 L243.5 1581.7 L244.2 1581.7 L244.9 1581.7 L245.6 1581.6 L246.3 1581.6 L247.0 1581.6 L247.7 1581.5 L248.4 1581.5 L249.1 1581.4 L249.8 1581.3 L250.5 1581.2 L251.2 1581.1 L251.9 1580.9 L252.6 1580.7 L253.3 1580.5 L254.0 1580.3 L254.7 1580.1 L255.4 1579.9 L256.1 1579.7 L256.8 1579.5 L257.5 1579.3 L258.2 1579.0 L258.9 1578.8 L259.6 1578.6 L260.3 1578.4 L261.0 1578.2 L261.7 1577.9 L262.4 1577.7 L263.1 1577.4 L263.8 1577.1 L264.5 1576.8 L265.2 1576.5 L265.9 1576.2 L266.6 1575.9 L267.3 1575.7 L268.0 1575.4 L268.7 1575.2 L269.4 1575.0 L270.1 1574.8 L270.8 1574.7 L271.5 1574.6 L272.2 1574.6 L272.9 1574.6 L273.6 1574.8 L274.3 1575.1 L275.0 1575.4 L275.7 1575.9 L276.4 1576.3 L277.1 1576.9 L277.8 1577.4 L278.5 1578.0 L279.2 1578.6 L279.9 1579.2 L280.6 1579.7 L281.3 1580.2 L282.0 1580.6 L282.7 1581.0 L283.4 1581.3 L284.1 1581.4 L284.8 1581.5 L285.5 1581.5 L286.2 1581.5 L286.9 1581.5 L287.6 1581.5 L288.3 1581.5 L289.0 1581.4 L289.7 1581.4 L290.4 1581.4 L291.1 1581.4 L291.8 1581.4 L292.5 1581.3 L293.2 1581.3 L293.9 1581.3 L294.6 1581.2 L295.3 1581.2 L296.0 1581.2 L296.7 1581.1 L297.4 1581.1 L298.1 1581.0 L298.8 1581.0 L299.5 1581.0 L300.2 1580.9 L300.9 1580.9 L301.6 1580.8 L302.3 1580.8 L303.0 1580.7 L303.7 1580.7 L304.4 1580.7 L305.1 1580.6 L305.8 1580.6 L306.5 1580.5 L307.2 1580.5 L307.9 1580.4 L308.6 1580.4 L309.3 1580.4 L310.0 1580.3 L310.7 1580.3 L311.4 1580.3 L312.1 1580.2 L312.8 1580.2 L313.5 1580.2 L314.2 1580.1 L314.9 1580.1 L315.6 1580.1 L316.3 1580.1 L317.0 1580.0 L317.7 1580.0 L318.4 1580.0 L319.1 1580.0 L319.8 1580.0 L320.5 1580.0 L321.2 1579.9 L321.9 1579.9 L322.6 1579.9 L323.3 1579.9 L324.0 1579.9 L324.7 1579.9 L325.4 1579.9 L326.1 1579.9 L326.8 1579.8 L327.5 1579.8 L328.2 1579.8 L328.9 1579.8 L329.6 1579.8 L330.3 1579.8 L331.0 1579.8 L331.7 1579.8 L332.4 1579.7 L333.1 1579.7 L333.8 1579.7 L334.5 1579.7 L335.2 1579.7 L335.9 1579.7 L336.6 1579.7 L337.3 1579.7 L338.0 1579.7 L338.7 1579.6 L339.4 1579.6 L340.1 1579.6 L340.8 1579.6 L341.5 1579.6 L342.2 1579.6 L342.9 1579.6 L343.6 1579.6 L344.3 1579.6 L345.0 1579.6 L345.7 1579.5 L346.4 1579.5 L347.1 1579.5 L347.8 1579.5 L348.5 1579.5 L349.2 1579.5 L349.9 1579.5 L350.6 1579.5 L351.3 1579.5 L352.0 1579.5 L352.7 1579.5 L353.4 1579.5 L354.1 1579.4 L354.8 1579.4 L355.5 1579.4 L356.2 1579.4 L356.9 1579.4 L357.6 1579.4 L358.3 1579.4 L359.0 1579.4 L359.7 1579.4 L360.4 1579.4 L361.1 1579.4 L361.8 1579.4 L362.5 1579.4 L363.2 1579.4 L363.9 1579.4 L364.6 1579.4 L365.3 1579.3 L366.0 1579.3 L366.7 1579.3 L367.4 1579.3 L368.1 1579.3 L368.8 1579.3 L369.5 1579.3 L370.2 1579.3 L370.9 1579.3 L371.6 1579.3 L372.3 1579.3 L373.0 1579.3 L373.7 1579.3 L374.4 1579.3 L375.1 1579.3 L375.8 1579.3 L376.5 1579.3 L377.2 1579.3 L377.9 1579.3 L378.6 1579.3 L379.3 1579.3 L380.0 1579.3 L380.7 1579.3 L381.4 1579.3 L382.1 1579.3 L382.8 1579.3 L383.5 1579.3 L384.2 1579.3 L384.9 1579.3 L385.6 1579.3 L386.3 1579.3 L387.0 1579.3 L387.7 1579.3 L388.4 1579.3 L389.1 1579.3 L389.8 1579.3 L390.5 1579.3 L391.2 1579.3 L391.9 1579.3 L392.6 1579.3 L393.3 1579.3 L394.0 1579.3 L394.7 1579.3 L395.4 1579.3 L396.1 1579.4 L396.8 1579.4 L397.5 1579.4 L398.2 1579.4 L398.9 1579.4 L399.6 1579.4 L400.3 1579.4 L401.0 1579.4 L401.7 1579.4 L402.4 1579.4 L403.1 1579.4 L403.8 1579.4 L404.5 1579.4 L405.2 1579.4 L405.9 1579.4 L406.6 1579.4 L407.3 1579.4 L408.0 1579.4 L408.7 1579.4 L409.4 1579.4 L410.1 1579.5 L410.8 1579.5 L411.5 1579.5 L412.2 1579.5 L412.9 1579.5 L413.6 1579.5 L414.3 1579.5 L415.0 1579.5 L415.7 1579.5 L416.4 1579.5 L417.1 1579.5 L417.8 1579.5 L418.5 1579.5 L419.2 1579.5 L419.9 1579.5 L420.6 1579.5 L421.3 1579.5 L422.0 1579.5 L422.7 1579.5 L423.4 1579.5 L424.1 1579.5 L424.8 1579.6 L425.5 1579.6 L426.2 1579.6 L426.9 1579.6 L427.6 1579.6 L428.3 1579.6 L429.0 1579.6 L429.7 1579.6 L430.4 1579.6 L431.1 1579.6 L431.8 1579.6 L432.5 1579.6 L433.2 1579.6 L433.9 1579.6 L434.6 1579.6 L435.3 1579.6 L436.0 1579.6 L436.7 1579.6 L437.4 1579.6 L438.1 1579.6 L438.8 1579.6 L439.5 1579.6 L440.2 1579.6 L440.9 1579.6 L441.6 1579.5 L442.3 1579.5 L443.0 1579.4 L443.7 1579.3 L444.4 1579.2 L445.1 1579.1 L445.8 1578.9 L446.5 1578.8 L447.2 1578.6 L447.9 1578.4 L448.6 1578.3 L449.3 1578.1 L450.0 1577.9 L450.7 1577.7 L451.4 1577.5 L452.1 1577.3 L452.8 1577.1 L453.5 1576.9 L454.2 1576.7 L454.9 1576.5 L455.6 1576.4 L456.3 1576.2 L457.0 1576.0 L457.7 1575.9 L458.4 1575.7 L459.1 1575.6 L459.8 1575.5 L460.5 1575.4 L461.2 1575.3 L461.9 1575.3 L462.6 1575.2 L463.3 1575.2 L464.0 1575.2 L464.7 1575.3 L465.4 1575.4 L466.1 1575.6 L466.8 1575.8 L467.5 1576.0 L468.2 1576.3 L468.9 1576.6 L469.6 1576.8 L470.3 1577.1 L471.0 1577.4 L471.7 1577.7 L472.4 1578.0 L473.1 1578.2 L473.8 1578.4 L474.5 1578.6 L475.2 1578.8 L475.9 1578.9 L476.6 1578.9 L477.3 1578.9 L478.0 1578.8 L478.7 1578.7 L479.4 1578.6 L480.1 1578.4 L480.8 1578.2 L481.5 1577.9 L482.2 1577.7 L482.9 1577.4 L483.6 1577.1 L484.3 1576.7 L485.0 1576.4 L485.7 1576.0 L486.4 1575.6 L487.1 1575.3 L487.8 1574.9 L488.5 1574.5 L489.2 1574.1 L489.9 1573.7 L490.6 1573.3 L491.3 1572.9 L492.0 1572.6 L492.7 1572.2 L493.4 1571.9 L494.1 1571.6 L494.8 1571.3 L495.5 1571.0 L496.2 1570.8 L496.9 1570.6 L497.6 1570.4 L498.3 1570.3 L499.0 1570.2 L499.7 1570.1 L500.4 1570.1 L501.1 1570.2 L501.8 1570.3 L502.5 1570.4 L503.2 1570.7 L503.9 1570.9 L504.6 1571.2 L505.3 1571.6 L506.0 1572.0 L506.7 1572.4 L507.4 1572.8 L508.1 1573.2 L508.8 1573.6 L509.5 1574.1 L510.2 1574.5 L510.9 1574.9 L511.6 1575.3 L512.3 1575.7 L513.0 1576.1 L513.7 1576.4 L514.4 1576.7 L515.1 1576.9 L515.8 1577.1 L516.5 1577.3 L517.2 1577.4 L517.9 1577.4 L518.6 1577.4 L519.3 1577.4 L520.0 1577.4 L520.7 1577.4 L521.4 1577.3 L522.1 1577.3 L522.8 1577.3 L523.5 1577.2 L524.2 1577.2 L524.9 1577.1 L525.6 1577.1 L526.3 1577.0 L527.0 1577.0 L527.7 1576.9 L528.4 1576.8 L529.1 1576.8 L529.8 1576.7 L530.5 1576.6 L531.2 1576.5 L531.9 1576.5 L532.6 1576.4 L533.3 1576.3 L534.0 1576.2 L534.7 1576.1 L535.4 1576.0 L536.1 1575.9 L536.8 1575.7 L537.5 1575.4 L538.2 1575.0 L538.9 1574.6 L539.6 1574.2 L540.3 1573.7 L541.0 1573.1 L541.7 1572.5 L542.4 1571.9 L543.1 1571.2 L543.8 1570.5 L544.5 1569.8 L545.2 1569.1 L545.9 1568.3 L546.6 1567.5 L547.3 1566.7 L548.0 1565.9 L548.7 1565.1 L549.4 1564.3 L550.1 1563.6 L550.8 1562.8 L551.5 1562.0 L552.2 1561.3 L552.9 1560.6 L553.6 1559.9 L554.3 1559.2 L555.0 1558.6 L555.7 1558.0 L556.4 1557.5 L557.1 1557.0 L557.8 1556.6 L558.5 1556.2 L559.2 1555.9 L559.9 1555.7 L560.6 1555.5 L561.3 1555.4 L562.0 1555.4 L562.7 1555.7 L563.4 1556.2 L564.1 1557.0 L564.8 1558.1 L565.5 1559.3 L566.2 1560.7 L566.9 1562.2 L567.6 1563.8 L568.3 1565.4 L569.0 1567.1 L569.7 1568.7 L570.4 1570.3 L571.1 1571.8 L571.8 1573.1 L572.5 1574.3 L573.2 1575.3 L573.9 1576.1 L574.6 1576.6 L575.3 1576.8 L576.0 1576.9 L576.7 1577.1 L577.4 1577.2 L578.1 1577.3 L578.8 1577.5 L579.5 1577.6 L580.2 1577.7 L580.9 1577.8 L581.6 1577.9 L582.3 1578.0 L583.0 1578.0 L583.7 1578.1 L584.4 1578.1 L585.1 1578.2 L585.8 1578.2 L586.5 1578.2 L587.2 1578.2 L587.9 1578.2 L588.6 1578.2 L589.3 1578.2 L590.0 1578.2 L590.7 1578.2 L591.4 1578.2 L592.1 1578.1 L592.8 1578.1 L593.5 1578.1 L594.2 1578.1 L594.9 1578.1 L595.6 1578.1 L596.3 1578.0 L597.0 1578.0 L597.7 1578.0 L598.4 1578.0 L599.1 1577.9 L599.8 1577.9 L600.5 1577.9 L601.2 1577.8 L601.9 1577.8 L602.6 1577.8 L603.3 1577.7 L604.0 1577.7 L604.7 1577.7 L605.4 1577.6 L606.1 1577.6 L606.8 1577.5 L607.5 1577.5 L608.2 1577.5 L608.9 1577.4 L609.6 1577.4 L610.3 1577.3 L611.0 1577.3 L611.7 1577.2 L612.4 1577.2 L613.1 1577.2 L613.8 1577.1 L614.5 1577.1 L615.2 1577.0 L615.9 1577.0 L616.6 1576.9 L617.3 1576.9 L618.0 1576.8 L618.7 1576.8 L619.4 1576.7 L620.1 1576.7 L620.8 1576.6 L621.5 1576.6 L622.2 1576.5 L622.9 1576.5 L623.6 1576.4 L624.3 1576.4 L625.0 1576.3 L625.7 1576.3 L626.4 1576.3 L627.1 1576.2 L627.8 1576.2 L628.5 1576.1 L629.2 1576.1 L629.9 1576.0 L630.6 1576.0 L631.3 1575.9 L632.0 1575.9 L632.7 1575.9 L633.4 1575.8 L634.1 1575.8 L634.8 1575.7 L635.5 1575.7 L636.2 1575.7 L636.9 1575.6 L637.6 1575.6 L638.3 1575.6 L639.0 1575.5 L639.7 1575.5 L640.4 1575.5 L641.1 1575.4 L641.8 1575.4 L642.5 1575.4 L643.2 1575.4 L643.9 1575.3 L644.6 1575.3 L645.3 1575.3 L646.0 1575.3 L646.7 1575.3 L647.4 1575.3 L648.1 1575.2 L648.8 1575.2 L649.5 1575.2 L650.2 1575.2 L650.9 1575.2 L651.6 1575.2 L652.3 1575.2 L653.0 1575.2 L653.7 1575.2 L654.4 1575.2 L655.1 1575.3 L655.8 1575.3 L656.5 1575.4 L657.2 1575.4 L657.9 1575.5 L658.6 1575.5 L659.3 1575.6 L660.0 1575.7 L660.7 1575.7 L661.4 1575.8 L662.1 1575.8 L662.8 1575.9 L663.5 1575.9 L664.2 1576.0 L664.9 1576.0 L665.6 1576.0 L666.3 1576.0 L667.0 1576.0 L667.7 1576.0 L668.4 1576.0 L669.1 1575.9 L669.8 1575.9 L670.5 1575.9 L671.2 1575.8 L671.9 1575.8 L672.6 1575.7 L673.3 1575.7 L674.0 1575.6 L674.7 1575.5 L675.4 1575.5 L676.1 1575.4 L676.8 1575.3 L677.5 1575.2 L678.2 1575.1 L678.9 1575.0 L679.6 1574.9 L680.3 1574.8 L681.0 1574.7 L681.7 1574.6 L682.4 1574.4 L683.1 1574.3 L683.8 1574.2 L684.5 1574.0 L685.2 1573.9 L685.9 1573.7 L686.6 1573.6 L687.3 1573.4 L688.0 1573.3 L688.7 1573.1 L689.4 1573.0 L690.1 1572.8 L690.8 1572.6 L691.5 1572.4 L692.2 1572.3 L692.9 1572.1 L693.6 1571.9 L694.3 1571.7 L695.0 1571.5 L695.7 1571.3 L696.4 1571.1 L697.1 1570.9 L697.8 1570.7 L698.5 1570.5 L699.2 1570.3 L699.9 1570.1 L700.6 1569.8 L701.3 1569.5 L702.0 1569.0 L702.7 1568.6 L703.4 1568.0 L704.1 1567.4 L704.8 1566.8 L705.5 1566.2 L706.2 1565.5 L706.9 1564.8 L707.6 1564.2 L708.3 1563.5 L709.0 1562.8 L709.7 1562.2 L710.4 1561.6 L711.1 1561.0 L711.8 1560.5 L712.5 1560.0 L713.2 1559.6 L713.9 1559.3 L714.6 1559.0 L715.3 1558.9 L716.0 1558.8 L716.7 1558.6 L717.4 1558.5 L718.1 1558.4 L718.8 1558.3 L719.5 1558.2 L720.2 1558.2 L720.9 1558.1 L721.6 1558.0 L722.3 1558.0 L723.0 1557.9 L723.7 1557.9 L724.4 1557.9 L725.1 1557.9 L725.8 1558.1 L726.5 1558.3 L727.2 1558.6 L727.9 1559.0 L728.6 1559.5 L729.3 1560.0 L730.0 1560.5 L730.7 1561.0 L731.4 1561.5 L732.1 1562.0 L732.8 1562.5 L733.5 1562.9 L734.2 1563.2 L734.9 1563.4 L735.6 1563.6 L736.3 1563.6 L737.0 1563.4 L737.7 1563.2 L738.4 1562.8 L739.1 1562.3 L739.8 1561.7 L740.5 1561.1 L741.2 1560.4 L741.9 1559.7 L742.6 1558.9 L743.3 1558.2 L744.0 1557.4 L744.7 1556.7 L745.4 1556.1 L746.1 1555.5 L746.8 1555.0 L747.5 1554.6 L748.2 1554.3 L748.9 1554.1 L749.6 1554.1 L750.3 1554.1 L751.0 1554.2 L751.7 1554.2 L752.4 1554.3 L753.1 1554.4 L753.8 1554.5 L754.5 1554.6 L755.2 1554.7 L755.9 1554.9 L756.6 1555.0 L757.3 1555.2 L758.0 1555.5 L758.7 1556.0 L759.4 1556.5 L760.1 1557.1 L760.8 1557.7 L761.5 1558.3 L762.2 1558.9 L762.9 1559.3 L763.6 1559.6 L764.3 1559.8 L765.0 1559.6 L765.7 1558.7 L766.4 1557.1 L767.1 1555.0 L767.8 1552.5 L768.5 1549.5 L769.2 1546.4 L769.9 1543.1 L770.6 1539.7 L771.3 1536.3 L772.0 1533.2 L772.7 1530.2 L773.4 1527.6 L774.1 1525.4 L774.8 1523.4 L775.5 1521.3 L776.2 1519.1 L776.9 1517.0 L777.6 1514.8 L778.3 1512.6 L779.0 1510.4 L779.7 1508.3 L780.4 1506.2 L781.1 1504.1 L781.8 1502.1 L782.5 1500.2 L783.2 1498.4 L783.9 1496.7 L784.6 1495.2 L785.3 1493.7 L786.0 1492.5 L786.7 1491.3 L787.4 1490.4 L788.1 1489.6 L788.8 1489.1 L789.5 1488.8 L790.2 1488.7 L790.9 1489.2 L791.6 1490.3 L792.3 1492.0 L793.0 1494.2 L793.7 1496.8 L794.4 1499.7 L795.1 1502.7 L795.8 1505.9 L796.5 1509.1 L797.2 1512.2 L797.9 1515.1 L798.6 1517.7 L799.3 1520.3 L800.0 1523.1 L800.7 1525.8 L801.4 1528.4 L802.1 1530.5 L802.8 1532.0 L803.5 1533.1 L804.2 1534.1 L804.9 1534.9 L805.6 1535.7 L806.3 1536.4 L807.0 1537.2 L807.7 1538.1 L808.4 1539.2 L809.1 1540.6 L809.8 1542.2 L810.5 1543.9 L811.2 1545.8 L811.9 1547.7 L812.6 1549.7 L813.3 1551.7 L814.0 1553.5 L814.7 1555.2 L815.4 1556.8 L816.1 1558.1 L816.8 1559.1 L817.5 1559.7 L818.2 1560.2 L818.9 1560.5 L819.6 1560.9 L820.3 1561.3 L821.0 1561.6 L821.7 1561.9 L822.4 1562.2 L823.1 1562.5 L823.8 1562.7 L824.5 1562.9 L825.2 1563.1 L825.9 1563.3 L826.6 1563.4 L827.3 1563.5 L828.0 1563.6 L828.7 1563.6 L829.4 1563.6 L830.1 1563.4 L830.8 1563.0 L831.5 1562.4 L832.2 1561.7 L832.9 1560.9 L833.6 1560.0 L834.3 1559.0 L835.0 1558.0 L835.7 1556.9 L836.4 1555.8 L837.1 1554.7 L837.8 1553.6 L838.5 1552.5 L839.2 1551.5 L839.9 1550.6 L840.6 1549.8 L841.3 1549.1 L842.0 1548.6 L842.7 1548.2 L843.4 1547.8 L844.1 1547.4 L844.8 1547.0 L845.5 1546.6 L846.2 1546.2 L846.9 1545.9 L847.6 1545.6 L848.3 1545.3 L849.0 1545.1 L849.7 1544.9 L850.4 1544.7 L851.1 1544.6 L851.8 1544.6 L852.5 1544.7 L853.2 1545.1 L853.9 1545.6 L854.6 1546.3 L855.3 1547.2 L856.0 1548.1 L856.7 1549.2 L857.4 1550.3 L858.1 1551.4 L858.8 1552.5 L859.5 1553.6 L860.2 1554.6 L860.9 1555.5 L861.6 1556.3 L862.3 1557.2 L863.0 1558.1 L863.7 1559.0 L864.4 1560.0 L865.1 1561.0 L865.8 1562.0 L866.5 1563.0 L867.2 1564.0 L867.9 1564.9 L868.6 1565.8 L869.3 1566.7 L870.0 1567.5 L870.7 1568.2 L871.4 1568.8 L872.1 1569.3 L872.8 1569.7 L873.5 1570.0 L874.2 1570.2 L874.9 1570.2 L875.6 1570.2 L876.3 1570.1 L877.0 1570.0 L877.7 1569.8 L878.4 1569.7 L879.1 1569.5 L879.8 1569.2 L880.5 1569.0 L881.2 1568.7 L881.9 1568.4 L882.6 1568.1 L883.3 1567.8 L884.0 1567.4 L884.7 1567.0 L885.4 1566.4 L886.1 1565.5 L886.8 1564.6 L887.5 1563.5 L888.2 1562.3 L888.9 1561.0 L889.6 1559.8 L890.3 1558.5 L891.0 1557.4 L891.7 1556.3 L892.4 1555.3 L893.1 1554.5 L893.8 1553.8 L894.5 1553.2 L895.2 1552.6 L895.9 1552.0 L896.6 1551.4 L897.3 1550.8 L898.0 1550.2 L898.7 1549.7 L899.4 1549.2 L900.1 1548.8 L900.8 1548.4 L901.5 1548.0 L902.2 1547.8 L902.9 1547.6 L903.6 1547.5 L904.3 1547.5 L905.0 1547.7 L905.7 1548.0 L906.4 1548.5 L907.1 1549.1 L907.8 1549.9 L908.5 1550.7 L909.2 1551.5 L909.9 1552.4 L910.6 1553.3 L911.3 1554.1 L912.0 1555.0 L912.7 1555.7 L913.4 1556.4 L914.1 1557.0 L914.8 1557.5 L915.5 1557.8 L916.2 1557.9 L916.9 1557.9 L917.6 1557.8 L918.3 1557.7 L919.0 1557.5 L919.7 1557.2 L920.4 1556.9 L921.1 1556.6 L921.8 1556.3 L922.5 1555.9 L923.2 1555.5 L923.9 1555.1 L924.6 1554.7 L925.3 1554.3 L926.0 1553.9 L926.7 1553.5 L927.4 1553.2 L928.1 1552.8 L928.8 1552.5 L929.5 1552.2 L930.2 1551.9 L930.9 1551.7 L931.6 1551.5 L932.3 1551.4 L933.0 1551.3 L933.7 1551.3 L934.4 1551.4 L935.1 1551.5 L935.8 1551.7 L936.5 1552.0 L937.2 1552.3 L937.9 1552.7 L938.6 1553.1 L939.3 1553.5 L940.0 1554.0 L940.7 1554.4 L941.4 1554.9 L942.1 1555.3 L942.8 1555.8 L943.5 1556.2 L944.2 1556.6 L944.9 1556.9 L945.6 1557.2 L946.3 1557.5 L947.0 1557.7 L947.7 1557.8 L948.4 1557.9 L949.1 1557.9 L949.8 1557.8 L950.5 1557.6 L951.2 1557.4 L951.9 1557.1 L952.6 1556.8 L953.3 1556.4 L954.0 1556.0 L954.7 1555.6 L955.4 1555.1 L956.1 1554.6 L956.8 1554.1 L957.5 1553.5 L958.2 1553.0 L958.9 1552.5 L959.6 1551.9 L960.3 1551.4 L961.0 1550.9 L961.7 1550.4 L962.4 1550.0 L963.1 1549.6 L963.8 1549.2 L964.5 1548.8 L965.2 1548.6 L965.9 1548.3 L966.6 1548.1 L967.3 1547.9 L968.0 1547.7 L968.7 1547.5 L969.4 1547.3 L970.1 1547.1 L970.8 1546.9 L971.5 1546.7 L972.2 1546.5 L972.9 1546.4 L973.6 1546.2 L974.3 1546.1 L975.0 1545.9 L975.7 1545.8 L976.4 1545.7 L977.1 1545.7 L977.8 1545.6 L978.5 1545.6 L979.2 1545.6 L979.9 1545.7 L980.6 1545.9 L981.3 1546.2 L982.0 1546.6 L982.7 1547.0 L983.4 1547.5 L984.1 1548.1 L984.8 1548.7 L985.5 1549.3 L986.2 1550.0 L986.9 1550.7 L987.6 1551.4 L988.3 1552.1 L989.0 1552.8 L989.7 1553.5 L990.4 1554.2 L991.1 1555.0 L991.8 1555.9 L992.5 1556.9 L993.2 1558.1 L993.9 1559.3 L994.6 1560.4 L995.3 1561.6 L996.0 1562.7 L996.7 1563.8 L997.4 1564.7 L998.1 1565.5 L998.8 1566.0 L999.5 1566.4 L1000.2 1566.5 L1000.9 1566.5 L1001.6 1566.3 L1002.3 1566.2 L1003.0 1565.9 L1003.7 1565.7 L1004.4 1565.3 L1005.1 1565.0 L1005.8 1564.6 L1006.5 1564.1 L1007.2 1563.6 L1007.9 1563.2 L1008.6 1562.6 L1009.3 1562.1 L1010.0 1561.6 L1010.7 1561.0 L1011.4 1560.2 L1012.1 1559.4 L1012.8 1558.4 L1013.5 1557.3 L1014.2 1556.1 L1014.9 1554.8 L1015.6 1553.5 L1016.3 1552.1 L1017.0 1550.6 L1017.7 1549.1 L1018.4 1547.6 L1019.1 1546.0 L1019.8 1544.5 L1020.5 1543.0 L1021.2 1541.5 L1021.9 1540.0 L1022.6 1538.6 L1023.3 1536.9 L1024.0 1535.1 L1024.7 1533.2 L1025.4 1531.2 L1026.1 1529.0 L1026.8 1526.9 L1027.5 1524.7 L1028.2 1522.6 L1028.9 1520.5 L1029.6 1518.5 L1030.3 1516.6 L1031.0 1514.9 L1031.7 1513.3 L1032.4 1512.0 L1033.1 1510.8 L1033.8 1510.0 L1034.5 1509.4 L1035.2 1509.2 L1035.9 1509.2 L1036.6 1509.4 L1037.3 1509.7 L1038.0 1510.0 L1038.7 1510.5 L1039.4 1511.0 L1040.1 1511.7 L1040.8 1512.4 L1041.5 1513.1 L1042.2 1513.9 L1042.9 1514.8 L1043.6 1515.7 L1044.3 1516.6 L1045.0 1517.5 L1045.7 1518.5 L1046.4 1519.4 L1047.1 1520.7 L1047.8 1522.3 L1048.5 1524.1 L1049.2 1526.2 L1049.9 1528.4 L1050.6 1530.6 L1051.3 1532.7 L1052.0 1534.7 L1052.7 1536.5 L1053.4 1538.0 L1054.1 1539.2 L1054.8 1540.0 L1055.5 1540.7 L1056.2 1541.4 L1056.9 1542.1 L1057.6 1542.8 L1058.3 1543.4 L1059.0 1544.0 L1059.7 1544.6 L1060.4 1545.0 L1061.1 1545.5 L1061.8 1545.8 L1062.5 1546.1 L1063.2 1546.3 L1063.9 1546.4 L1064.6 1546.4 L1065.3 1546.3 L1066.0 1546.1 L1066.7 1545.7 L1067.4 1545.3 L1068.1 1544.7 L1068.8 1544.1 L1069.5 1543.5 L1070.2 1542.8 L1070.9 1542.0 L1071.6 1541.3 L1072.3 1540.5 L1073.0 1539.8 L1073.7 1539.0 L1074.4 1538.3 L1075.1 1537.7 L1075.8 1537.1 L1076.5 1536.5 L1077.2 1536.1 L1077.9 1535.7 L1078.6 1535.5 L1079.3 1535.4 L1080.0 1535.4 L1080.7 1535.6 L1081.4 1536.0 L1082.1 1536.4 L1082.8 1536.9 L1083.5 1537.6 L1084.2 1538.3 L1084.9 1539.0 L1085.6 1539.8 L1086.3 1540.7 L1087.0 1541.5 L1087.7 1542.3 L1088.4 1543.1 L1089.1 1543.8 L1089.8 1544.5 L1090.5 1545.1 L1091.2 1545.6 L1091.9 1546.0 L1092.6 1546.3 L1093.3 1546.4 L1094.0 1546.3 L1094.7 1546.0 L1095.4 1545.5 L1096.1 1544.8 L1096.8 1543.9 L1097.5 1542.8 L1098.2 1541.6 L1098.9 1540.3 L1099.6 1539.0 L1100.3 1537.6 L1101.0 1536.1 L1101.7 1534.7 L1102.4 1533.3 L1103.1 1531.9 L1103.8 1530.6 L1104.5 1529.5 L1105.2 1528.3 L1105.9 1527.1 L1106.6 1525.8 L1107.3 1524.4 L1108.0 1522.9 L1108.7 1521.4 L1109.4 1519.9 L1110.1 1518.4 L1110.8 1516.9 L1111.5 1515.4 L1112.2 1513.9 L1112.9 1512.5 L1113.6 1511.1 L1114.3 1509.8 L1115.0 1508.5 L1115.7 1507.4 L1116.4 1506.4 L1117.1 1505.5 L1117.8 1504.7 L1118.5 1504.1 L1119.2 1503.6 L1119.9 1503.3 L1120.6 1503.2 L1121.3 1503.2 L1122.0 1503.3 L1122.7 1503.3 L1123.4 1503.5 L1124.1 1503.6 L1124.8 1503.8 L1125.5 1503.9 L1126.2 1504.2 L1126.9 1504.4 L1127.6 1504.7 L1128.3 1505.0 L1129.0 1505.3 L1129.7 1505.6 L1130.4 1505.9 L1131.1 1506.3 L1131.8 1506.7 L1132.5 1507.1 L1133.2 1507.6 L1133.9 1508.5 L1134.6 1509.6 L1135.3 1511.0 L1136.0 1512.6 L1136.7 1514.2 L1137.4 1515.8 L1138.1 1517.3 L1138.8 1518.8 L1139.5 1520.0 L1140.2 1520.9 L1140.9 1521.4 L1141.6 1521.8 L1142.3 1522.2 L1143.0 1522.5 L1143.7 1522.7 L1144.4 1522.9 L1145.1 1523.1 L1145.8 1523.3 L1146.5 1523.4 L1147.2 1523.6 L1147.9 1523.9 L1148.6 1524.1 L1149.3 1524.4 L1150.0 1524.8 L1150.7 1525.2 L1151.4 1526.0 L1152.1 1527.4 L1152.8 1529.3 L1153.5 1531.7 L1154.2 1534.4 L1154.9 1537.3 L1155.6 1540.4 L1156.3 1543.4 L1157.0 1546.3 L1157.7 1549.0 L1158.4 1551.3 L1159.1 1553.3 L1159.8 1554.6 L1160.5 1555.3 L1161.2 1555.4 L1161.9 1555.3 L1162.6 1555.2 L1163.3 1555.0 L1164.0 1554.7 L1164.7 1554.4 L1165.4 1554.1 L1166.1 1553.7 L1166.8 1553.3 L1167.5 1552.8 L1168.2 1552.3 L1168.9 1551.8 L1169.6 1551.3 L1170.3 1550.8 L1171.0 1550.3 L1171.7 1549.8 L1172.4 1549.3 L1173.1 1548.7 L1173.8 1548.3 L1174.5 1547.8 L1175.2 1547.4 L1175.9 1546.9 L1176.6 1546.6 L1177.3 1546.2 L1178.0 1546.0 L1178.7 1545.7 L1179.4 1545.6 L1180.1 1545.4 L1180.8 1545.4 L1181.5 1545.4 L1182.2 1545.6 L1182.9 1545.9 L1183.6 1546.2 L1184.3 1546.7 L1185.0 1547.2 L1185.7 1547.8 L1186.4 1548.4 L1187.1 1549.0 L1187.8 1549.7 L1188.5 1550.4 L1189.2 1551.2 L1189.9 1551.9 L1190.6 1552.6 L1191.3 1553.2 L1192.0 1553.9 L1192.7 1554.5 L1193.4 1555.0 L1194.1 1555.5 L1194.8 1555.8 L1195.5 1556.1 L1196.2 1556.3 L1196.9 1556.4 L1197.6 1556.4 L1198.3 1556.2 L1199.0 1556.0 L1199.7 1555.6 L1200.4 1555.2 L1201.1 1554.7 L1201.8 1554.1 L1202.5 1553.4 L1203.2 1552.7 L1203.9 1551.9 L1204.6 1551.0 L1205.3 1550.1 L1206.0 1549.2 L1206.7 1548.2 L1207.4 1547.2 L1208.1 1546.2 L1208.8 1545.2 L1209.5 1544.1 L1210.2 1543.1 L1210.9 1542.0 L1211.6 1541.0 L1212.3 1539.9 L1213.0 1538.7 L1213.7 1537.5 L1214.4 1536.1 L1215.1 1534.7 L1215.8 1533.1 L1216.5 1531.4 L1217.2 1529.5 L1217.9 1527.4 L1218.6 1525.1 L1219.3 1522.6 L1220.0 1519.6 L1220.7 1515.8 L1221.4 1511.1 L1222.1 1505.5 L1222.8 1497.8 L1223.5 1486.2 L1224.2 1471.6 L1224.9 1455.4 L1225.6 1439.0 L1226.3 1421.1 L1227.0 1400.1 L1227.7 1379.4 L1228.4 1362.3 L1229.1 1350.8 L1229.8 1341.6 L1230.5 1333.7 L1231.2 1326.1 L1231.9 1318.4 L1232.6 1311.0 L1233.3 1303.9 L1234.0 1297.0 L1234.7 1290.1 L1235.4 1283.3 L1236.1 1276.5 L1236.8 1269.6 L1237.5 1262.7 L1238.2 1256.0 L1238.9 1249.5 L1239.6 1243.3 L1240.3 1237.5 L1241.0 1231.8 L1241.7 1226.3 L1242.4 1221.1 L1243.1 1216.1 L1243.8 1211.5 L1244.5 1206.4 L1245.2 1201.2 L1245.9 1196.6 L1246.6 1193.1 L1247.3 1191.3 L1248.0 1192.0 L1248.7 1195.4 L1249.4 1201.2 L1250.1 1208.8 L1250.8 1217.7 L1251.5 1227.9 L1252.2 1245.7 L1252.9 1268.8 L1253.6 1291.6 L1254.3 1312.7 L1255.0 1334.1 L1255.7 1355.6 L1256.4 1376.9 L1257.1 1398.3 L1257.8 1419.5 L1258.5 1441.5 L1259.2 1465.1 L1259.9 1485.0 L1260.6 1496.6 L1261.3 1505.2 L1262.0 1512.6 L1262.7 1518.8 L1263.4 1523.8 L1264.1 1527.8 L1264.8 1530.8 L1265.5 1533.3 L1266.2 1535.6 L1266.9 1537.8 L1267.6 1539.7 L1268.3 1541.5 L1269.0 1543.1 L1269.7 1544.6 L1270.4 1545.9 L1271.1 1547.1 L1271.8 1548.2 L1272.5 1549.1 L1273.2 1550.0 L1273.9 1550.7 L1274.6 1551.4 L1275.3 1552.1 L1276.0 1552.8 L1276.7 1553.4 L1277.4 1554.0 L1278.1 1554.6 L1278.8 1555.1 L1279.5 1555.7 L1280.2 1556.2 L1280.9 1556.7 L1281.6 1557.1 L1282.3 1557.5 L1283.0 1557.9 L1283.7 1558.3 L1284.4 1558.7 L1285.1 1559.0 L1285.8 1559.3 L1286.5 1559.6 L1287.2 1559.9 L1287.9 1560.1 L1288.6 1560.3 L1289.3 1560.5 L1290.0 1560.7 L1290.7 1560.9 L1291.4 1561.0 L1292.1 1561.2 L1292.8 1561.4 L1293.5 1561.5 L1294.2 1561.7 L1294.9 1561.8 L1295.6 1562.0 L1296.3 1562.2 L1297.0 1562.3 L1297.7 1562.4 L1298.4 1562.6 L1299.1 1562.7 L1299.8 1562.9 L1300.5 1563.0 L1301.2 1563.1 L1301.9 1563.2 L1302.6 1563.4 L1303.3 1563.5 L1304.0 1563.6 L1304.7 1563.7 L1305.4 1563.8 L1306.1 1563.9 L1306.8 1564.0 L1307.5 1564.0 L1308.2 1564.1 L1308.9 1564.2 L1309.6 1564.3 L1310.3 1564.3 L1311.0 1564.4 L1311.7 1564.4 L1312.4 1564.5 L1313.1 1564.5 L1313.8 1564.5 L1314.5 1564.6 L1315.2 1564.6 L1315.9 1564.6 L1316.6 1564.6 L1317.3 1564.6 L1318.0 1564.3 L1318.7 1563.8 L1319.4 1563.2 L1320.1 1562.4 L1320.8 1561.5 L1321.5 1560.5 L1322.2 1559.4 L1322.9 1558.4 L1323.6 1557.4 L1324.3 1556.4 L1325.0 1555.5 L1325.7 1554.7 L1326.4 1554.1 L1327.1 1553.6 L1327.8 1553.0 L1328.5 1552.5 L1329.2 1551.9 L1329.9 1551.4 L1330.6 1550.9 L1331.3 1550.3 L1332.0 1549.8 L1332.7 1549.3 L1333.4 1548.8 L1334.1 1548.3 L1334.8 1547.8 L1335.5 1547.3 L1336.2 1546.9 L1336.9 1546.5 L1337.6 1546.1 L1338.3 1545.7 L1339.0 1545.4 L1339.7 1545.0 L1340.4 1544.7 L1341.1 1544.5 L1341.8 1544.3 L1342.5 1544.1 L1343.2 1543.9 L1343.9 1543.8 L1344.6 1543.7 L1345.3 1543.7 L1346.0 1543.8 L1346.7 1544.3 L1347.4 1545.1 L1348.1 1546.2 L1348.8 1547.5 L1349.5 1548.9 L1350.2 1550.5 L1350.9 1552.1 L1351.6 1553.7 L1352.3 1555.2 L1353.0 1556.7 L1353.7 1558.0 L1354.4 1559.1 L1355.1 1560.0 L1355.8 1560.9 L1356.5 1561.7 L1357.2 1562.5 L1357.9 1563.3 L1358.6 1564.1 L1359.3 1564.9 L1360.0 1565.6 L1360.7 1566.2 L1361.4 1566.8 L1362.1 1567.3 L1362.8 1567.8 L1363.5 1568.1 L1364.2 1568.3 L1364.9 1568.5 L1365.6 1568.7 L1366.3 1568.8 L1367.0 1569.0 L1367.7 1569.1 L1368.4 1569.2 L1369.1 1569.4 L1369.8 1569.5 L1370.5 1569.6 L1371.2 1569.7 L1371.9 1569.8 L1372.6 1570.0 L1373.3 1570.1 L1374.0 1570.2 L1374.7 1570.3 L1375.4 1570.3 L1376.1 1570.4 L1376.8 1570.5 L1377.5 1570.6 L1378.2 1570.7 L1378.9 1570.7 L1379.6 1570.8 L1380.3 1570.9 L1381.0 1570.9 L1381.7 1571.0 L1382.4 1571.0 L1383.1 1571.0 L1383.8 1571.1 L1384.5 1571.1 L1385.2 1571.1 L1385.9 1571.2 L1386.6 1571.2 L1387.3 1571.2 L1388.0 1571.2 L1388.7 1571.2 L1389.4 1571.2 L1390.1 1571.2 L1390.8 1571.1 L1391.5 1571.0 L1392.2 1570.9 L1392.9 1570.8 L1393.6 1570.7 L1394.3 1570.5 L1395.0 1570.3 L1395.7 1570.2 L1396.4 1570.0 L1397.1 1569.7 L1397.8 1569.5 L1398.5 1569.3 L1399.2 1569.0 L1399.9 1568.8 L1400.6 1568.5 L1401.3 1568.3 L1402.0 1568.0 L1402.7 1567.8 L1403.4 1567.5 L1404.1 1567.2 L1404.8 1567.0 L1405.5 1566.7 L1406.2 1566.5 L1406.9 1566.3 L1407.6 1566.0 L1408.3 1565.8 L1409.0 1565.6 L1409.7 1565.4 L1410.4 1565.3 L1411.1 1565.1 L1411.8 1565.0 L1412.5 1564.8 L1413.2 1564.8 L1413.9 1564.7 L1414.6 1564.6 L1415.3 1564.6 L1416.0 1564.6 L1416.7 1564.7 L1417.4 1564.7 L1418.1 1564.9 L1418.8 1565.0 L1419.5 1565.2 L1420.2 1565.5 L1420.9 1565.7 L1421.6 1566.0 L1422.3 1566.2 L1423.0 1566.5 L1423.7 1566.8 L1424.4 1567.1 L1425.1 1567.4 L1425.8 1567.7 L1426.5 1568.0 L1427.2 1568.3 L1427.9 1568.5 L1428.6 1568.8 L1429.3 1569.0 L1430.0 1569.1 L1430.7 1569.3 L1431.4 1569.4 L1432.1 1569.5 L1432.8 1569.6 L1433.5 1569.8 L1434.2 1569.9 L1434.9 1570.0 L1435.6 1570.1 L1436.3 1570.2 L1437.0 1570.3 L1437.7 1570.5 L1438.4 1570.6 L1439.1 1570.7 L1439.8 1570.8 L1440.5 1570.9 L1441.2 1571.0 L1441.9 1571.1 L1442.6 1571.2 L1443.3 1571.3 L1444.0 1571.3 L1444.7 1571.4 L1445.4 1571.5 L1446.1 1571.6 L1446.8 1571.7 L1447.5 1571.7 L1448.2 1571.8 L1448.9 1571.8 L1449.6 1571.9 L1450.3 1571.9 L1451.0 1572.0 L1451.7 1572.0 L1452.4 1572.0 L1453.1 1572.1 L1453.8 1572.1 L1454.5 1572.1 L1455.2 1572.1 L1455.9 1572.1 L1456.6 1571.9 L1457.3 1571.5 L1458.0 1571.1 L1458.7 1570.5 L1459.4 1569.9 L1460.1 1569.3 L1460.8 1568.6 L1461.5 1567.9 L1462.2 1567.3 L1462.9 1566.7 L1463.6 1566.2 L1464.3 1565.8 L1465.0 1565.5 L1465.7 1565.2 L1466.4 1565.0 L1467.1 1564.7 L1467.8 1564.5 L1468.5 1564.3 L1469.2 1564.0 L1469.9 1563.8 L1470.6 1563.6 L1471.3 1563.4 L1472.0 1563.2 L1472.7 1563.0 L1473.4 1562.9 L1474.1 1562.7 L1474.8 1562.5 L1475.5 1562.4 L1476.2 1562.3 L1476.9 1562.1 L1477.6 1562.0 L1478.3 1561.9 L1479.0 1561.9 L1479.7 1561.8 L1480.4 1561.7 L1481.1 1561.7 L1481.8 1561.7 L1482.5 1561.7 L1483.2 1561.9 L1483.9 1562.1 L1484.6 1562.4 L1485.3 1562.8 L1486.0 1563.2 L1486.7 1563.6 L1487.4 1564.0 L1488.1 1564.4 L1488.8 1564.8 L1489.5 1565.1 L1490.2 1565.3 L1490.9 1565.5 L1491.6 1565.5 L1492.3 1565.4 L1493.0 1565.3 L1493.7 1565.1 L1494.4 1564.8 L1495.1 1564.5 L1495.8 1564.1 L1496.5 1563.6 L1497.2 1563.2 L1497.9 1562.6 L1498.6 1562.1 L1499.3 1561.5 L1500.0 1560.6 L1500.7 1559.2 L1501.4 1557.6 L1502.1 1555.6 L1502.8 1553.5 L1503.5 1551.3 L1504.2 1549.1 L1504.9 1546.9 L1505.6 1544.8 L1506.3 1542.9 L1507.0 1541.2 L1507.7 1539.9 L1508.4 1539.1 L1509.1 1538.5 L1509.8 1538.1 L1510.5 1537.6 L1511.2 1537.1 L1511.9 1536.7 L1512.6 1536.3 L1513.3 1535.9 L1514.0 1535.6 L1514.7 1535.2 L1515.4 1534.9 L1516.1 1534.6 L1516.8 1534.3 L1517.5 1534.1 L1518.2 1533.9 L1518.9 1533.7 L1519.6 1533.5 L1520.3 1533.4 L1521.0 1533.3 L1521.7 1533.2 L1522.4 1533.2 L1523.1 1533.2 L1523.8 1533.4 L1524.5 1533.8 L1525.2 1534.4 L1525.9 1535.2 L1526.6 1536.0 L1527.3 1537.1 L1528.0 1538.2 L1528.7 1539.4 L1529.4 1540.6 L1530.1 1542.4 L1530.8 1545.2 L1531.5 1548.9 L1532.2 1552.8 L1532.9 1556.9 L1533.6 1560.5 L1534.3 1563.5 L1535.0 1565.3 L1535.7 1566.3 L1536.4 1567.2 L1537.1 1568.1 L1537.8 1568.8 L1538.5 1569.5 L1539.2 1570.1 L1539.9 1570.7 L1540.6 1571.2 L1541.3 1571.6 L1542.0 1572.0 L1542.7 1572.4 L1543.4 1572.7 L1544.1 1572.9 L1544.8 1573.2 L1545.5 1573.4 L1546.2 1573.6 L1546.9 1573.8 L1547.6 1574.0 L1548.3 1574.2 L1549.0 1574.4 L1549.7 1574.5 L1550.4 1574.7 L1551.1 1574.9 L1551.8 1575.0 L1552.5 1575.1 L1553.2 1575.3 L1553.9 1575.4 L1554.6 1575.5 L1555.3 1575.6 L1556.0 1575.7 L1556.7 1575.7 L1557.4 1575.8 L1558.1 1575.8 L1558.8 1575.9 L1559.5 1575.9 L1560.2 1575.9 L1560.9 1575.9 L1561.6 1575.9 L1562.3 1575.8 L1563.0 1575.8 L1563.7 1575.7 L1564.4 1575.6 L1565.1 1575.6 L1565.8 1575.5 L1566.5 1575.4 L1567.2 1575.3 L1567.9 1575.2 L1568.6 1575.1 L1569.3 1575.0 L1570.0 1575.0 L1570.7 1574.9 L1571.4 1574.8 L1572.1 1574.7 L1572.8 1574.7 L1573.5 1574.6 L1574.2 1574.6 L1574.9 1574.5 L1575.6 1574.5 L1576.3 1574.5 L1577.0 1574.4 L1577.7 1574.4 L1578.4 1574.3 L1579.1 1574.3 L1579.8 1574.3 L1580.5 1574.2 L1581.2 1574.2 L1581.9 1574.1 L1582.6 1574.1 L1583.3 1574.1 L1584.0 1574.0 L1584.7 1574.0 L1585.4 1574.0 L1586.1 1573.9 L1586.8 1573.9 L1587.5 1573.9 L1588.2 1573.8 L1588.9 1573.8 L1589.6 1573.8 L1590.3 1573.8 L1591.0 1573.7 L1591.7 1573.7 L1592.4 1573.7 L1593.1 1573.7 L1593.8 1573.7 L1594.5 1573.6 L1595.2 1573.6 L1595.9 1573.6 L1596.6 1573.6 L1597.3 1573.6 L1598.0 1573.6 L1598.7 1573.6 L1599.4 1573.6 L1600.1 1573.6 L1600.8 1573.6 L1601.5 1573.6 L1602.2 1573.7 L1602.9 1573.7 L1603.6 1573.7 L1604.3 1573.8 L1605.0 1573.8 L1605.7 1573.8 L1606.4 1573.9 L1607.1 1573.9 L1607.8 1574.0 L1608.5 1574.0 L1609.2 1574.1 L1609.9 1574.1 L1610.6 1574.2 L1611.3 1574.2 L1612.0 1574.3 L1612.7 1574.3 L1613.4 1574.3 L1614.1 1574.4 L1614.8 1574.4 L1615.5 1574.5 L1616.2 1574.5 L1616.9 1574.5 L1617.6 1574.5 L1618.3 1574.6 L1619.0 1574.6 L1619.7 1574.6 L1620.4 1574.6 L1621.1 1574.6 L1621.8 1574.6 L1622.5 1574.5 L1623.2 1574.4 L1623.9 1574.3 L1624.6 1574.2 L1625.3 1574.1 L1626.0 1574.0 L1626.7 1573.8 L1627.4 1573.6 L1628.1 1573.4 L1628.8 1573.2 L1629.5 1573.1 L1630.2 1572.8 L1630.9 1572.6 L1631.6 1572.4 L1632.3 1572.2 L1633.0 1572.0 L1633.7 1571.8 L1634.4 1571.6 L1635.1 1571.4 L1635.8 1571.2 L1636.5 1571.1 L1637.2 1570.9 L1637.9 1570.7 L1638.6 1570.6 L1639.3 1570.5 L1640.0 1570.4 L1640.7 1570.3 L1641.4 1570.2 L1642.1 1570.2 L1642.8 1570.2 L1643.5 1570.2 L1644.2 1570.3 L1644.9 1570.4 L1645.6 1570.5 L1646.3 1570.6 L1647.0 1570.8 L1647.7 1571.0 L1648.4 1571.1 L1649.1 1571.3 L1649.8 1571.6 L1650.5 1571.8 L1651.2 1572.0 L1651.9 1572.2 L1652.6 1572.4 L1653.3 1572.6 L1654.0 1572.9 L1654.7 1573.0 L1655.4 1573.2 L1656.1 1573.4 L1656.8 1573.5 L1657.5 1573.6 L1658.2 1573.7 L1658.9 1573.8 L1659.6 1573.9 L1660.3 1574.0 L1661.0 1574.1 L1661.7 1574.2 L1662.4 1574.3 L1663.1 1574.4 L1663.8 1574.5 L1664.5 1574.6 L1665.2 1574.7 L1665.9 1574.8 L1666.6 1574.9 L1667.3 1575.0 L1668.0 1575.0 L1668.7 1575.1 L1669.4 1575.2 L1670.1 1575.3 L1670.8 1575.3 L1671.5 1575.4 L1672.2 1575.5 L1672.9 1575.5 L1673.6 1575.6 L1674.3 1575.6 L1675.0 1575.7 L1675.7 1575.7 L1676.4 1575.7 L1677.1 1575.8 L1677.8 1575.8 L1678.5 1575.8 L1679.2 1575.8 L1679.9 1575.8 L1680.6 1575.8 L1681.3 1575.8 L1682.0 1575.7 L1682.7 1575.7 L1683.4 1575.7 L1684.1 1575.6 L1684.8 1575.6 L1685.5 1575.5 L1686.2 1575.5 L1686.9 1575.4 L1687.6 1575.3 L1688.3 1575.3 L1689.0 1575.2 L1689.7 1575.1 L1690.4 1575.1 L1691.1 1575.0 L1691.8 1574.9 L1692.5 1574.8 L1693.2 1574.8 L1693.9 1574.7 L1694.6 1574.6 L1695.3 1574.6 L1696.0 1574.5 L1696.7 1574.5 L1697.4 1574.4 L1698.1 1574.4 L1698.8 1574.4 L1699.5 1574.3 L1700.2 1574.3 L1700.9 1574.3 L1701.6 1574.3 L1702.3 1574.3 L1703.0 1574.3 L1703.7 1574.4 L1704.4 1574.4 L1705.1 1574.5 L1705.8 1574.5 L1706.5 1574.6 L1707.2 1574.7 L1707.9 1574.8 L1708.6 1574.8 L1709.3 1574.9 L1710.0 1575.0 L1710.7 1575.1 L1711.4 1575.2 L1712.1 1575.3 L1712.8 1575.4 L1713.5 1575.4 L1714.2 1575.5 L1714.9 1575.6 L1715.6 1575.6 L1716.3 1575.7 L1717.0 1575.7 L1717.7 1575.8 L1718.4 1575.8 L1719.1 1575.8 L1719.8 1575.8 L1720.5 1575.8 L1721.2 1575.8 L1721.9 1575.7 L1722.6 1575.7 L1723.3 1575.6 L1724.0 1575.6 L1724.7 1575.5 L1725.4 1575.4 L1726.1 1575.4 L1726.8 1575.3 L1727.5 1575.2 L1728.2 1575.1 L1728.9 1575.0 L1729.6 1575.0 L1730.3 1574.9 L1731.0 1574.8 L1731.7 1574.7 L1732.4 1574.6 L1733.1 1574.5 L1733.8 1574.5 L1734.5 1574.4 L1735.2 1574.3 L1735.9 1574.3 L1736.6 1574.2 L1737.3 1574.1 L1738.0 1574.1 L1738.7 1574.1 L1739.4 1574.0 L1740.1 1574.0 L1740.8 1574.0 L1741.5 1574.0 L1742.2 1574.0 L1742.9 1574.1 L1743.6 1574.1 L1744.3 1574.2 L1745.0 1574.3 L1745.7 1574.4 L1746.4 1574.5 L1747.1 1574.7 L1747.8 1574.8 L1748.5 1574.9 L1749.2 1575.1 L1749.9 1575.2 L1750.6 1575.3 L1751.3 1575.5 L1752.0 1575.6 L1752.7 1575.7 L1753.4 1575.8 L1754.1 1575.9 L1754.8 1576.0 L1755.5 1576.0 L1756.2 1576.1 L1756.9 1576.1 L1757.6 1576.1 L1758.3 1576.1 L1759.0 1576.1 L1759.7 1576.1 L1760.4 1576.1 L1761.1 1576.1 L1761.8 1576.0 L1762.5 1576.0 L1763.2 1576.0 L1763.9 1576.0 L1764.6 1575.9 L1765.3 1575.9 L1766.0 1575.9 L1766.7 1575.8 L1767.4 1575.8 L1768.1 1575.8 L1768.8 1575.7 L1769.5 1575.7 L1770.2 1575.6 L1770.9 1575.6 L1771.6 1575.6 L1772.3 1575.5 L1773.0 1575.5 L1773.7 1575.4 L1774.4 1575.4 L1775.1 1575.3 L1775.8 1575.3 L1776.5 1575.2 L1777.2 1575.2 L1777.9 1575.1 L1778.6 1575.1 L1779.3 1575.0 L1780.0 1575.0 L1780.7 1575.0 L1781.4 1574.9 L1782.1 1574.9 L1782.8 1574.8 L1783.5 1574.8 L1784.2 1574.7 L1784.9 1574.7 L1785.6 1574.7 L1786.3 1574.6 L1787.0 1574.6 L1787.7 1574.5 L1788.4 1574.5 L1789.1 1574.5 L1789.8 1574.5 L1790.5 1574.4 L1791.2 1574.4 L1791.9 1574.4 L1792.6 1574.4 L1793.3 1574.3 L1794.0 1574.3 L1794.7 1574.3 L1795.4 1574.3 L1796.1 1574.3 L1796.8 1574.3 L1797.5 1574.3 L1798.2 1574.3 L1798.9 1574.4 L1799.6 1574.4 L1800.3 1574.5 L1801.0 1574.6 L1801.7 1574.7 L1802.4 1574.8 L1803.1 1574.9 L1803.8 1575.0 L1804.5 1575.2 L1805.2 1575.3 L1805.9 1575.5 L1806.6 1575.6 L1807.3 1575.8 L1808.0 1575.9 L1808.7 1576.1 L1809.4 1576.2 L1810.1 1576.4 L1810.8 1576.5 L1811.5 1576.7 L1812.2 1576.8 L1812.9 1576.9 L1813.6 1577.0 L1814.3 1577.1 L1815.0 1577.2 L1815.7 1577.3 L1816.4 1577.4 L1817.1 1577.4 L1817.8 1577.5 L1818.5 1577.5 L1819.2 1577.5 L1819.9 1577.5 L1820.6 1577.5 L1821.3 1577.5 L1822.0 1577.5 L1822.7 1577.5 L1823.4 1577.5 L1824.1 1577.5 L1824.8 1577.5 L1825.5 1577.5 L1826.2 1577.5 L1826.9 1577.5 L1827.6 1577.5 L1828.3 1577.5 L1829.0 1577.5 L1829.7 1577.5 L1830.4 1577.5 L1831.1 1577.5 L1831.8 1577.5 L1832.5 1577.5 L1833.2 1577.5 L1833.9 1577.5 L1834.6 1577.5 L1835.3 1577.5 L1836.0 1577.4 L1836.7 1577.4 L1837.4 1577.3 L1838.1 1577.2 L1838.8 1577.1 L1839.5 1577.0 L1840.2 1576.9 L1840.9 1576.7 L1841.6 1576.6 L1842.3 1576.4 L1843.0 1576.2 L1843.7 1576.1 L1844.4 1575.9 L1845.1 1575.7 L1845.8 1575.5 L1846.5 1575.3 L1847.2 1575.1 L1847.9 1574.9 L1848.6 1574.7 L1849.3 1574.5 L1850.0 1574.4 L1850.7 1574.2 L1851.4 1574.0 L1852.1 1573.8 L1852.8 1573.6 L1853.5 1573.5 L1854.2 1573.3 L1854.9 1573.2 L1855.6 1573.0 L1856.3 1572.9 L1857.0 1572.8 L1857.7 1572.7 L1858.4 1572.6 L1859.1 1572.6 L1859.8 1572.5 L1860.5 1572.5 L1861.2 1572.5 L1861.9 1572.5 L1862.6 1572.5 L1863.3 1572.6 L1864.0 1572.7 L1864.7 1572.7 L1865.4 1572.8 L1866.1 1572.9 L1866.8 1573.1 L1867.5 1573.2 L1868.2 1573.3 L1868.9 1573.5 L1869.6 1573.6 L1870.3 1573.8 L1871.0 1573.9 L1871.7 1574.1 L1872.4 1574.2 L1873.1 1574.4 L1873.8 1574.6 L1874.5 1574.7 L1875.2 1574.9 L1875.9 1575.0 L1876.6 1575.2 L1877.3 1575.3 L1878.0 1575.4 L1878.7 1575.5 L1879.4 1575.7 L1880.1 1575.8 L1880.8 1575.8 L1881.5 1575.9 L1882.2 1576.0 L1882.9 1576.0 L1883.6 1576.0 L1884.3 1576.0 L1885.0 1576.0 L1885.7 1576.0 L1886.4 1576.0 L1887.1 1576.0 L1887.8 1576.0 L1888.5 1576.0 L1889.2 1576.0 L1889.9 1576.0 L1890.6 1576.0 L1891.3 1576.0 L1892.0 1576.0 L1892.7 1576.0 L1893.4 1576.0 L1894.1 1576.0 L1894.8 1576.0 L1895.5 1576.0 L1896.2 1576.0 L1896.9 1576.0 L1897.6 1576.0 L1898.3 1576.0 L1899.0 1576.0 L1899.7 1576.0 L1900.4 1576.0 L1901.1 1576.0 L1901.8 1576.0 L1902.5 1576.0 L1903.2 1576.0 L1903.9 1576.0 L1904.6 1576.0 L1905.3 1576.0 L1906.0 1576.0 L1906.7 1576.0 L1907.4 1576.1 L1908.1 1576.1 L1908.8 1576.2 L1909.5 1576.2 L1910.2 1576.3 L1910.9 1576.3 L1911.6 1576.4 L1912.3 1576.5 L1913.0 1576.6 L1913.7 1576.7 L1914.4 1576.8 L1915.1 1576.8 L1915.8 1576.9 L1916.5 1577.0 L1917.2 1577.1 L1917.9 1577.2 L1918.6 1577.2 L1919.3 1577.3 L1920.0 1577.4 L1920.7 1577.4 L1921.4 1577.4 L1922.1 1577.5 L1922.8 1577.5 L1923.5 1577.5 L1924.2 1577.5 L1924.9 1577.5 L1925.6 1577.4 L1926.3 1577.4 L1927.0 1577.3 L1927.7 1577.2 L1928.4 1577.1 L1929.1 1576.9 L1929.8 1576.8 L1930.5 1576.6 L1931.2 1576.5 L1931.9 1576.3 L1932.6 1576.1 L1933.3 1576.0 L1934.0 1575.8 L1934.7 1575.6 L1935.4 1575.4 L1936.1 1575.2 L1936.8 1575.0 L1937.5 1574.9 L1938.2 1574.7 L1938.9 1574.5 L1939.6 1574.3 L1940.3 1574.2 L1941.0 1574.0 L1941.7 1573.9 L1942.4 1573.7 L1943.1 1573.6 L1943.8 1573.5 L1944.5 1573.4 L1945.2 1573.3 L1945.9 1573.3 L1946.6 1573.2 L1947.3 1573.2 L1948.0 1573.2 L1948.7 1573.2 L1949.4 1573.3 L1950.1 1573.3 L1950.8 1573.4 L1951.5 1573.5 L1952.2 1573.6 L1952.9 1573.7 L1953.6 1573.9 L1954.3 1574.0 L1955.0 1574.2 L1955.7 1574.3 L1956.4 1574.5 L1957.1 1574.7 L1957.8 1574.9 L1958.5 1575.0 L1959.2 1575.2 L1959.9 1575.4 L1960.6 1575.6 L1961.3 1575.7 L1962.0 1575.9 L1962.7 1576.0 L1963.4 1576.2 L1964.1 1576.3 L1964.8 1576.4 L1965.5 1576.5 L1966.2 1576.6 L1966.9 1576.7 L1967.6 1576.8 L1968.3 1576.8 L1969.0 1576.8 L1969.7 1576.8 L1970.4 1576.8 L1971.1 1576.8 L1971.8 1576.8 L1972.5 1576.8 L1973.2 1576.8 L1973.9 1576.8 L1974.6 1576.8 L1975.3 1576.8 L1976.0 1576.8 L1976.7 1576.8 L1977.4 1576.8 L1978.1 1576.8 L1978.8 1576.8 L1979.5 1576.8 L1980.2 1576.8 L1980.9 1576.8 L1981.6 1576.8 L1982.3 1576.8 L1983.0 1576.8 L1983.7 1576.8 L1984.4 1576.8 L1985.1 1576.8 L1985.8 1576.7 L1986.5 1576.7 L1987.2 1576.6 L1987.9 1576.6 L1988.6 1576.5 L1989.3 1576.4 L1990.0 1576.3 L1990.7 1576.2 L1991.4 1576.1 L1992.1 1576.0 L1992.8 1575.9 L1993.5 1575.8 L1994.2 1575.7 L1994.9 1575.6 L1995.6 1575.4 L1996.3 1575.3 L1997.0 1575.2 L1997.7 1575.1 L1998.4 1574.9 L1999.1 1574.8 L1999.8 1574.7 L2000.5 1574.6 L2001.2 1574.4 L2001.9 1574.3 L2002.6 1574.2 L2003.3 1574.1 L2004.0 1574.0 L2004.7 1573.9 L2005.4 1573.8 L2006.1 1573.7 L2006.8 1573.6 L2007.5 1573.5 L2008.2 1573.5 L2008.9 1573.4 L2009.6 1573.3 L2010.3 1573.3 L2011.0 1573.2 L2011.7 1573.2 L2012.4 1573.2 L2013.1 1573.2 L2013.8 1573.2 L2014.5 1573.2 L2015.2 1573.2 L2015.9 1573.3 L2016.6 1573.3 L2017.3 1573.3 L2018.0 1573.3 L2018.7 1573.4 L2019.4 1573.4 L2020.1 1573.5 L2020.8 1573.5 L2021.5 1573.6 L2022.2 1573.6 L2022.9 1573.7 L2023.6 1573.8 L2024.3 1573.8 L2025.0 1573.9 L2025.7 1574.0 L2026.4 1574.0 L2027.1 1574.1 L2027.8 1574.2 L2028.5 1574.2 L2029.2 1574.3 L2029.9 1574.4 L2030.6 1574.4 L2031.3 1574.5 L2032.0 1574.5 L2032.7 1574.6 L2033.4 1574.6 L2034.1 1574.7 L2034.8 1574.8 L2035.5 1574.8 L2036.2 1574.9 L2036.9 1575.0 L2037.6 1575.0 L2038.3 1575.1 L2039.0 1575.2 L2039.7 1575.3 L2040.4 1575.4 L2041.1 1575.4 L2041.8 1575.5 L2042.5 1575.6 L2043.2 1575.7 L2043.9 1575.8 L2044.6 1575.8 L2045.3 1575.9 L2046.0 1576.0 L2046.7 1576.1 L2047.4 1576.1 L2048.1 1576.2 L2048.8 1576.3 L2049.5 1576.3 L2050.2 1576.4 L2050.9 1576.5 L2051.6 1576.5 L2052.3 1576.6 L2053.0 1576.6 L2053.7 1576.7 L2054.4 1576.7 L2055.1 1576.7 L2055.8 1576.8 L2056.5 1576.8 L2057.2 1576.8 L2057.9 1576.8 L2058.6 1576.8 L2059.3 1576.8 L2060.0 1576.8 L2060.7 1576.7 L2061.4 1576.7 L2062.1 1576.6 L2062.8 1576.5 L2063.5 1576.5 L2064.2 1576.4 L2064.9 1576.3 L2065.6 1576.2 L2066.3 1576.1 L2067.0 1576.0 L2067.7 1575.8 L2068.4 1575.7 L2069.1 1575.6 L2069.8 1575.5 L2070.5 1575.3 L2071.2 1575.2 L2071.9 1575.1 L2072.6 1575.0 L2073.3 1574.8 L2074.0 1574.7 L2074.7 1574.6 L2075.4 1574.5 L2076.1 1574.4 L2076.8 1574.3 L2077.5 1574.2 L2078.2 1574.1 L2078.9 1574.1 L2079.6 1574.0 L2080.3 1574.0 L2081.0 1573.9 L2081.7 1573.9 L2082.4 1573.9 L2083.1 1573.9 L2083.8 1573.9 L2084.5 1573.9 L2085.2 1573.9 L2085.9 1573.9 L2086.6 1573.9 L2087.3 1573.9 L2088.0 1573.9 L2088.7 1573.9 L2089.4 1573.9 L2090.1 1573.9 L2090.8 1573.9 L2091.5 1574.0 L2092.2 1574.0 L2092.9 1574.0 L2093.6 1574.0 L2094.3 1574.0 L2095.0 1574.0 L2095.7 1574.1 L2096.4 1574.1 L2097.1 1574.1 L2097.8 1574.2 L2098.5 1574.2 L2099.2 1574.2 L2099.9 1574.3 L2100.6 1574.3 L2101.3 1574.4 L2102.0 1574.4 L2102.7 1574.5 L2103.4 1574.5" stroke="#000000" stroke-width="3.7"/>
</g>
<g stroke="#6e6e6e" stroke-width="2.6">
<line x1="538.0" y1="297.0" x2="538.0" y2="338.5"/>
<line x1="970.0" y1="281.0" x2="970.0" y2="321.8"/>
<line x1="539.0" y1="488.8" x2="536.8" y2="528.0"/>
<line x1="985.1" y1="505.8" x2="985.1" y2="546.4"/>
<line x1="540.2" y1="668.8" x2="540.2" y2="708.0"/>
<line x1="1000.7" y1="716.5" x2="1000.7" y2="755.3"/>
<line x1="539.0" y1="839.0" x2="537.3" y2="878.2"/>
<line x1="970.0" y1="847.6" x2="970.0" y2="860.3"/>
<line x1="185.6" y1="1483.4" x2="185.6" y2="1555.7"/>
<line x1="274.0" y1="1485.4" x2="274.0" y2="1557.2"/>
<line x1="505.3" y1="1504.8" x2="505.3" y2="1553.9"/>
<line x1="563.7" y1="1490.8" x2="563.7" y2="1538.5"/>
<line x1="724.3" y1="1491.5" x2="724.3" y2="1539.9"/>
<line x1="752.7" y1="1306.8" x2="752.7" y2="1538.0"/>
<line x1="790.7" y1="1422.2" x2="790.7" y2="1469.7"/>
<line x1="851.8" y1="1479.2" x2="851.8" y2="1525.7"/>
<line x1="907.4" y1="1364.4" x2="907.4" y2="1528.5"/>
<line x1="934.7" y1="1486.8" x2="934.7" y2="1534.2"/>
<line x1="979.3" y1="1361.5" x2="979.3" y2="1527.6"/>
<line x1="1035.9" y1="1366.6" x2="1035.9" y2="1491.2"/>
<line x1="1081.1" y1="1471.0" x2="1081.1" y2="1518.3"/>
<line x1="1123.7" y1="1365.6" x2="1123.7" y2="1484.1"/>
<line x1="1185.0" y1="1481.1" x2="1185.0" y2="1528.3"/>
<line x1="1248.4" y1="1137.2" x2="1248.4" y2="1174.2"/>
<line x1="1344.1" y1="1479.2" x2="1344.1" y2="1525.7"/>
<line x1="1416.0" y1="1500.0" x2="1416.0" y2="1546.5"/>
<line x1="1480.2" y1="1314.8" x2="1480.2" y2="1545.6"/>
<line x1="1522.8" y1="1468.7" x2="1522.8" y2="1516.2"/>
</g>
<g font-size="45" text-anchor="middle">
<text x="539.0" y="288.6">11.8</text>
<text x="971.4" y="270.9">19.6</text>
<text x="539.5" y="478.3">11.7</text>
<text x="985.8" y="495.3">19.8</text>
<text x="541.0" y="658.3">11.8</text>
<text x="998.5" y="706.5">20.1</text>
<text x="538.8" y="829.1">11.7</text>
<text x="971.6" y="837.6">19.6</text>
</g>
<g font-size="45" text-anchor="middle">
<text transform="translate(201.7 1451.8) rotate(-90)">5.4</text>
<text transform="translate(290.0 1453.5) rotate(-90)">7.0</text>
<text transform="translate(521.5 1461.4) rotate(-90)">11.2</text>
<text transform="translate(580.2 1446.4) rotate(-90)">12.2</text>
<text transform="translate(740.8 1449.8) rotate(-90)">15.1</text>
<text transform="translate(768.3 1262.6) rotate(-90)">15.7</text>
<text transform="translate(808.2 1377.2) rotate(-90)">16.3</text>
<text transform="translate(868.0 1434.1) rotate(-90)">17.4</text>
<text transform="translate(924.0 1319.8) rotate(-90)">18.4</text>
<text transform="translate(951.4 1441.7) rotate(-90)">18.9</text>
<text transform="translate(994.1 1316.4) rotate(-90)">19.7</text>
<text transform="translate(1051.3 1322.9) rotate(-90)">20.8</text>
<text transform="translate(1097.5 1426.3) rotate(-90)">21.5</text>
<text transform="translate(1138.7 1321.9) rotate(-90)">22.3</text>
<text transform="translate(1200.0 1437.4) rotate(-90)">23.4</text>
<text transform="translate(1264.5 1094.8) rotate(-90)">24.6</text>
<text transform="translate(1360.6 1435.0) rotate(-90)">26.3</text>
<text transform="translate(1432.7 1455.9) rotate(-90)">27.6</text>
<text transform="translate(1495.9 1271.5) rotate(-90)">28.8</text>
<text transform="translate(1539.9 1424.6) rotate(-90)">29.5</text>
</g>
<g stroke="#000" fill="none">
<rect x="163" y="42" width="1942.0" height="1565.0" stroke-width="6"/>
<line x1="163.0" y1="1607" x2="163.0" y2="1636" stroke-width="5.5"/>
<line x1="440.4" y1="1607" x2="440.4" y2="1636" stroke-width="5.5"/>
<line x1="717.9" y1="1607" x2="717.9" y2="1636" stroke-width="5.5"/>
<line x1="995.3" y1="1607" x2="995.3" y2="1636" stroke-width="5.5"/>
<line x1="1272.7" y1="1607" x2="1272.7" y2="1636" stroke-width="5.5"/>
<line x1="1550.1" y1="1607" x2="1550.1" y2="1636" stroke-width="5.5"/>
<line x1="1827.6" y1="1607" x2="1827.6" y2="1636" stroke-width="5.5"/>
<line x1="2105.0" y1="1607" x2="2105.0" y2="1636" stroke-width="5.5"/>
<line x1="301.7" y1="1607" x2="301.7" y2="1621" stroke-width="5.5"/>
<line x1="579.1" y1="1607" x2="579.1" y2="1621" stroke-width="5.5"/>
<line x1="856.6" y1="1607" x2="856.6" y2="1621" stroke-width="5.5"/>
<line x1="1134.0" y1="1607" x2="1134.0" y2="1621" stroke-width="5.5"/>
<line x1="1411.4" y1="1607" x2="1411.4" y2="1621" stroke-width="5.5"/>
<line x1="1688.9" y1="1607" x2="1688.9" y2="1621" stroke-width="5.5"/>
<line x1="1966.3" y1="1607" x2="1966.3" y2="1621" stroke-width="5.5"/>
</g>
<g font-size="69.7" text-anchor="middle">
<text transform="translate(163.3 1710.5) scale(0.95 1)">5</text>
<text transform="translate(440.7 1710.5) scale(0.95 1)">10</text>
<text transform="translate(718.2 1710.5) scale(0.95 1)">15</text>
<text transform="translate(995.6 1710.5) scale(0.95 1)">20</text>
<text transform="translate(1273.0 1710.5) scale(0.95 1)">25</text>
<text transform="translate(1550.4 1710.5) scale(0.95 1)">30</text>
<text transform="translate(1827.9 1710.5) scale(0.95 1)">35</text>
<text transform="translate(2105.3 1710.5) scale(0.95 1)">40</text>
</g>
<text transform="translate(1024.8 1844) scale(1.018 1)" font-size="82">2<tspan font-family="Liberation Serif,serif">&#920;</tspan> (&#176;)</text>
<text transform="translate(95 821) rotate(-90) scale(0.985 1)" font-size="83" text-anchor="middle">Intensity (a.u.)</text>
<line x1="1476.5" y1="99.7" x2="1629" y2="99.7" stroke="#000000" stroke-width="3.7"/>
<text transform="translate(1646 122.9) scale(0.955 1)" font-size="69.7">Lycopene</text>
<line x1="1476.5" y1="181.7" x2="1629" y2="181.7" stroke="#ff0000" stroke-width="3.7"/>
<text transform="translate(1646 204.9) scale(0.955 1)" font-size="69.7">PVP K30</text>
<line x1="1476.5" y1="263.7" x2="1629" y2="263.7" stroke="#0000ff" stroke-width="3.7"/>
<text transform="translate(1646 286.9) scale(0.955 1)" font-size="69.7">5% lycopene</text>
<line x1="1476.5" y1="345.7" x2="1629" y2="345.7" stroke="#007000" stroke-width="3.7"/>
<text transform="translate(1646 368.9) scale(0.955 1)" font-size="69.7">10% lycopene</text>
<line x1="1476.5" y1="427.7" x2="1629" y2="427.7" stroke="#0094ff" stroke-width="3.7"/>
<text transform="translate(1646 450.9) scale(0.955 1)" font-size="69.7">15% lycopene</text>
</svg></body></html>
